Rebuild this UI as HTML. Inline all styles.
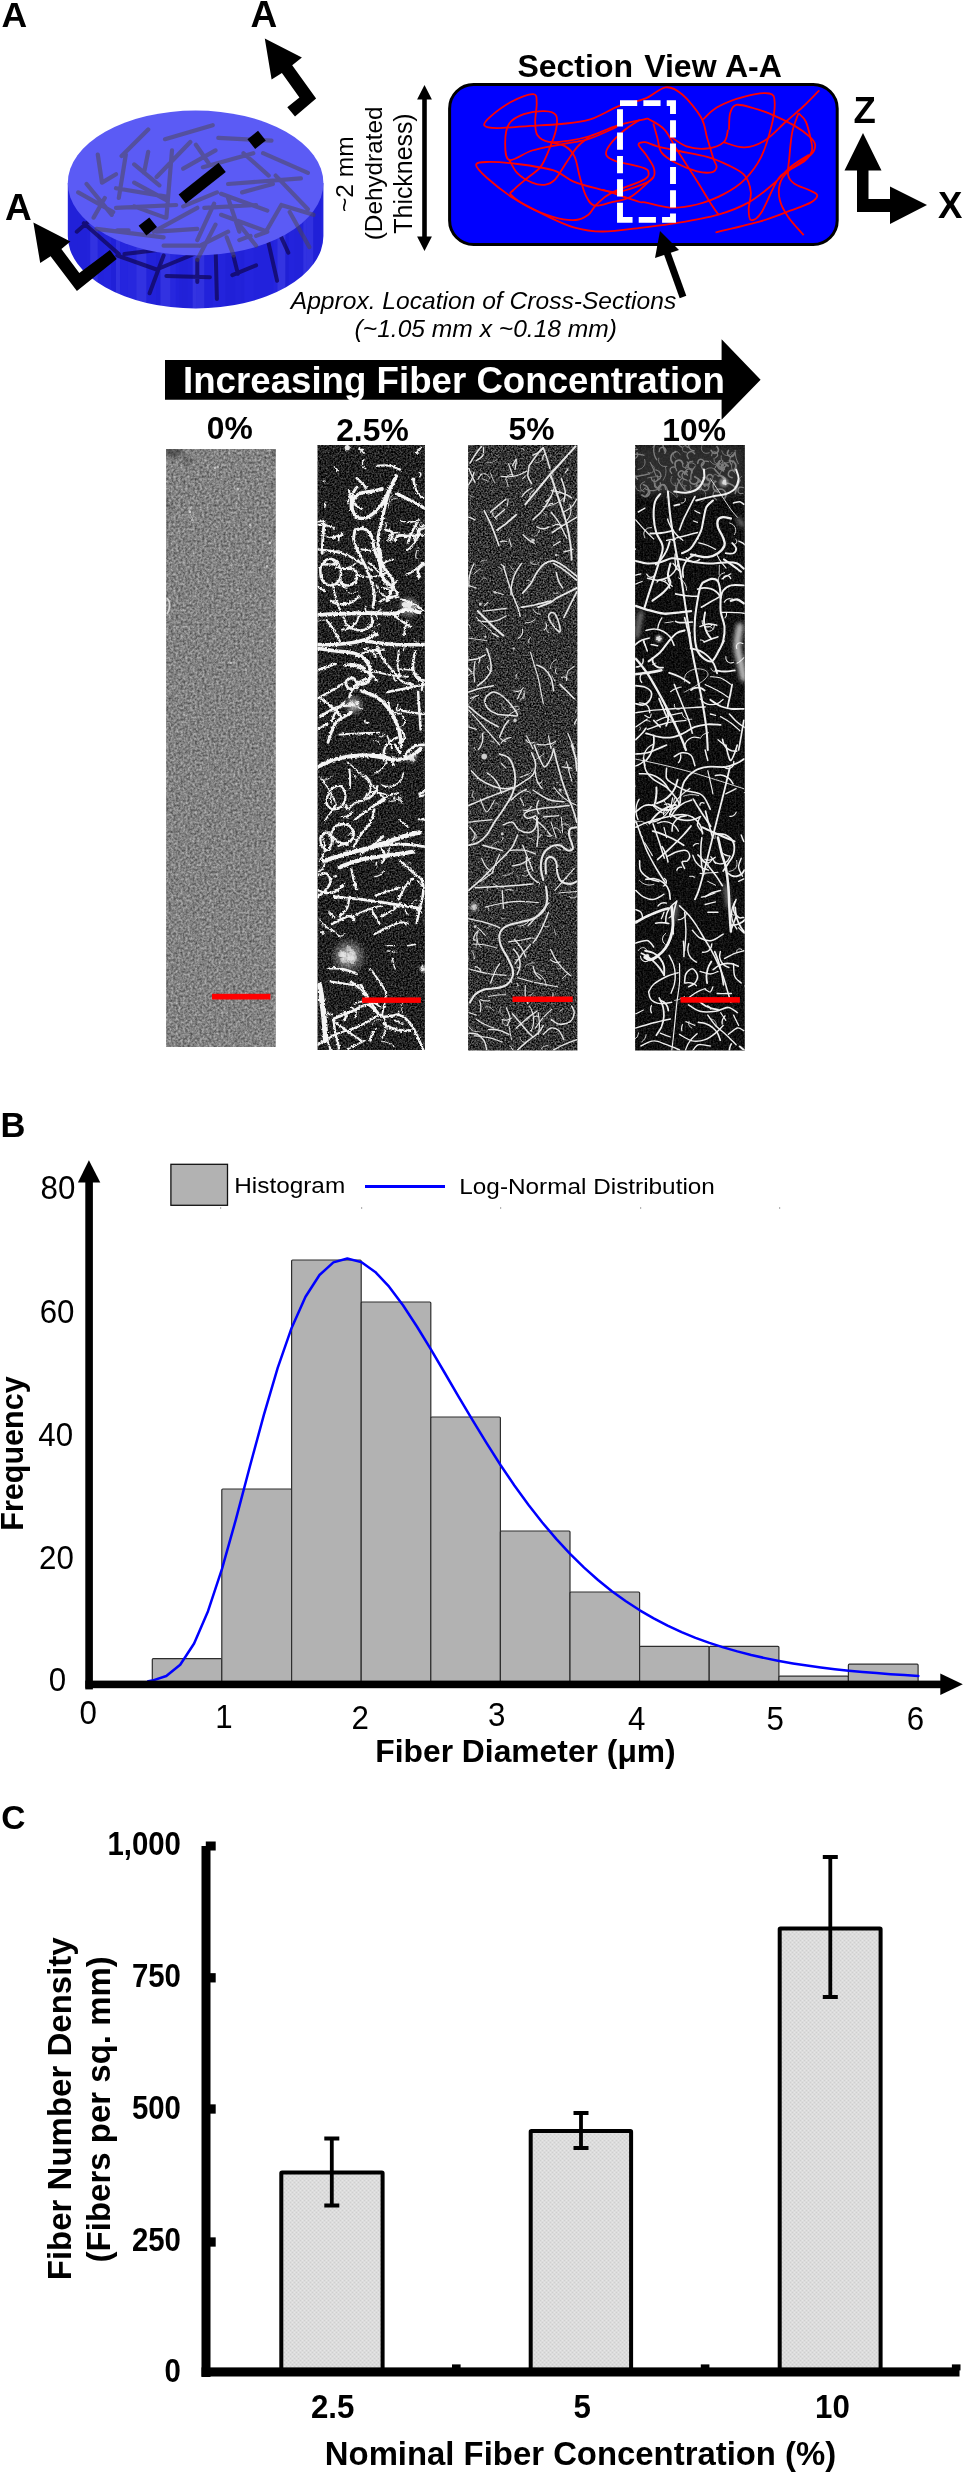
<!DOCTYPE html>
<html><head><meta charset="utf-8"><title>Figure</title>
<style>
html,body{margin:0;padding:0;background:#fff;}
body{width:964px;height:2473px;overflow:hidden;font-family:"Liberation Sans",sans-serif;}
svg{display:block;will-change:transform;}
text{font-family:"Liberation Sans",sans-serif;fill:#000;}
.b{font-weight:bold;}
.i{font-style:italic;}
</style></head><body>
<svg width="964" height="2473" viewBox="0 0 964 2473">
<defs>
<filter id="nz0" x="0" y="0" width="100%" height="100%" color-interpolation-filters="sRGB">
 <feTurbulence type="fractalNoise" baseFrequency="0.75" numOctaves="2" seed="3" result="t"/>
 <feColorMatrix in="t" type="matrix" values="0.9 0.9 0.9 0 -0.82  0.9 0.9 0.9 0 -0.82  0.9 0.9 0.9 0 -0.82  0 0 0 0 1"/>
</filter>
<filter id="nzd" x="0" y="0" width="100%" height="100%" color-interpolation-filters="sRGB">
 <feTurbulence type="fractalNoise" baseFrequency="0.8" numOctaves="2" seed="7" result="t"/>
 <feColorMatrix in="t" type="matrix" values="0.8 0.8 0.8 0 -1.05  0.8 0.8 0.8 0 -1.05  0.8 0.8 0.8 0 -1.05  0 0 0 0 1"/>
</filter>
<filter id="rough" x="-5%" y="-5%" width="110%" height="110%">
 <feTurbulence type="fractalNoise" baseFrequency="0.5" numOctaves="2" seed="11" result="t"/>
 <feDisplacementMap in="SourceGraphic" in2="t" scale="2.2" xChannelSelector="R" yChannelSelector="G"/>
</filter>
</defs>
<text x="1.5" y="26.8" class="b" font-size="35.5">A</text>
<g id="disc">
<path d="M67.8,183 L67.8,236 A127.8,72.5 0 0 0 323.4,236 L323.4,183 Z" fill="#2424de"/>
<clipPath id="sideclip"><path d="M67.8,183 L67.8,236 A127.8,72.5 0 0 0 323.4,236 L323.4,183 Z"/></clipPath>
<g clip-path="url(#sideclip)"><rect x="70.0" y="180" width="7.4" height="135" fill="rgba(0,0,150,0.07)"/><rect x="77.4" y="180" width="9.6" height="135" fill="rgba(0,0,150,0.07)"/><rect x="87.0" y="180" width="3.2" height="135" fill="rgba(0,0,150,0.05)"/><rect x="90.2" y="180" width="7.5" height="135" fill="rgba(200,200,255,0.09)"/><rect x="97.7" y="180" width="6.3" height="135" fill="rgba(0,0,150,0.02)"/><rect x="104.0" y="180" width="7.0" height="135" fill="rgba(200,200,255,0.00)"/><rect x="111.0" y="180" width="5.0" height="135" fill="rgba(0,0,150,0.09)"/><rect x="116.0" y="180" width="4.1" height="135" fill="rgba(200,200,255,0.08)"/><rect x="120.1" y="180" width="7.3" height="135" fill="rgba(200,200,255,0.01)"/><rect x="127.4" y="180" width="9.1" height="135" fill="rgba(200,200,255,0.02)"/><rect x="136.5" y="180" width="9.9" height="135" fill="rgba(200,200,255,0.09)"/><rect x="146.4" y="180" width="9.7" height="135" fill="rgba(0,0,150,0.05)"/><rect x="156.1" y="180" width="4.4" height="135" fill="rgba(0,0,150,0.09)"/><rect x="160.5" y="180" width="9.8" height="135" fill="rgba(200,200,255,0.09)"/><rect x="170.3" y="180" width="5.5" height="135" fill="rgba(200,200,255,0.02)"/><rect x="175.8" y="180" width="3.5" height="135" fill="rgba(0,0,150,0.03)"/><rect x="179.3" y="180" width="3.0" height="135" fill="rgba(0,0,150,0.07)"/><rect x="182.3" y="180" width="5.2" height="135" fill="rgba(0,0,150,0.08)"/><rect x="187.5" y="180" width="5.2" height="135" fill="rgba(0,0,150,0.05)"/><rect x="192.7" y="180" width="3.4" height="135" fill="rgba(200,200,255,0.10)"/><rect x="196.1" y="180" width="8.2" height="135" fill="rgba(200,200,255,0.08)"/><rect x="204.3" y="180" width="8.5" height="135" fill="rgba(0,0,150,0.04)"/><rect x="212.9" y="180" width="3.1" height="135" fill="rgba(200,200,255,0.00)"/><rect x="215.9" y="180" width="9.7" height="135" fill="rgba(0,0,150,0.02)"/><rect x="225.6" y="180" width="9.5" height="135" fill="rgba(0,0,150,0.09)"/><rect x="235.1" y="180" width="5.5" height="135" fill="rgba(0,0,150,0.05)"/><rect x="240.6" y="180" width="3.8" height="135" fill="rgba(0,0,150,0.07)"/><rect x="244.4" y="180" width="9.0" height="135" fill="rgba(0,0,150,0.00)"/><rect x="253.4" y="180" width="3.6" height="135" fill="rgba(0,0,150,0.03)"/><rect x="257.0" y="180" width="9.4" height="135" fill="rgba(0,0,150,0.03)"/><rect x="266.4" y="180" width="6.8" height="135" fill="rgba(0,0,150,0.03)"/><rect x="273.3" y="180" width="4.2" height="135" fill="rgba(200,200,255,0.01)"/><rect x="277.5" y="180" width="7.8" height="135" fill="rgba(200,200,255,0.10)"/><rect x="285.3" y="180" width="3.3" height="135" fill="rgba(0,0,150,0.10)"/><rect x="288.7" y="180" width="5.8" height="135" fill="rgba(0,0,150,0.02)"/><rect x="294.5" y="180" width="8.8" height="135" fill="rgba(0,0,150,0.05)"/><rect x="303.3" y="180" width="3.4" height="135" fill="rgba(200,200,255,0.09)"/><rect x="306.7" y="180" width="6.5" height="135" fill="rgba(200,200,255,0.08)"/><rect x="313.1" y="180" width="8.1" height="135" fill="rgba(0,0,150,0.09)"/><rect x="321.3" y="180" width="8.5" height="135" fill="rgba(0,0,150,0.01)"/></g>
<path d="M83.8,223.2 L118.8,254.1 M124.4,254.1 L169.2,248.5 M117.4,255.5 L156.6,269.5 M163.6,255.5 L149.6,293.3 M156.6,269.5 L197.3,252.7 M166.4,275.9 L209.9,277.3 M197.3,259.7 L197.3,282.1 M215.5,244.3 L216.9,298.9 M233.7,256.9 L237.9,273.7 M232.3,275.1 L256.1,265.3 M265.9,231.7 L277.1,280.7 M281.3,237.3 L288.3,252.7 M76.8,231.7 L99.2,212.0 " stroke="rgba(15,5,85,0.72)" stroke-width="4" stroke-linecap="round" fill="none"/>
<ellipse cx="195.6" cy="183" rx="127.8" ry="72.5" fill="#5b5bf5"/>
<path d="M165.0,139.2 L212.7,125.2 M121.6,156.0 L148.2,129.4 M97.8,154.6 L102.0,182.6 M86.6,184.0 L111.8,214.8 M102.0,182.6 L116.0,174.2 M125.8,154.6 L118.8,198.0 M148.2,151.8 L144.0,172.8 M134.2,164.4 L159.4,185.4 M156.6,177.0 L190.3,142.0 M172.0,150.4 L166.4,217.6 M183.2,168.6 L215.5,150.4 M195.9,144.8 L208.5,163.0 M218.3,137.8 L271.5,140.6 M202.9,167.2 L253.3,153.2 M243.5,153.2 L268.7,175.6 M263.1,153.2 L307.9,172.8 M275.7,175.6 L307.9,209.2 M228.1,184.0 L300.9,178.4 M221.1,193.8 L267.3,210.6 M204.3,207.8 L256.1,205.0 M228.1,198.0 L239.3,231.7 M214.1,203.6 L197.3,240.1 M215.5,224.6 L197.3,259.7 M221.1,214.8 L267.3,231.7 M281.3,205.0 L313.5,214.8 M281.3,205.0 L265.9,231.7 M289.7,212.0 L309.3,247.1 M116.0,188.2 L166.4,196.6 M134.2,182.6 L167.8,200.8 M116.0,207.8 L176.2,205.0 M134.2,206.4 L165.0,217.6 M78.2,192.4 L113.2,212.0 M96.4,228.9 L163.6,237.3 M117.4,230.3 L128.6,230.3 M153.8,231.7 L197.3,207.8 M156.6,231.7 L197.3,228.9 M163.6,245.7 L198.7,245.7 M226.7,237.3 L233.7,255.5 M239.3,240.1 L250.5,235.9 M267.3,231.7 L256.1,235.9 M104.8,198.0 L93.6,217.6 M183.2,206.4 L216.9,192.4 M242.1,192.4 L272.9,184.0 M233.7,217.6 L256.1,245.7 M200.1,245.7 L228.1,231.7 " stroke="rgba(78,70,72,0.5)" stroke-width="4.2" stroke-linecap="round" fill="none"/>
</g>
<g transform="translate(202.6,182.9) rotate(-38.5)" fill="#000"><rect x="-26" y="-5.8" width="51" height="11.6"/><rect x="62.2" y="-6.2" width="13.6" height="12.4"/><rect x="-76.8" y="-6.2" width="13.6" height="12.4"/></g>
<path d="M264.8,38.6 L301.9,57.6 L292.2,65.3 L316.1,98.4 L295,116.6 L287.3,107.3 L299.4,97.6 L281.9,73 L271.6,79.6 Z" fill="#000"/>
<path d="M33.4,222.5 L70.4,241.4 L61.4,249 L79.3,273.1 L109.9,250.1 L116.7,258.9 L76.9,290.9 L50.6,256.2 L40.2,262.9 Z" fill="#000"/>
<text x="250.6" y="27.3" class="b" font-size="37">A</text>
<text x="4.9" y="219.8" class="b" font-size="37">A</text>
<text y="76.6" class="b" font-size="32"><tspan x="517.4">Section</tspan><tspan x="644.2">View</tspan><tspan x="724.9">A-A</tspan></text>
<rect x="449.6" y="84.5" width="387.6" height="160" rx="24" ry="24" fill="#0000ff" stroke="#000" stroke-width="3"/>
<g fill="none" stroke="#ff0000" stroke-width="1.8"><path d="M653.3,123.6 C654.0,126.0 656.1,133.3 657.4,138.1 C658.8,142.9 658.5,148.5 661.6,152.6 C664.7,156.8 670.2,159.9 676.1,163.0 C682.0,166.1 691.0,169.7 696.9,171.3 C702.7,172.8 708.1,173.0 711.4,172.3 C714.7,171.6 716.2,169.4 716.6,167.1 C716.9,164.9 715.0,163.7 713.5,158.8 C711.9,154.0 709.3,145.0 707.2,138.1 C705.2,131.2 705.2,124.6 701.0,117.3 C696.9,110.1 688.2,99.5 682.3,94.5 C676.5,89.5 672.0,86.6 665.7,87.3 C659.5,88.0 652.7,95.6 645.0,98.7 C637.3,101.8 628.4,102.5 619.3,105.9 C610.1,109.4 599.9,116.4 590.2,119.4 C580.5,122.4 571.6,122.9 561.2,124.0 C550.8,125.1 538.7,125.4 528.0,126.1 C517.3,126.7 504.1,128.2 496.9,128.1 C489.6,128.1 485.6,127.4 484.4,125.6 C483.2,123.8 485.1,121.3 489.6,117.3 C494.1,113.4 504.1,105.7 511.4,101.8 C518.7,97.9 529.0,93.9 533.2,94.1 C537.4,94.3 536.4,98.3 536.7,102.8 C537.0,107.4 535.1,116.1 535.2,121.5 C535.4,126.9 535.1,131.6 537.3,135.0 C539.6,138.4 543.4,140.9 548.7,141.8 C554.1,142.8 562.6,141.5 569.5,140.6 C576.4,139.6 582.3,138.5 590.2,136.0 C598.2,133.5 608.2,128.4 617.2,125.6 C626.2,122.9 638.7,120.4 644.2,119.4 C649.6,118.4 646.4,118.1 649.8,119.8 C653.2,121.5 660.3,125.0 664.7,129.8 C669.1,134.6 671.1,140.5 676.1,148.5 C681.1,156.4 688.9,168.2 694.8,177.5 C700.7,186.8 707.4,198.3 711.4,204.5 C715.4,210.7 717.4,213.1 718.7,214.9"/><path d="M617.2,126.7 C612.4,128.8 597.5,136.2 588.2,139.1 C578.8,142.1 570.5,142.4 561.2,144.3 C551.8,146.2 540.8,147.9 532.1,150.5 C523.5,153.1 513.8,161.3 509.3,159.9 C504.8,158.5 505.2,148.3 505.2,142.2 C505.2,136.2 506.2,128.2 509.3,123.6 C512.4,118.9 518.0,116.3 523.8,114.2 C529.7,112.2 539.2,110.9 544.6,111.1 C549.9,111.3 554.1,112.2 556.0,115.3 C557.9,118.4 557.2,123.9 556.0,129.8 C554.8,135.7 551.3,144.3 548.7,150.5 C546.1,156.8 543.9,162.6 540.4,167.1 C537.0,171.6 532.5,173.7 528.0,177.5 C523.5,181.3 516.2,187.0 513.5,190.0 C510.7,192.9 509.0,192.4 511.4,195.1 C513.8,197.9 521.1,202.9 528.0,206.6 C534.9,210.2 544.9,214.7 552.9,216.9 C560.8,219.2 569.8,220.4 575.7,220.0 C581.6,219.7 584.7,217.4 588.2,214.9 C591.6,212.3 592.6,208.1 596.5,204.5 C600.3,200.9 603.0,197.2 611.0,193.1 C618.9,188.9 637.9,183.1 644.2,179.6 C650.4,176.1 648.4,174.0 648.5,172.1 C648.6,170.2 647.7,169.6 644.8,168.4 C641.9,167.2 636.1,165.9 631.1,164.7 C626.1,163.4 619.0,162.6 614.9,160.9 C610.8,159.2 607.0,157.4 606.2,154.7 C605.4,152.0 606.8,148.8 609.9,144.7 C613.0,140.5 619.9,134.0 624.9,129.8 C629.9,125.7 637.3,121.5 639.8,119.8"/><path d="M729.0,129.8 C729.2,127.0 728.9,117.3 730.1,113.2 C731.3,109.0 732.5,105.8 736.3,104.9 C740.1,104.0 746.7,106.3 752.9,108.0 C759.1,109.7 766.7,112.3 773.6,115.3 C780.5,118.2 788.5,122.2 794.4,125.6 C800.3,129.1 805.4,132.9 808.9,136.0 C812.4,139.1 814.8,141.2 815.1,144.3 C815.5,147.4 815.1,150.5 811.0,154.7 C806.8,158.8 795.8,165.1 790.2,169.2 C784.7,173.4 782.6,172.3 777.8,179.6 C772.9,186.8 765.7,206.0 761.2,212.8 C756.7,219.5 752.9,220.7 750.8,220.0 C748.7,219.3 748.7,213.3 748.7,208.6 C748.7,204.0 751.5,197.6 750.8,192.0 C750.1,186.5 748.4,179.9 744.6,175.4 C740.8,170.9 734.2,168.2 728.0,165.1 C721.8,162.0 715.9,159.2 707.2,156.8 C698.6,154.3 684.4,152.3 676.1,150.5 C667.8,148.8 662.6,147.8 657.4,146.4 C652.3,145.0 648.2,142.5 645.0,142.2 C641.8,142.0 638.3,142.6 638.5,144.7 C638.7,146.8 643.5,151.0 646.0,154.7 C648.5,158.4 652.2,163.4 653.5,167.1 C654.8,170.8 655.1,174.3 653.5,177.1 C651.9,179.9 650.2,181.2 644.2,183.7 C638.1,186.2 625.5,191.3 617.2,192.0 C608.9,192.7 601.6,189.6 594.4,187.9 C587.1,186.2 580.5,184.6 573.6,181.7 C566.7,178.7 562.2,173.2 552.9,170.2 C543.5,167.3 528.7,165.4 517.6,164.0 C506.5,162.6 493.4,161.8 486.5,162.0 C479.6,162.1 476.1,162.5 476.1,165.1 C476.1,167.7 480.3,172.0 486.5,177.5 C492.7,183.0 503.8,192.0 513.5,198.3 C523.1,204.5 534.6,210.0 544.6,214.9 C554.6,219.7 563.9,224.5 573.6,227.3 C583.3,230.1 590.9,231.5 602.7,231.5 C614.4,231.5 631.9,228.7 644.2,227.3 C656.4,225.9 663.9,225.2 676.1,223.2 C688.4,221.1 705.5,218.3 717.6,214.9 C729.7,211.4 739.4,207.6 748.7,202.4 C758.1,197.2 766.7,189.6 773.6,183.7 C780.5,177.9 784.3,172.0 790.2,167.1 C796.1,162.3 805.8,156.8 808.9,154.7"/><path d="M549.8,142.2 C552.4,142.9 561.2,144.0 565.3,146.4 C569.5,148.8 572.2,151.6 574.7,156.8 C577.1,162.0 578.0,170.9 579.9,177.5 C581.8,184.1 583.7,191.5 586.1,196.2 C588.5,200.9 590.2,204.5 594.4,205.5 C598.5,206.6 604.8,204.0 611.0,202.4 C617.2,200.9 624.6,200.4 631.7,196.2 C638.8,192.0 649.9,180.3 653.5,177.1"/><path d="M509.3,159.9 C510.7,162.1 513.8,169.6 517.6,173.4 C521.4,177.2 527.6,180.8 532.1,182.7 C536.6,184.6 540.8,185.3 544.6,184.8 C548.4,184.3 551.2,183.6 555.0,179.6 C558.8,175.6 563.6,166.4 567.4,160.9 C571.2,155.4 574.0,150.5 577.8,146.4 C581.6,142.2 588.2,137.7 590.2,136.0"/><path d="M703.1,119.4 C705.5,117.3 710.7,110.8 717.6,107.0 C724.5,103.2 735.9,98.8 744.6,96.6 C753.2,94.3 764.5,92.4 769.5,93.5 C774.5,94.5 774.3,97.5 774.7,102.8 C775.0,108.2 773.8,116.7 771.6,125.6 C769.3,134.6 765.7,147.8 761.2,156.8 C756.7,165.8 750.8,173.4 744.6,179.6 C738.4,185.8 731.8,190.0 723.8,194.1 C715.9,198.3 705.9,202.2 696.9,204.5 C687.9,206.7 678.5,207.9 669.9,207.6 C661.3,207.2 650.0,203.3 645.0,202.4 C640.0,201.5 643.8,203.1 639.8,202.0 C635.8,200.9 627.3,197.9 621.1,195.8 C614.9,193.7 605.5,190.6 602.4,189.5"/><path d="M669.9,136.0 C672.7,137.7 680.3,144.3 686.5,146.4 C692.7,148.5 701.0,149.2 707.2,148.5 C713.5,147.8 720.4,145.4 723.8,142.2 C727.3,139.1 727.3,131.9 728.0,129.8"/><path d="M723.8,142.2 C727.3,143.1 737.7,147.8 744.6,147.4 C751.5,147.1 758.4,144.5 765.3,140.2 C772.2,135.8 779.9,127.0 786.1,121.5 C792.3,116.0 797.1,112.2 802.7,107.0 C808.2,101.8 816.5,93.1 819.3,90.4"/><path d="M798.5,113.2 C797.5,116.3 793.9,124.3 792.3,131.9 C790.7,139.5 789.9,151.6 789.2,158.8 C788.5,166.1 787.3,171.3 788.2,175.4 C789.0,179.6 790.9,181.3 794.4,183.7 C797.8,186.2 805.1,188.1 808.9,190.0 C812.7,191.9 816.9,193.1 817.2,195.1 C817.5,197.2 815.5,199.8 811.0,202.4 C806.5,205.0 798.5,207.6 790.2,210.7 C781.9,213.8 773.6,217.4 761.2,221.1 C748.7,224.7 723.1,230.6 715.5,232.5"/><path d="M798.5,113.2 C799.7,114.6 803.7,117.0 805.8,121.5 C807.9,126.0 809.9,135.3 811.0,140.2 C812.0,145.0 813.0,147.1 812.0,150.5 C811.0,154.0 808.7,157.5 804.8,160.9 C800.8,164.4 792.3,167.5 788.2,171.3 C784.0,175.1 781.2,178.9 779.9,183.7 C778.5,188.6 778.5,194.8 779.9,200.3 C781.2,205.9 784.2,211.1 788.2,216.9 C792.1,222.7 801.1,232.1 803.7,235.2"/></g>
<path d="M620,219.9 L620,103.1 L673,103.1 L673,219.9 Z" fill="none" stroke="#fff" stroke-width="5.9" stroke-dasharray="17.2 6.16"/>
<path d="M424.5,97 L424.5,239" stroke="#000" stroke-width="4.6" fill="none"/>
<path d="M424.5,85 L417.1,99.5 L431.9,99.5 Z M424.5,251.1 L417.1,236.6 L431.9,236.6 Z" fill="#000"/>
<text transform="translate(352.8,174.2) rotate(-90)" text-anchor="middle" font-size="24.5">~2 mm</text>
<text transform="translate(381.6,173.4) rotate(-90)" text-anchor="middle" font-size="24.3">(Dehydrated</text>
<text transform="translate(412,173.5) rotate(-90)" text-anchor="middle" font-size="24.9">Thickness)</text>
<text x="853.6" y="123.3" class="b" font-size="36.5">Z</text>
<text x="938" y="217.8" class="b" font-size="36.5">X</text>
<path d="M863,133 L881.5,170.5 L868.5,170.5 L868.5,199 L890,199 L890,186.5 L927,205 L890,224 L890,212 L857,212 L857,170.5 L844.5,170.5 Z" fill="#000"/>
<text x="483.5" y="308.5" class="i" text-anchor="middle" font-size="24.6">Approx. Location of Cross-Sections</text>
<text x="485.8" y="336.6" class="i" text-anchor="middle" font-size="24.6">(~1.05 mm x ~0.18 mm)</text>
<path d="M683,297 L665,247" stroke="#000" stroke-width="7" fill="none"/>
<path d="M660,231 L679,250 L655,258 Z" fill="#000"/>
<path d="M165,360 L721.6,360 L721.6,339.3 L760.6,379.8 L721.6,419.8 L721.6,399.8 L165,399.8 Z" fill="#000"/>
<text transform="translate(183,393.2) scale(0.978,1)" class="b" font-size="37.5" style="fill:#fff">Increasing Fiber Concentration</text>
<text x="206.8" y="438.9" class="b" font-size="31.8">0%</text>
<text x="336.2" y="441" class="b" font-size="31.8">2.5%</text>
<text x="508.5" y="439.5" class="b" font-size="31.8">5%</text>
<text x="662.3" y="440.5" class="b" font-size="31.8">10%</text>
<defs><filter id="n0" x="0" y="0" width="100%" height="100%" color-interpolation-filters="sRGB"><feTurbulence type="fractalNoise" baseFrequency="0.42" numOctaves="2" seed="4"/><feColorMatrix type="matrix" values="0.6 0 0 0 0.21  0.6 0 0 0 0.21  0.6 0 0 0 0.21  0 0 0 0 1"/></filter><filter id="n25" x="0" y="0" width="100%" height="100%" color-interpolation-filters="sRGB"><feTurbulence type="fractalNoise" baseFrequency="0.6" numOctaves="2" seed="9"/><feColorMatrix type="matrix" values="0.7 0 0 0 -0.22  0.7 0 0 0 -0.22  0.7 0 0 0 -0.22  0 0 0 0 1"/></filter><filter id="n5" x="0" y="0" width="100%" height="100%" color-interpolation-filters="sRGB"><feTurbulence type="fractalNoise" baseFrequency="0.6" numOctaves="2" seed="21"/><feColorMatrix type="matrix" values="0.95 0 0 0 -0.275  0.95 0 0 0 -0.275  0.95 0 0 0 -0.275  0 0 0 0 1"/></filter><filter id="n10" x="0" y="0" width="100%" height="100%" color-interpolation-filters="sRGB"><feTurbulence type="fractalNoise" baseFrequency="0.6" numOctaves="2" seed="33"/><feColorMatrix type="matrix" values="0.35 0 0 0 -0.115  0.35 0 0 0 -0.115  0.35 0 0 0 -0.115  0 0 0 0 1"/></filter><filter id="rough25" x="-5%" y="-2%" width="110%" height="104%"><feTurbulence type="fractalNoise" baseFrequency="0.45" numOctaves="2" seed="5"/><feDisplacementMap in="SourceGraphic" scale="3.2" xChannelSelector="R" yChannelSelector="G"/></filter><filter id="rough5" x="-5%" y="-2%" width="110%" height="104%"><feTurbulence type="fractalNoise" baseFrequency="0.6" numOctaves="2" seed="8"/><feDisplacementMap in="SourceGraphic" scale="1.6" xChannelSelector="R" yChannelSelector="G"/></filter><filter id="blur2" filterUnits="userSpaceOnUse" x="150" y="430" width="620" height="640"><feGaussianBlur stdDeviation="2.2"/></filter><radialGradient id="halo"><stop offset="0" stop-color="#fff" stop-opacity="0.75"/><stop offset="0.5" stop-color="#fff" stop-opacity="0.35"/><stop offset="1" stop-color="#fff" stop-opacity="0"/></radialGradient><filter id="blur4" filterUnits="userSpaceOnUse" x="600" y="430" width="180" height="100"><feGaussianBlur stdDeviation="4"/></filter></defs>
<clipPath id="cp0"><rect x="166.1" y="449" width="109.7" height="598"/></clipPath>
<g clip-path="url(#cp0)">
<rect x="166.1" y="449" width="109.7" height="598" filter="url(#n0)"/>
<g filter="url(#blur2)"><ellipse cx="172" cy="452" rx="12" ry="5" fill="#222" opacity="0.5"/><ellipse cx="188" cy="461" rx="4" ry="3" fill="#222" opacity="0.45"/><ellipse cx="276.5" cy="453" rx="3" ry="5" fill="#222" opacity="0.35"/><ellipse cx="168.5" cy="506" rx="3" ry="2.5" fill="#222" opacity="0.35"/><ellipse cx="276" cy="530" rx="4" ry="2" fill="#222" opacity="0.4"/><ellipse cx="275" cy="488" rx="2" ry="5" fill="#222" opacity="0.25"/></g>
<circle cx="238" cy="489" r="1.2" fill="#ddd" opacity="0.8"/>
<circle cx="250" cy="525" r="1.1" fill="#ddd" opacity="0.8"/>
<circle cx="190" cy="512" r="1.3" fill="#ddd" opacity="0.8"/>
<circle cx="192" cy="520" r="1" fill="#ddd" opacity="0.8"/>
<circle cx="270" cy="543" r="1.2" fill="#ddd" opacity="0.8"/>
<circle cx="267" cy="566" r="1" fill="#ddd" opacity="0.8"/>
<circle cx="238" cy="590" r="1" fill="#ddd" opacity="0.8"/>
<circle cx="231" cy="663" r="1" fill="#ddd" opacity="0.8"/>
<circle cx="215" cy="468" r="1" fill="#ddd" opacity="0.8"/>
<circle cx="218" cy="467" r="1" fill="#ddd" opacity="0.8"/>
<path d="M166.5,598 C170,600 171,608 167,614" stroke="#ddd" stroke-width="1.6" fill="none" opacity="0.85"/>
<path d="M189,511 L192,506 M190,514 L194,521" stroke="#ccc" stroke-width="1" fill="none" opacity="0.7"/>
</g>
<clipPath id="cp1"><rect x="317.5" y="445.1" width="107.4" height="604.8"/></clipPath>
<g clip-path="url(#cp1)">
<rect x="317.5" y="445.1" width="107.4" height="604.8" filter="url(#n25)"/>
<g fill="none" stroke="#f4f4f4" stroke-linecap="round" stroke-linejoin="round" filter="url(#rough25)"><path d="M396.2,476.0 C395.1,478.2 392.1,484.2 389.8,488.9 C387.4,493.6 385.0,500.0 382.0,504.3 C379.0,508.6 375.2,512.2 371.7,514.6 C368.3,517.0 364.5,518.7 361.5,518.5 C358.5,518.3 355.2,516.1 353.7,513.3 C352.2,510.5 351.6,505.0 352.4,501.7 C353.3,498.5 355.9,495.7 358.9,494.0 C361.9,492.3 366.6,492.3 370.5,491.5 C374.3,490.6 380.1,489.3 382.0,488.9" stroke-width="3.54"/><path d="M394.9,478.6 C393.6,481.8 389.3,491.0 387.2,497.9 C385.0,504.7 383.5,513.1 382.0,519.8 C380.5,526.4 378.6,531.8 378.2,537.8 C377.7,543.8 378.4,550.6 379.5,555.8 C380.5,560.9 382.5,564.8 384.6,568.6 C386.8,572.5 391.0,575.7 392.3,578.9 C393.6,582.1 393.2,584.3 392.3,587.9 C391.5,591.6 388.0,598.6 387.2,600.8" stroke-width="3.22"/><path d="M355.0,530.0 C356.5,529.8 361.2,527.7 364.0,528.8 C366.8,529.8 370.0,533.0 371.7,536.5 C373.5,539.9 373.0,545.1 374.3,549.3 C375.6,553.6 378.2,557.9 379.5,562.2 C380.7,566.5 380.7,571.4 382.0,575.1 C383.3,578.7 386.3,582.6 387.2,584.1" stroke-width="3.22"/><path d="M355.0,530.0 C354.8,531.8 353.1,536.5 353.7,540.3 C354.4,544.2 357.0,548.9 358.9,553.2 C360.8,557.5 363.4,561.8 365.3,566.1 C367.2,570.3 369.0,574.2 370.5,578.9 C372.0,583.6 373.9,589.6 374.3,594.4 C374.7,599.1 373.2,605.1 373.0,607.2" stroke-width="2.89"/><path d="M317.7,614.9 C321.8,614.7 333.8,614.0 342.2,613.7 C350.5,613.3 359.3,613.0 367.9,613.0 C376.5,613.0 387.2,614.2 393.6,613.7 C400.0,613.1 402.2,610.0 406.5,609.8 C410.8,609.6 417.2,611.9 419.3,612.4" stroke-width="3.86"/><path d="M317.7,644.5 C320.7,644.5 328.4,645.2 335.7,644.5 C343.0,643.9 354.6,642.4 361.5,640.7 C368.3,639.0 374.3,635.3 376.9,634.2" stroke-width="3.54"/><path d="M361.5,640.7 C366.8,641.3 383.1,643.9 393.6,644.5 C404.1,645.2 419.3,644.5 424.5,644.5" stroke-width="3.54"/><path d="M317.7,648.4 C320.7,648.8 329.5,650.1 335.7,651.0 C341.9,651.8 349.9,651.8 355.0,653.5 C360.2,655.2 364.0,658.2 366.6,661.3 C369.2,664.3 370.2,668.1 370.5,671.5 C370.7,675.0 369.8,679.7 367.9,681.8 C366.0,684.0 360.4,684.0 358.9,684.4" stroke-width="3.54"/><path d="M358.9,684.4 C357.8,683.3 354.6,678.4 352.4,678.0 C350.3,677.5 346.7,680.1 346.0,681.8 C345.4,683.5 346.9,687.2 348.6,688.3 C350.3,689.3 354.6,688.9 356.3,688.3 C358.0,687.6 358.5,685.0 358.9,684.4" stroke-width="2.89"/><path d="M317.7,670.3 C320.7,669.2 332.7,664.9 335.7,663.8" stroke-width="2.57"/><path d="M317.7,698.6 C321.8,696.2 338.1,686.8 342.2,684.4" stroke-width="2.57"/><path d="M320.3,568.6 C321.4,567.1 324.1,560.9 326.7,559.6 C329.3,558.3 333.4,559.0 335.7,560.9 C338.1,562.8 340.4,567.8 340.9,571.2 C341.3,574.6 340.2,579.1 338.3,581.5 C336.4,583.9 332.1,585.8 329.3,585.4 C326.5,584.9 323.1,581.7 321.6,578.9 C320.1,576.1 320.5,570.3 320.3,568.6" stroke-width="2.57"/><path d="M342.2,568.6 C344.3,568.8 352.7,568.0 355.0,569.9 C357.4,571.8 357.4,577.6 356.3,580.2 C355.2,582.8 350.9,584.7 348.6,585.4 C346.2,586.0 343.2,584.3 342.2,584.1" stroke-width="2.57"/><path d="M324.1,522.3 C323.9,524.9 323.2,532.6 322.9,537.8 C322.5,542.9 322.3,550.6 322.2,553.2" stroke-width="2.89"/><path d="M331.9,537.8 C333.6,537.3 340.4,535.6 342.2,535.2" stroke-width="2.57"/><path d="M361.5,690.8 C364.0,691.9 372.2,694.1 376.9,697.3 C381.6,700.5 386.1,704.8 389.8,710.1 C393.4,715.5 396.8,723.4 398.8,729.4 C400.7,735.4 400.9,743.4 401.3,746.1" stroke-width="3.54"/><path d="M387.2,692.1 C390.4,691.5 400.3,689.5 406.5,688.3 C412.7,687.0 421.5,685.0 424.5,684.4" stroke-width="2.57"/><path d="M418.1,692.1 C418.3,695.1 418.9,703.9 419.3,710.1 C419.8,716.3 420.4,726.2 420.6,729.4" stroke-width="2.57"/><path d="M400.0,710.1 C402.2,710.6 408.8,712.1 412.9,712.7 C417.0,713.3 422.6,713.8 424.5,714.0" stroke-width="2.57"/><path d="M320.3,716.6 C322.9,715.1 330.4,709.5 335.7,707.6 C341.1,705.6 349.7,705.4 352.4,705.0" stroke-width="2.57"/><path d="M328.0,742.3 C329.3,739.1 331.9,727.9 335.7,723.0 C339.6,718.1 348.6,714.4 351.2,712.7" stroke-width="2.89"/><path d="M339.6,734.6 C343.2,734.4 354.8,733.6 361.5,733.3 C368.1,733.0 376.5,732.7 379.5,732.6" stroke-width="1.93"/><path d="M415.5,651.0 C415.1,653.3 412.7,660.6 412.9,665.1 C413.1,669.6 414.8,675.4 416.8,678.0 C418.7,680.5 423.2,680.1 424.5,680.5" stroke-width="2.57"/><path d="M424.5,563.5 C423.4,564.6 418.9,567.6 418.1,569.9 C417.2,572.3 419.1,576.4 419.3,577.6" stroke-width="2.89"/><path d="M376.9,648.4 C378.2,650.5 381.8,657.4 384.6,661.3 C387.4,665.1 390.6,668.1 393.6,671.5 C396.6,675.0 399.4,679.7 402.6,681.8 C405.8,684.0 411.2,684.0 412.9,684.4" stroke-width="2.25"/><path d="M398.8,651.0 C398.5,653.3 397.3,661.0 397.5,665.1 C397.7,669.2 399.6,673.7 400.0,675.4" stroke-width="1.93"/><path d="M397.5,494.0 C400.0,495.3 408.4,499.4 412.9,501.7 C417.4,504.1 422.6,507.1 424.5,508.2" stroke-width="3.22"/><path d="M412.9,478.6 C413.6,480.7 415.1,488.2 416.8,491.5 C418.5,494.7 422.1,496.8 423.2,497.9" stroke-width="2.25"/><path d="M416.8,452.9 C417.4,452.0 420.0,448.6 420.6,447.7" stroke-width="2.25"/><path d="M376.9,465.7 C379.0,465.7 385.9,465.1 389.8,465.7 C393.6,466.4 398.3,468.9 400.0,469.6" stroke-width="2.25"/><path d="M407.8,542.9 C408.6,540.8 411.4,533.3 412.9,530.0 C414.4,526.8 416.1,524.7 416.8,523.6" stroke-width="2.25"/><path d="M397.5,535.2 C400.0,535.3 408.4,535.8 412.9,535.8 C417.4,535.8 422.6,535.3 424.5,535.2" stroke-width="2.25"/><path d="M385.9,530.0 C387.0,530.5 391.5,530.9 392.3,532.6 C393.2,534.3 391.3,539.0 391.0,540.3" stroke-width="2.57"/><path d="M326.7,620.1 C327.8,621.6 331.0,625.7 333.2,629.1 C335.3,632.5 338.5,638.7 339.6,640.7" stroke-width="2.25"/><path d="M343.4,617.5 C344.3,619.0 345.6,624.4 348.6,626.5 C351.6,628.7 357.6,630.6 361.5,630.4 C365.3,630.2 370.0,627.4 371.7,625.2 C373.5,623.1 371.7,618.8 371.7,617.5" stroke-width="2.25"/><path d="M317.7,549.3 C320.7,549.8 330.6,550.8 335.7,551.9 C340.9,553.0 344.3,553.8 348.6,555.8 C352.9,557.7 359.3,562.2 361.5,563.5" stroke-width="2.25"/><path d="M387.2,581.5 C388.9,583.6 397.7,591.6 397.5,594.4 C397.3,597.1 388.9,596.9 385.9,598.2 C382.9,599.5 380.5,601.4 379.5,602.1" stroke-width="2.25"/><path d="M333.2,586.6 C333.6,588.6 334.7,594.4 335.7,598.2 C336.8,602.1 338.9,607.9 339.6,609.8" stroke-width="1.93"/><path d="M325.4,591.8 C324.1,590.9 319.0,587.5 317.7,586.6" stroke-width="1.93"/><path d="M400.0,669.0 C402.2,669.2 410.8,670.0 412.9,670.3" stroke-width="1.61"/><path d="M374.3,671.5 C377.3,672.2 386.8,674.5 392.3,675.4 C397.9,676.3 405.2,676.5 407.8,676.7" stroke-width="1.93"/><path d="M317.7,729.4 C319.4,728.4 326.3,724.1 328.0,723.0" stroke-width="1.93"/><path d="M358.9,447.7 C359.7,448.6 363.2,452.0 364.0,452.9" stroke-width="1.93"/><path d="M361.5,549.3 C363.0,549.6 369.0,550.4 370.5,550.6" stroke-width="1.93"/><path d="M387.2,735.9 C388.0,738.0 391.5,746.6 392.3,748.7" stroke-width="1.61"/><path d="M317.7,766.9 C320.7,765.6 328.4,761.1 335.7,759.1 C343.0,757.2 353.7,755.6 361.5,755.3 C369.2,755.0 376.0,756.5 382.0,757.2 C388.0,758.0 392.8,759.9 397.5,759.8 C402.2,759.7 406.5,758.4 410.3,756.6 C414.2,754.8 418.9,750.1 420.6,748.9" stroke-width="4.02"/><path d="M347.3,761.7 C349.7,763.9 357.0,770.3 361.5,774.6 C366.0,778.9 370.5,783.4 374.3,787.4 C378.2,791.5 382.9,797.1 384.6,799.0" stroke-width="1.45"/><path d="M320.3,777.2 C321.8,779.3 326.7,785.7 329.3,790.0 C331.9,794.3 334.7,800.7 335.7,802.9" stroke-width="1.45"/><path d="M326.7,799.0 C327.6,797.3 329.5,790.9 331.9,788.7 C334.2,786.6 338.6,785.1 340.9,786.2 C343.1,787.2 345.2,792.0 345.4,795.2 C345.6,798.4 344.2,803.1 342.2,805.5 C340.1,807.8 335.7,809.5 333.2,809.3 C330.6,809.1 327.8,805.9 326.7,804.2 C325.7,802.5 326.7,799.9 326.7,799.0" stroke-width="2.25"/><path d="M348.6,809.3 C349.7,808.2 352.4,804.4 355.0,802.9 C357.6,801.4 362.1,801.8 364.0,800.3 C366.0,798.8 366.2,795.0 366.6,793.9" stroke-width="1.93"/><path d="M355.0,819.6 C356.7,818.3 362.1,814.2 365.3,811.9 C368.5,809.5 371.1,807.4 374.3,805.5 C377.5,803.5 382.9,801.2 384.6,800.3" stroke-width="2.25"/><path d="M330.6,835.0 C331.4,833.5 332.9,827.8 335.7,826.0 C338.5,824.3 344.3,823.7 347.3,824.8 C350.3,825.8 353.3,829.7 353.7,832.5 C354.2,835.3 352.2,839.8 349.9,841.5 C347.5,843.2 342.8,843.8 339.6,842.8 C336.4,841.7 332.1,836.3 330.6,835.0" stroke-width="2.57"/><path d="M320.3,837.6 C321.4,836.8 324.8,832.0 326.7,832.5 C328.7,832.9 331.7,837.2 331.9,840.2 C332.1,843.2 329.7,849.6 328.0,850.5 C326.3,851.3 322.9,847.5 321.6,845.3 C320.3,843.2 320.5,838.9 320.3,837.6" stroke-width="2.25"/><path d="M353.7,846.6 C355.0,844.5 358.7,837.8 361.5,833.8 C364.2,829.7 368.3,826.3 370.5,822.2 C372.6,818.1 373.7,811.5 374.3,809.3" stroke-width="2.25"/><path d="M324.1,860.8 C328.2,859.5 340.2,855.4 348.6,853.1 C357.0,850.7 365.7,849.2 374.3,846.6 C382.9,844.0 392.5,840.0 400.0,837.6 C407.5,835.3 416.1,833.3 419.3,832.5" stroke-width="4.50"/><path d="M339.6,867.2 C343.2,865.9 353.5,861.4 361.5,859.5 C369.4,857.6 378.6,856.9 387.2,855.6 C395.8,854.3 408.6,852.4 412.9,851.8" stroke-width="4.18"/><path d="M374.3,846.6 C378.6,846.2 391.7,844.0 400.0,844.0 C408.4,844.0 420.4,846.2 424.5,846.6" stroke-width="2.89"/><path d="M400.0,860.8 C402.2,862.7 409.3,869.1 412.9,872.3 C416.6,875.6 420.2,876.6 421.9,880.1 C423.6,883.5 423.6,887.8 423.2,892.9 C422.8,898.1 420.4,906.0 419.3,910.9 C418.3,915.9 417.2,920.6 416.8,922.5" stroke-width="2.57"/><path d="M351.2,868.5 C351.6,870.4 352.9,876.6 353.7,880.1 C354.6,883.5 355.9,887.6 356.3,889.1" stroke-width="2.25"/><path d="M317.7,896.8 C319.0,895.7 323.3,892.9 325.4,890.4 C327.6,887.8 330.4,884.1 330.6,881.4 C330.8,878.6 328.7,874.7 326.7,873.6 C324.8,872.6 320.3,874.7 319.0,874.9" stroke-width="2.57"/><path d="M334.4,896.8 C338.9,897.2 352.7,898.3 361.5,899.4 C370.2,900.4 377.3,901.7 387.2,903.2 C397.0,904.7 415.1,907.5 420.6,908.4" stroke-width="2.89"/><path d="M375.6,895.5 C377.5,894.9 383.3,892.9 387.2,891.6 C391.0,890.4 396.8,888.4 398.8,887.8" stroke-width="2.25"/><path d="M398.8,899.4 C399.8,897.2 402.8,889.9 405.2,886.5 C407.5,883.1 411.6,880.1 412.9,878.8" stroke-width="2.25"/><path d="M382.0,916.1 C384.0,915.0 390.6,911.8 393.6,909.7 C396.6,907.5 399.0,904.3 400.0,903.2" stroke-width="2.25"/><path d="M331.9,923.8 C333.6,922.9 339.2,919.9 342.2,918.7 C345.2,917.4 347.7,915.9 349.9,916.1 C352.0,916.3 354.2,919.3 355.0,919.9" stroke-width="2.57"/><path d="M374.3,934.1 C376.5,933.0 382.9,929.6 387.2,927.7 C391.5,925.7 396.6,923.2 400.0,922.5 C403.5,921.9 406.5,923.6 407.8,923.8" stroke-width="2.25"/><path d="M330.6,981.7 C333.6,982.1 343.4,983.6 348.6,984.3 C353.7,984.9 359.3,985.3 361.5,985.5" stroke-width="2.25"/><path d="M319.6,985.5 C320.1,988.3 321.4,996.3 322.2,1002.3 C323.0,1008.3 323.8,1015.1 324.4,1021.6 C325.0,1028.0 325.5,1037.6 325.7,1040.9" stroke-width="5.47"/><path d="M361.5,985.5 C362.5,987.5 365.3,992.8 367.9,997.1 C370.5,1001.4 374.5,1008.1 376.9,1011.3 C379.2,1014.5 381.2,1015.6 382.0,1016.4" stroke-width="2.25"/><path d="M370.5,968.8 C372.0,971.0 376.9,977.6 379.5,981.7 C382.0,985.8 385.3,988.8 385.9,993.3 C386.5,997.8 384.0,1004.8 383.3,1008.7 C382.7,1012.6 382.2,1015.1 382.0,1016.4" stroke-width="1.93"/><path d="M333.2,1019.0 C336.4,1017.7 346.7,1013.6 352.4,1011.3 C358.2,1008.9 363.0,1004.0 367.9,1004.8 C372.8,1005.7 376.7,1014.7 382.0,1016.4 C387.4,1018.1 395.1,1013.6 400.0,1015.1 C405.0,1016.6 408.4,1021.1 411.6,1025.4 C414.8,1029.7 417.4,1036.8 419.3,1040.9 C421.3,1044.9 422.6,1048.4 423.2,1049.9" stroke-width="2.57"/><path d="M333.2,1019.0 C333.6,1021.6 334.7,1029.3 335.7,1034.4 C336.8,1039.6 338.9,1047.3 339.6,1049.9" stroke-width="2.25"/><path d="M335.7,1022.8 C337.9,1024.3 344.3,1028.9 348.6,1031.9 C352.9,1034.9 359.3,1039.4 361.5,1040.9" stroke-width="1.93"/><path d="M317.7,1044.7 C320.7,1043.0 329.5,1037.2 335.7,1034.4 C341.9,1031.6 349.7,1030.1 355.0,1028.0 C360.4,1025.9 364.0,1023.7 367.9,1021.6 C371.7,1019.4 376.5,1016.2 378.2,1015.1" stroke-width="2.25"/><path d="M384.6,1019.0 C384.8,1020.5 386.3,1024.8 385.9,1028.0 C385.5,1031.2 382.7,1036.6 382.0,1038.3" stroke-width="1.61"/><path d="M348.6,1048.6 C351.2,1047.3 361.5,1042.1 364.0,1040.9" stroke-width="1.93"/><path d="M394.9,1020.3 C396.2,1020.9 401.3,1023.5 402.6,1024.1" stroke-width="1.93"/><path d="M407.8,945.7 C409.0,945.5 414.2,944.6 415.5,944.4" stroke-width="1.61"/><path d="M387.2,945.7 C388.5,945.7 393.6,945.7 394.9,945.7" stroke-width="1.29"/><path d="M387.2,950.8 C388.5,951.0 393.6,951.9 394.9,952.1" stroke-width="1.29"/><path d="M371.7,910.9 C372.6,912.2 375.6,916.5 376.9,918.7 C378.2,920.8 379.0,922.9 379.5,923.8" stroke-width="2.25"/><path d="M329.3,912.2 C330.2,913.1 333.6,916.5 334.4,917.4" stroke-width="1.93"/><path d="M392.3,958.5 C392.8,960.2 394.5,967.1 394.9,968.8" stroke-width="1.29"/><path d="M405.2,910.9 C405.6,911.6 407.3,914.2 407.8,914.8" stroke-width="1.61"/><path d="M394.9,745.0 C395.8,746.3 399.2,751.4 400.0,752.7" stroke-width="2.89"/><path d="M419.3,796.5 C420.2,796.2 423.6,795.4 424.5,795.2" stroke-width="1.93"/><path d="M400.0,819.6 C401.3,820.9 406.5,826.0 407.8,827.3" stroke-width="1.61"/><path d="M325.4,1034.4 C326.3,1037.0 329.7,1047.3 330.6,1049.9" stroke-width="1.93"/><path d="M380.2,563.6 C380.7,563.5 382.3,563.1 383.4,562.8 C384.4,562.5 385.5,562.2 386.5,561.8 C387.6,561.5 388.6,561.1 389.7,560.7 C390.7,560.3 392.2,559.7 392.8,559.5" stroke-width="1.33"/><path d="M341.0,579.9 C341.0,580.4 341.0,581.8 341.2,582.6 C341.5,583.5 341.9,584.4 342.4,585.1 C342.9,585.8 343.6,586.5 344.4,587.0 C345.1,587.5 346.4,588.0 346.8,588.1" stroke-width="1.58"/><path d="M325.5,562.7 C326.0,562.9 327.3,563.6 328.2,563.9 C329.1,564.2 330.1,564.4 331.1,564.6 C332.0,564.7 333.0,564.8 334.0,564.8 C335.0,564.8 336.4,564.6 336.9,564.6" stroke-width="1.18"/><path d="M352.9,831.0 C352.7,831.2 352.1,831.6 351.7,832.0 C351.3,832.3 351.0,832.7 350.6,833.0 C350.3,833.4 349.9,833.8 349.6,834.2 C349.3,834.6 348.9,835.2 348.7,835.4" stroke-width="1.04"/><path d="M358.6,701.5 C358.4,701.9 357.7,703.1 357.6,704.0 C357.5,704.8 357.7,705.8 358.2,706.6 C358.6,707.3 359.3,708.0 360.1,708.4 C360.8,708.8 362.3,708.8 362.7,708.9" stroke-width="1.17"/><path d="M375.3,654.7 C375.7,654.5 377.1,654.1 377.7,653.5 C378.4,652.9 378.9,652.0 379.1,651.1 C379.3,650.2 379.3,649.2 379.0,648.3 C378.7,647.5 377.6,646.5 377.3,646.1" stroke-width="1.25"/><path d="M334.4,466.9 C334.6,467.0 335.2,467.4 335.5,467.7 C335.9,468.0 336.2,468.4 336.4,468.7 C336.7,469.1 336.9,469.5 337.1,470.0 C337.2,470.4 337.4,471.1 337.4,471.3" stroke-width="1.38"/><path d="M356.8,840.0 C356.5,839.9 355.3,839.8 354.7,839.4 C354.0,839.0 353.4,838.5 353.0,837.9 C352.6,837.3 352.3,836.5 352.2,835.8 C352.1,835.1 352.3,833.9 352.4,833.5" stroke-width="1.05"/><path d="M411.1,863.4 C411.0,863.3 410.6,862.9 410.3,862.8 C410.0,862.7 409.6,862.6 409.3,862.6 C409.0,862.7 408.6,862.8 408.3,863.0 C408.1,863.2 407.8,863.6 407.7,863.7" stroke-width="0.83"/><path d="M355.0,1017.4 C355.2,1017.0 355.9,1015.5 356.0,1014.5 C356.1,1013.5 356.0,1012.4 355.6,1011.4 C355.3,1010.5 354.6,1009.6 353.9,1008.9 C353.2,1008.2 351.7,1007.6 351.2,1007.3" stroke-width="1.36"/><path d="M333.0,554.0 C333.3,553.7 334.2,552.4 334.9,551.9 C335.7,551.4 336.7,551.0 337.6,550.9 C338.5,550.8 339.6,550.9 340.4,551.2 C341.3,551.5 342.4,552.5 342.8,552.8" stroke-width="1.16"/><path d="M413.2,530.2 C413.7,530.0 415.2,529.3 416.1,528.8 C417.0,528.2 417.8,527.5 418.6,526.8 C419.4,526.1 420.1,525.2 420.7,524.4 C421.3,523.5 422.0,522.1 422.3,521.6" stroke-width="0.85"/><path d="M376.7,862.3 C376.6,862.5 376.4,863.0 376.3,863.3 C376.2,863.7 376.2,864.1 376.2,864.5 C376.2,864.9 376.2,865.3 376.4,865.6 C376.5,866.0 376.8,866.5 376.8,866.7" stroke-width="1.46"/><path d="M327.7,1012.1 C327.8,1012.3 328.1,1013.1 328.4,1013.5 C328.7,1013.8 329.1,1014.2 329.6,1014.4 C330.0,1014.6 330.6,1014.6 331.1,1014.6 C331.6,1014.6 332.3,1014.3 332.5,1014.2" stroke-width="1.58"/><path d="M414.4,638.8 C414.6,639.2 415.5,640.3 415.7,641.1 C415.9,641.9 416.0,642.9 415.8,643.7 C415.6,644.5 415.2,645.4 414.7,646.1 C414.2,646.8 413.0,647.5 412.7,647.8" stroke-width="0.81"/><path d="M347.2,844.9 C346.9,844.8 345.7,844.6 344.9,844.6 C344.1,844.6 343.4,844.6 342.6,844.7 C341.8,844.9 341.1,845.1 340.3,845.4 C339.6,845.6 338.6,846.2 338.2,846.4" stroke-width="1.55"/><path d="M348.8,856.0 C349.0,855.7 349.5,854.8 349.6,854.2 C349.6,853.5 349.5,852.8 349.2,852.2 C349.0,851.6 348.5,851.0 347.9,850.7 C347.4,850.3 346.4,850.1 346.1,850.0" stroke-width="0.98"/><path d="M325.1,535.5 C325.3,535.6 326.1,536.2 326.6,536.5 C327.2,536.8 327.7,537.1 328.3,537.3 C328.9,537.5 329.5,537.7 330.1,537.8 C330.7,538.0 331.6,538.0 331.9,538.1" stroke-width="1.16"/><path d="M389.2,854.7 C389.1,854.4 388.9,853.5 388.8,852.9 C388.7,852.2 388.7,851.6 388.8,850.9 C388.8,850.3 389.0,849.7 389.1,849.1 C389.3,848.5 389.7,847.6 389.9,847.3" stroke-width="1.24"/><path d="M331.6,775.7 C331.4,776.0 330.6,777.1 329.9,777.7 C329.2,778.3 328.4,778.8 327.6,779.2 C326.8,779.6 325.9,779.8 325.1,780.0 C324.2,780.1 322.8,780.0 322.4,780.0" stroke-width="0.99"/><path d="M364.6,720.8 C364.6,720.9 364.7,721.5 364.8,721.8 C365.0,722.1 365.3,722.4 365.6,722.6 C365.9,722.8 366.3,722.9 366.7,722.9 C367.0,722.9 367.6,722.6 367.7,722.6" stroke-width="1.59"/><path d="M397.2,711.0 C397.1,710.7 396.8,709.9 396.7,709.4 C396.6,708.9 396.6,708.3 396.7,707.7 C396.8,707.2 396.9,706.6 397.1,706.1 C397.3,705.6 397.7,704.9 397.9,704.6" stroke-width="1.56"/><path d="M400.7,727.0 C401.2,726.6 402.7,725.8 403.4,725.0 C404.1,724.2 404.6,723.0 404.7,722.0 C404.9,720.9 404.7,719.7 404.3,718.7 C403.9,717.7 402.6,716.5 402.3,716.1" stroke-width="1.13"/><path d="M366.4,611.6 C366.3,611.4 365.8,610.8 365.7,610.4 C365.5,610.0 365.4,609.5 365.3,609.1 C365.3,608.6 365.3,608.2 365.4,607.7 C365.5,607.3 365.8,606.7 365.9,606.5" stroke-width="1.49"/><path d="M324.6,864.0 C324.4,864.4 324.1,865.7 323.7,866.5 C323.4,867.3 322.9,868.0 322.4,868.7 C321.8,869.4 321.2,870.0 320.5,870.5 C319.9,871.1 318.7,871.7 318.3,871.9" stroke-width="1.58"/><path d="M403.4,650.7 C403.4,650.5 403.5,649.8 403.6,649.4 C403.7,648.9 403.9,648.5 404.1,648.1 C404.3,647.7 404.6,647.3 404.9,647.0 C405.2,646.7 405.8,646.3 406.0,646.2" stroke-width="1.13"/><path d="M346.4,590.1 C346.7,590.4 347.5,591.8 348.3,592.4 C349.1,592.9 350.1,593.4 351.0,593.5 C352.0,593.6 353.1,593.5 354.0,593.2 C354.9,592.9 356.1,591.9 356.5,591.6" stroke-width="0.99"/><path d="M338.6,541.5 C338.6,541.1 338.6,539.8 338.8,539.0 C338.9,538.2 339.1,537.4 339.4,536.6 C339.7,535.9 340.1,535.1 340.5,534.4 C341.0,533.7 341.8,532.8 342.0,532.5" stroke-width="1.52"/><path d="M366.0,468.8 C365.6,468.6 364.3,467.9 363.7,467.3 C363.1,466.6 362.7,465.6 362.5,464.8 C362.3,463.9 362.3,462.8 362.6,462.0 C362.8,461.1 363.8,460.0 364.0,459.6" stroke-width="1.21"/><path d="M342.3,804.0 C342.6,804.0 343.5,804.0 344.1,804.2 C344.6,804.4 345.2,804.8 345.6,805.2 C345.9,805.7 346.2,806.3 346.3,806.9 C346.4,807.5 346.2,808.4 346.2,808.7" stroke-width="1.52"/><path d="M379.7,736.5 C379.9,736.6 380.6,736.9 381.0,736.9 C381.4,736.9 381.8,736.7 382.2,736.5 C382.5,736.3 382.9,735.9 383.0,735.5 C383.2,735.2 383.2,734.5 383.3,734.3" stroke-width="1.29"/><path d="M394.3,1046.0 C393.8,1045.7 392.3,1044.8 391.2,1044.2 C390.2,1043.7 389.1,1043.3 388.1,1042.9 C387.0,1042.5 385.8,1042.1 384.7,1041.8 C383.6,1041.6 381.9,1041.3 381.3,1041.2" stroke-width="0.91"/><path d="M324.4,620.1 C323.8,620.1 322.0,620.1 320.9,620.3 C319.8,620.5 318.6,620.8 317.6,621.3 C316.5,621.7 315.5,622.3 314.6,623.0 C313.7,623.7 312.6,625.1 312.2,625.5" stroke-width="0.99"/><path d="M395.4,680.6 C395.2,680.4 394.7,680.0 394.4,679.6 C394.2,679.2 394.0,678.8 393.9,678.3 C393.9,677.9 393.9,677.4 394.0,677.0 C394.2,676.5 394.6,675.9 394.7,675.7" stroke-width="1.54"/><path d="M398.8,1011.2 C398.7,1011.3 398.6,1011.8 398.5,1012.2 C398.4,1012.6 398.4,1012.9 398.4,1013.3 C398.5,1013.6 398.5,1014.0 398.6,1014.3 C398.7,1014.7 399.0,1015.2 399.1,1015.3" stroke-width="1.52"/><path d="M368.2,567.0 C368.4,567.2 368.8,567.8 369.1,568.1 C369.4,568.5 369.8,568.8 370.1,569.1 C370.4,569.5 370.8,569.8 371.2,570.1 C371.5,570.4 372.1,570.8 372.3,570.9" stroke-width="1.54"/><path d="M412.6,903.7 C412.7,903.5 412.9,902.7 413.1,902.3 C413.4,901.9 413.7,901.5 414.1,901.2 C414.4,900.9 414.9,900.6 415.3,900.4 C415.8,900.3 416.5,900.2 416.8,900.1" stroke-width="0.98"/><path d="M331.7,804.0 C331.6,803.6 331.1,802.3 330.9,801.5 C330.7,800.7 330.6,799.8 330.6,798.9 C330.6,798.0 330.7,797.2 330.9,796.3 C331.1,795.5 331.6,794.2 331.7,793.8" stroke-width="1.10"/><path d="M402.8,1012.8 C402.5,1012.3 401.6,1010.8 401.4,1009.7 C401.2,1008.6 401.2,1007.3 401.4,1006.2 C401.6,1005.1 402.1,1004.0 402.8,1003.1 C403.5,1002.2 405.0,1001.2 405.4,1000.8" stroke-width="0.84"/><path d="M389.9,501.3 C389.8,500.9 389.6,500.0 389.6,499.3 C389.7,498.7 389.9,498.0 390.2,497.5 C390.5,496.9 390.9,496.4 391.4,496.0 C391.9,495.7 392.9,495.4 393.2,495.2" stroke-width="0.84"/><path d="M419.3,472.3 C419.5,472.4 420.1,472.7 420.4,473.0 C420.6,473.3 420.8,473.8 420.9,474.2 C420.9,474.6 420.8,475.1 420.6,475.5 C420.4,475.9 419.8,476.3 419.7,476.4" stroke-width="1.47"/><path d="M416.1,558.5 C416.0,558.1 415.7,556.6 415.7,555.6 C415.8,554.6 415.9,553.6 416.2,552.6 C416.5,551.7 416.9,550.7 417.4,549.9 C418.0,549.1 419.0,548.0 419.3,547.6" stroke-width="1.02"/><path d="M421.9,885.9 C421.7,885.7 421.3,884.9 421.0,884.4 C420.7,884.0 420.3,883.5 420.0,883.1 C419.6,882.6 419.2,882.2 418.8,881.9 C418.3,881.5 417.6,881.0 417.4,880.8" stroke-width="1.41"/><path d="M373.2,740.7 C373.6,740.7 374.6,740.5 375.3,740.6 C376.0,740.7 376.7,740.9 377.2,741.3 C377.8,741.6 378.3,742.2 378.7,742.7 C379.0,743.3 379.3,744.3 379.4,744.7" stroke-width="0.84"/><path d="M374.8,876.7 C375.2,876.6 376.6,876.4 377.5,876.1 C378.3,875.9 379.2,875.4 379.9,875.0 C380.7,874.5 381.4,873.9 382.0,873.2 C382.6,872.5 383.3,871.3 383.6,870.9" stroke-width="1.30"/><path d="M384.7,528.4 C384.9,528.2 385.5,527.7 385.8,527.3 C386.1,526.8 386.3,526.3 386.4,525.7 C386.4,525.2 386.4,524.6 386.2,524.2 C386.1,523.7 385.5,523.0 385.4,522.8" stroke-width="1.15"/><path d="M324.8,507.2 C324.9,507.0 324.9,506.3 325.0,505.9 C325.1,505.5 325.1,505.1 325.2,504.7 C325.3,504.3 325.4,503.9 325.5,503.5 C325.6,503.1 325.8,502.5 325.8,502.3" stroke-width="1.51"/><path d="M372.6,1024.6 C372.8,1024.1 373.2,1022.7 373.8,1021.9 C374.4,1021.2 375.2,1020.5 376.1,1020.2 C377.0,1019.8 378.0,1019.6 379.0,1019.7 C379.9,1019.8 381.2,1020.5 381.7,1020.7" stroke-width="0.84"/><path d="M397.3,798.9 C397.6,799.0 398.4,799.2 398.9,799.4 C399.3,799.7 399.8,800.0 400.2,800.4 C400.6,800.7 401.0,801.1 401.3,801.6 C401.6,802.0 401.9,802.8 402.0,803.1" stroke-width="1.22"/><path d="M378.2,619.5 C377.9,619.1 376.7,617.8 376.4,616.8 C376.2,615.9 376.2,614.6 376.4,613.6 C376.7,612.7 377.4,611.6 378.2,611.0 C379.0,610.3 380.6,609.9 381.1,609.7" stroke-width="1.24"/><path d="M396.2,498.7 C395.7,498.8 394.1,498.7 393.2,499.0 C392.2,499.3 391.3,499.9 390.6,500.6 C389.8,501.3 389.2,502.2 388.9,503.1 C388.6,504.1 388.6,505.7 388.5,506.2" stroke-width="0.92"/><path d="M371.5,630.2 C371.6,630.4 372.1,630.9 372.5,631.2 C372.8,631.5 373.2,631.8 373.5,632.1 C373.9,632.4 374.3,632.7 374.7,632.9 C375.1,633.2 375.7,633.5 375.9,633.6" stroke-width="1.43"/><path d="M336.3,932.8 C336.6,933.1 337.2,934.4 337.8,935.0 C338.5,935.5 339.4,935.9 340.3,936.0 C341.1,936.1 342.1,935.9 342.9,935.5 C343.6,935.1 344.5,933.9 344.8,933.6" stroke-width="1.06"/><path d="M334.5,585.1 C334.7,585.0 335.3,584.7 335.8,584.5 C336.2,584.4 336.7,584.3 337.2,584.3 C337.6,584.3 338.1,584.3 338.6,584.4 C339.0,584.5 339.7,584.8 339.9,584.9" stroke-width="1.53"/><path d="M400.7,796.9 C400.3,797.2 399.1,798.4 398.2,798.9 C397.3,799.5 396.4,800.0 395.4,800.4 C394.4,800.8 393.3,801.0 392.2,801.1 C391.2,801.3 389.6,801.1 389.0,801.1" stroke-width="1.06"/><path d="M379.3,623.8 C379.0,624.2 377.9,625.7 377.0,626.2 C376.0,626.7 374.8,626.9 373.7,626.9 C372.6,626.8 371.4,626.3 370.6,625.7 C369.7,625.0 368.9,623.4 368.6,623.0" stroke-width="0.93"/><path d="M406.5,574.5 C407.3,574.1 409.7,573.0 411.2,572.2 C412.7,571.3 414.2,570.4 415.6,569.4 C417.0,568.4 418.4,567.3 419.7,566.1 C421.0,565.0 422.8,563.1 423.4,562.5" stroke-width="2.26"/><path d="M336.2,562.9 C335.6,563.1 333.8,563.8 332.6,564.1 C331.4,564.4 330.1,564.6 328.9,564.7 C327.6,564.8 326.3,564.8 325.1,564.6 C323.9,564.5 322.0,564.0 321.4,563.9" stroke-width="1.98"/><path d="M359.0,613.8 C358.8,614.8 358.5,618.1 357.6,620.0 C356.8,622.0 355.4,623.8 353.9,625.3 C352.3,626.7 350.4,627.9 348.4,628.6 C346.4,629.3 343.1,629.4 342.0,629.6" stroke-width="1.89"/><path d="M404.0,635.1 C404.1,634.5 404.3,632.6 404.5,631.4 C404.8,630.1 405.0,628.9 405.3,627.6 C405.6,626.4 406.0,625.2 406.3,623.9 C406.7,622.7 407.4,621.0 407.6,620.4" stroke-width="1.97"/><path d="M411.2,905.8 C411.6,906.1 412.8,907.0 413.6,907.6 C414.5,908.2 415.3,908.8 416.2,909.3 C417.0,909.9 417.9,910.4 418.7,911.0 C419.6,911.5 420.9,912.2 421.4,912.5" stroke-width="1.70"/><path d="M343.5,1020.5 C343.7,1020.2 344.8,1019.3 345.2,1018.5 C345.6,1017.8 345.8,1016.8 345.8,1016.0 C345.8,1015.2 345.6,1014.2 345.2,1013.5 C344.8,1012.7 343.8,1011.8 343.5,1011.5" stroke-width="2.28"/><path d="M397.1,737.6 C396.0,738.2 392.5,739.4 390.7,740.8 C388.8,742.2 387.1,744.2 385.9,746.2 C384.7,748.3 383.9,750.7 383.6,753.1 C383.2,755.4 383.9,759.1 384.0,760.3" stroke-width="2.36"/><path d="M395.0,540.1 C395.3,539.6 396.1,538.0 396.9,537.2 C397.7,536.5 398.8,535.9 399.9,535.6 C401.0,535.3 402.2,535.2 403.3,535.4 C404.4,535.7 405.9,536.6 406.4,536.9" stroke-width="2.47"/><path d="M366.8,798.7 C367.5,798.4 369.6,797.6 370.8,796.7 C372.1,795.9 373.2,794.8 374.1,793.6 C375.0,792.4 375.8,791.1 376.4,789.7 C376.9,788.3 377.2,786.0 377.4,785.3" stroke-width="2.37"/><path d="M414.6,540.2 C414.8,539.5 415.3,537.2 415.9,535.8 C416.5,534.3 417.2,532.9 418.0,531.6 C418.8,530.3 419.7,529.1 420.8,527.9 C421.8,526.8 423.7,525.3 424.2,524.8" stroke-width="2.07"/><path d="M419.7,793.9 C420.8,793.2 424.4,791.4 426.2,789.7 C428.1,787.9 429.7,785.6 430.7,783.3 C431.8,781.0 432.5,778.3 432.6,775.7 C432.8,773.2 431.8,769.3 431.7,768.0" stroke-width="2.71"/><path d="M399.1,532.7 C398.5,532.7 396.4,532.3 395.2,532.5 C393.9,532.8 392.5,533.4 391.5,534.2 C390.5,534.9 389.5,536.1 388.9,537.2 C388.3,538.4 388.1,540.4 387.9,541.1" stroke-width="1.48"/><path d="M356.8,974.0 C355.7,973.5 352.4,971.9 350.1,971.1 C347.8,970.4 345.5,969.7 343.1,969.2 C340.7,968.8 338.3,968.5 335.8,968.3 C333.4,968.2 329.7,968.4 328.5,968.4" stroke-width="2.41"/><path d="M381.5,905.9 C380.2,906.2 376.3,906.9 373.8,907.6 C371.3,908.3 368.7,909.1 366.3,910.1 C363.8,911.0 361.4,912.1 359.1,913.3 C356.7,914.5 353.4,916.5 352.2,917.2" stroke-width="1.70"/><path d="M331.0,601.2 C332.2,601.7 335.7,603.6 338.1,604.0 C340.6,604.5 343.3,604.5 345.8,604.1 C348.3,603.7 350.8,602.7 353.0,601.4 C355.2,600.1 357.8,597.2 358.7,596.3" stroke-width="2.58"/><path d="M400.4,729.6 C400.9,730.0 402.4,731.1 403.0,732.1 C403.7,733.1 404.2,734.3 404.4,735.4 C404.6,736.6 404.5,737.9 404.2,739.1 C403.9,740.2 402.8,741.7 402.5,742.2" stroke-width="1.98"/><path d="M401.6,521.4 C402.3,521.5 404.5,521.9 406.0,522.0 C407.5,522.1 409.0,522.1 410.5,522.0 C412.0,521.9 413.5,521.7 414.9,521.3 C416.4,521.0 418.5,520.2 419.2,520.0" stroke-width="1.69"/><path d="M386.5,794.7 C385.9,794.5 383.8,793.8 382.5,793.5 C381.1,793.1 379.7,792.9 378.3,792.7 C376.9,792.4 375.5,792.3 374.1,792.2 C372.7,792.1 370.6,792.1 369.9,792.1" stroke-width="1.78"/><path d="M377.1,680.7 C376.2,679.7 373.5,676.9 371.5,675.2 C369.5,673.6 367.3,672.1 365.1,670.9 C362.8,669.6 360.4,668.6 357.9,667.7 C355.5,666.9 351.6,666.2 350.4,665.9" stroke-width="2.23"/><path d="M381.5,785.0 C382.7,785.3 386.2,786.8 388.6,786.7 C391.0,786.7 393.6,786.0 395.7,784.9 C397.8,783.8 399.8,781.9 401.1,779.9 C402.4,778.0 403.1,774.2 403.5,773.0" stroke-width="1.67"/><path d="M369.8,1003.6 C369.2,1002.5 367.7,999.1 366.4,997.0 C365.0,994.9 363.5,992.9 361.9,991.0 C360.3,989.1 358.5,987.4 356.6,985.8 C354.7,984.2 351.5,982.2 350.5,981.5" stroke-width="2.17"/><path d="M382.2,587.5 C382.9,587.6 385.1,588.3 386.5,588.3 C387.9,588.2 389.5,587.8 390.8,587.2 C392.0,586.6 393.3,585.7 394.2,584.6 C395.2,583.5 396.0,581.4 396.4,580.8" stroke-width="1.41"/><path d="M398.2,793.0 C397.1,793.3 393.4,794.1 391.1,794.9 C388.8,795.8 386.5,796.8 384.4,798.0 C382.2,799.2 380.2,800.5 378.2,802.0 C376.3,803.5 373.6,806.2 372.7,807.0" stroke-width="1.77"/><path d="M349.0,490.7 C349.1,491.7 349.4,494.8 350.0,496.6 C350.6,498.5 351.5,500.4 352.7,502.0 C353.8,503.6 355.3,505.1 356.9,506.3 C358.5,507.4 361.3,508.6 362.2,509.1" stroke-width="2.07"/><path d="M348.9,900.1 C348.8,900.9 348.6,903.5 348.1,905.0 C347.6,906.6 346.9,908.2 346.0,909.6 C345.1,911.0 344.1,912.3 342.9,913.5 C341.7,914.6 339.6,916.0 338.9,916.5" stroke-width="2.41"/><path d="M404.1,758.3 C404.6,757.2 405.9,753.9 407.2,752.1 C408.6,750.3 410.4,748.7 412.4,747.5 C414.3,746.3 416.5,745.5 418.8,745.0 C421.0,744.6 424.5,745.0 425.6,745.0" stroke-width="2.64"/><path d="M361.3,853.2 C362.2,852.6 365.1,850.8 367.0,849.5 C368.9,848.2 370.8,846.8 372.6,845.4 C374.4,844.0 376.2,842.5 377.9,841.0 C379.6,839.5 382.1,837.1 383.0,836.4" stroke-width="2.56"/><path d="M401.7,713.6 C400.8,713.6 398.3,713.7 396.8,713.3 C395.2,712.8 393.7,711.9 392.5,710.9 C391.3,709.8 390.3,708.3 389.6,706.9 C389.0,705.4 388.9,702.9 388.7,702.0" stroke-width="1.72"/><path d="M420.2,528.5 C420.0,529.6 419.4,532.8 418.7,534.9 C417.9,536.9 417.0,539.0 415.8,540.8 C414.7,542.7 413.3,544.4 411.9,546.0 C410.4,547.6 407.7,549.6 406.9,550.3" stroke-width="1.83"/><path d="M350.0,787.9 C350.0,787.1 350.1,784.8 350.1,783.3 C350.1,781.7 350.1,780.2 350.1,778.7 C350.0,777.1 350.0,775.6 349.9,774.1 C349.8,772.5 349.6,770.2 349.6,769.5" stroke-width="2.00"/><path d="M345.0,701.8 C344.3,702.5 341.9,704.3 340.5,705.7 C339.1,707.1 337.9,708.6 336.8,710.3 C335.7,711.9 334.7,713.7 333.9,715.5 C333.2,717.3 332.4,720.2 332.1,721.2" stroke-width="2.25"/><path d="M374.1,773.7 C374.8,773.3 377.1,772.4 378.4,771.6 C379.7,770.7 381.0,769.7 382.1,768.5 C383.1,767.3 384.1,766.0 384.9,764.6 C385.6,763.2 386.3,760.9 386.6,760.2" stroke-width="1.41"/><path d="M319.0,861.5 C319.6,860.6 321.6,858.2 322.5,856.4 C323.4,854.6 324.1,852.6 324.4,850.6 C324.7,848.6 324.8,846.4 324.5,844.4 C324.3,842.4 323.2,839.5 322.9,838.5" stroke-width="1.44"/><path d="M366.1,487.6 C365.7,487.2 364.6,486.0 363.8,485.2 C363.0,484.4 362.3,483.6 361.5,482.8 C360.7,482.0 359.9,481.2 359.1,480.4 C358.3,479.6 357.1,478.5 356.7,478.1" stroke-width="2.58"/><path d="M370.2,678.1 C368.9,678.4 365.1,679.0 362.9,680.0 C360.6,681.0 358.4,682.5 356.6,684.2 C354.7,685.8 353.1,687.9 351.9,690.1 C350.7,692.3 349.7,696.0 349.3,697.2" stroke-width="2.40"/><path d="M343.1,817.0 C343.6,817.0 345.0,817.0 345.9,816.8 C346.8,816.6 347.7,816.3 348.5,815.8 C349.3,815.4 350.0,814.8 350.7,814.2 C351.3,813.5 352.0,812.3 352.3,811.9" stroke-width="2.40"/><path d="M343.2,884.5 C342.4,885.4 340.2,888.4 338.3,889.7 C336.4,891.1 334.0,892.1 331.7,892.6 C329.4,893.1 326.8,893.2 324.5,892.7 C322.2,892.3 319.0,890.5 317.9,890.1" stroke-width="2.45"/><path d="M379.5,754.7 C380.3,754.9 382.6,755.2 384.0,755.7 C385.5,756.2 386.9,756.9 388.1,757.8 C389.4,758.7 390.5,759.7 391.5,760.9 C392.5,762.1 393.6,764.1 394.0,764.8" stroke-width="1.80"/><path d="M418.7,819.2 C419.8,819.3 423.4,819.6 425.8,819.9 C428.2,820.3 430.5,820.8 432.8,821.5 C435.1,822.2 437.4,823.0 439.6,823.9 C441.8,824.8 445.0,826.5 446.0,827.0" stroke-width="2.11"/><path d="M335.6,567.1 C336.6,567.3 339.5,568.1 341.4,568.2 C343.3,568.3 345.3,568.1 347.2,567.7 C349.1,567.2 351.0,566.4 352.6,565.5 C354.3,564.5 356.5,562.4 357.2,561.8" stroke-width="1.42"/><path d="M381.4,848.5 C381.8,849.0 383.1,850.4 383.7,851.6 C384.2,852.7 384.6,854.0 384.7,855.3 C384.8,856.5 384.6,857.9 384.2,859.1 C383.8,860.3 382.6,861.9 382.3,862.4" stroke-width="2.37"/><path d="M402.2,599.4 C403.1,599.8 406.0,600.8 407.9,601.6 C409.8,602.4 411.6,603.3 413.4,604.3 C415.2,605.2 417.0,606.2 418.7,607.3 C420.5,608.4 423.0,610.2 423.8,610.7" stroke-width="2.22"/><path d="M324.4,821.6 C324.9,820.9 326.3,818.7 327.2,817.3 C328.2,815.8 329.2,814.4 330.2,813.0 C331.2,811.6 332.2,810.2 333.2,808.8 C334.2,807.4 335.7,805.3 336.2,804.6" stroke-width="1.63"/><path d="M358.5,575.1 C359.8,575.4 363.5,576.5 366.1,576.8 C368.7,577.1 371.4,577.1 373.9,576.8 C376.5,576.5 379.1,576.0 381.6,575.1 C384.0,574.3 387.4,572.3 388.6,571.8" stroke-width="1.57"/><path d="M380.2,563.4 C380.4,562.8 380.9,561.0 381.1,559.8 C381.3,558.6 381.4,557.4 381.4,556.2 C381.4,555.0 381.3,553.8 381.2,552.6 C381.0,551.4 380.4,549.6 380.3,549.0" stroke-width="1.81"/><path d="M383.8,1023.6 C384.8,1024.2 387.6,1026.2 389.7,1027.2 C391.8,1028.2 394.0,1029.0 396.2,1029.6 C398.4,1030.2 400.7,1030.5 403.0,1030.7 C405.3,1030.8 408.7,1030.4 409.9,1030.4" stroke-width="2.64"/><path d="M421.6,690.0 C421.7,689.2 422.5,686.9 422.4,685.4 C422.4,683.9 422.1,682.2 421.5,680.8 C420.8,679.4 419.9,678.0 418.8,677.0 C417.7,675.9 415.5,674.9 414.8,674.5" stroke-width="1.99"/><path d="M385.0,755.6 C384.4,755.7 382.9,755.8 381.9,755.8 C380.8,755.8 379.8,755.7 378.8,755.5 C377.8,755.4 376.8,755.2 375.8,754.9 C374.8,754.7 373.3,754.1 372.8,753.9" stroke-width="2.40"/><path d="M384.4,583.4 C383.9,582.4 382.8,579.1 381.7,577.1 C380.6,575.1 379.4,573.2 378.0,571.4 C376.6,569.6 375.0,567.9 373.3,566.4 C371.7,564.9 368.8,563.0 367.9,562.3" stroke-width="1.83"/><path d="M364.0,798.6 C364.8,797.8 367.7,795.7 368.8,793.9 C370.0,792.0 370.7,789.6 370.8,787.4 C371.0,785.3 370.5,782.8 369.6,780.8 C368.7,778.9 366.1,776.5 365.4,775.6" stroke-width="1.79"/><path d="M380.9,1007.6 C380.0,1006.9 377.2,1004.5 375.1,1003.5 C373.0,1002.5 370.6,1001.7 368.3,1001.4 C366.0,1001.1 363.5,1001.2 361.2,1001.6 C358.9,1002.0 355.6,1003.6 354.5,1004.0" stroke-width="1.76"/><path d="M350.9,509.0 C350.9,508.0 350.6,505.0 350.8,503.1 C351.0,501.1 351.4,499.1 351.9,497.2 C352.5,495.3 353.2,493.4 354.1,491.7 C355.0,489.9 356.8,487.5 357.3,486.6" stroke-width="2.38"/><path d="M376.2,585.1 C376.8,586.2 378.0,589.7 379.4,591.5 C380.9,593.4 382.9,595.0 384.9,596.1 C387.0,597.2 389.5,597.9 391.8,598.0 C394.2,598.2 397.7,597.1 398.9,597.0" stroke-width="1.43"/><path d="M364.5,668.4 C363.8,668.0 361.7,666.6 360.2,666.0 C358.6,665.3 357.0,664.9 355.3,664.6 C353.7,664.4 352.0,664.3 350.3,664.4 C348.7,664.6 346.2,665.3 345.4,665.5" stroke-width="2.80"/><path d="M375.7,656.9 C375.4,656.4 374.6,654.8 373.9,653.9 C373.1,652.9 372.2,652.1 371.3,651.4 C370.3,650.7 369.2,650.1 368.1,649.7 C367.0,649.3 365.2,649.1 364.6,649.0" stroke-width="2.07"/><path d="M321.5,699.5 C322.5,700.1 325.2,701.9 327.0,703.2 C328.7,704.5 330.4,705.9 332.1,707.4 C333.7,708.9 335.3,710.4 336.8,712.0 C338.3,713.6 340.4,716.2 341.1,717.0" stroke-width="2.58"/><path d="M334.1,528.2 C333.3,527.8 330.6,526.6 328.8,526.0 C326.9,525.4 325.0,525.0 323.1,524.8 C321.2,524.6 319.2,524.5 317.2,524.7 C315.3,524.8 312.5,525.5 311.5,525.6" stroke-width="1.48"/><path d="M370.4,1040.4 C370.5,1039.9 370.7,1038.3 371.0,1037.4 C371.3,1036.4 371.7,1035.4 372.1,1034.5 C372.6,1033.6 373.1,1032.7 373.7,1031.9 C374.3,1031.0 375.3,1029.9 375.7,1029.5" stroke-width="2.47"/><path d="M348.0,503.7 C348.1,503.2 348.2,501.9 348.4,501.0 C348.5,500.2 348.7,499.3 348.9,498.5 C349.1,497.6 349.4,496.8 349.6,495.9 C349.9,495.1 350.3,493.8 350.5,493.4" stroke-width="1.45"/><path d="M411.1,626.8 C410.2,626.3 407.5,624.9 405.7,623.8 C404.0,622.7 402.3,621.6 400.7,620.4 C399.0,619.1 397.4,617.8 395.9,616.5 C394.4,615.1 392.3,612.9 391.6,612.2" stroke-width="2.36"/><path d="M322.4,521.1 C321.3,521.4 317.8,521.6 315.8,522.4 C313.8,523.3 311.8,524.6 310.2,526.2 C308.7,527.7 307.4,529.8 306.5,531.8 C305.7,533.8 305.5,537.3 305.3,538.4" stroke-width="1.83"/><path d="M319.8,920.1 C320.4,920.8 321.8,922.8 323.0,924.0 C324.1,925.1 325.4,926.2 326.7,927.2 C328.0,928.2 329.4,929.0 330.9,929.8 C332.4,930.5 334.7,931.3 335.5,931.6" stroke-width="1.49"/><path d="M417.9,530.4 C418.9,530.1 422.0,529.6 423.6,528.6 C425.3,527.6 426.9,526.0 427.9,524.4 C429.0,522.8 429.8,520.7 430.0,518.7 C430.2,516.8 429.5,513.8 429.4,512.8" stroke-width="1.82"/><path d="M356.0,656.4 C357.1,655.9 360.4,654.2 362.7,653.3 C365.0,652.5 367.4,651.7 369.8,651.2 C372.2,650.6 374.6,650.2 377.1,649.9 C379.5,649.7 383.2,649.7 384.5,649.7" stroke-width="2.18"/><circle cx="409.0" cy="607.2" r="12.0" fill="url(#halo)" stroke="none"/><circle cx="410.1" cy="605.5" r="2.2" fill="#e8e8e8" stroke="none"/><circle cx="408.6" cy="607.5" r="1.9" fill="#e8e8e8" stroke="none"/><circle cx="409.9" cy="607.5" r="1.1" fill="#e8e8e8" stroke="none"/><circle cx="412.3" cy="609.5" r="1.1" fill="#e8e8e8" stroke="none"/><circle cx="409.2" cy="608.0" r="2.7" fill="#e8e8e8" stroke="none"/><circle cx="408.0" cy="604.8" r="2.5" fill="#e8e8e8" stroke="none"/><circle cx="404.5" cy="604.8" r="2.8" fill="#e8e8e8" stroke="none"/><circle cx="409.7" cy="607.4" r="1.4" fill="#e8e8e8" stroke="none"/><circle cx="408.2" cy="607.7" r="0.9" fill="#e8e8e8" stroke="none"/><circle cx="353.7" cy="705.0" r="10.9" fill="url(#halo)" stroke="none"/><circle cx="349.6" cy="703.2" r="1.0" fill="#e8e8e8" stroke="none"/><circle cx="351.6" cy="702.7" r="1.5" fill="#e8e8e8" stroke="none"/><circle cx="349.8" cy="705.1" r="1.6" fill="#e8e8e8" stroke="none"/><circle cx="350.2" cy="705.0" r="2.2" fill="#e8e8e8" stroke="none"/><circle cx="354.2" cy="705.3" r="1.0" fill="#e8e8e8" stroke="none"/><circle cx="354.2" cy="705.3" r="1.1" fill="#e8e8e8" stroke="none"/><circle cx="350.4" cy="705.7" r="1.4" fill="#e8e8e8" stroke="none"/><circle cx="356.8" cy="702.4" r="1.6" fill="#e8e8e8" stroke="none"/><circle cx="350.3" cy="703.0" r="1.0" fill="#e8e8e8" stroke="none"/><circle cx="347.3" cy="447.7" r="2.6" fill="#e8e8e8" stroke="none"/><circle cx="324.1" cy="481.8" r="1.5" fill="#e8e8e8" stroke="none"/><circle cx="348.6" cy="956.0" r="18.6" fill="url(#halo)" stroke="none"/><circle cx="350.1" cy="953.1" r="1.0" fill="#e8e8e8" stroke="none" opacity="0.55"/><circle cx="342.1" cy="959.3" r="1.7" fill="#e8e8e8" stroke="none" opacity="0.55"/><circle cx="341.9" cy="954.0" r="2.4" fill="#e8e8e8" stroke="none" opacity="0.55"/><circle cx="343.4" cy="954.5" r="2.9" fill="#e8e8e8" stroke="none" opacity="0.55"/><circle cx="347.8" cy="953.9" r="1.5" fill="#e8e8e8" stroke="none" opacity="0.55"/><circle cx="354.0" cy="957.2" r="3.0" fill="#e8e8e8" stroke="none" opacity="0.55"/><circle cx="344.2" cy="955.8" r="2.1" fill="#e8e8e8" stroke="none" opacity="0.55"/><circle cx="345.0" cy="958.1" r="2.4" fill="#e8e8e8" stroke="none" opacity="0.55"/><circle cx="353.0" cy="961.1" r="2.3" fill="#e8e8e8" stroke="none" opacity="0.55"/><circle cx="352.1" cy="951.7" r="2.7" fill="#e8e8e8" stroke="none" opacity="0.55"/><circle cx="353.3" cy="957.8" r="1.4" fill="#e8e8e8" stroke="none" opacity="0.55"/><circle cx="349.0" cy="960.5" r="2.0" fill="#e8e8e8" stroke="none" opacity="0.55"/><circle cx="350.4" cy="957.3" r="3.3" fill="#e8e8e8" stroke="none" opacity="0.55"/><circle cx="349.3" cy="957.5" r="0.9" fill="#e8e8e8" stroke="none" opacity="0.55"/><circle cx="349.6" cy="959.2" r="2.6" fill="#e8e8e8" stroke="none" opacity="0.55"/><circle cx="343.6" cy="955.4" r="1.6" fill="#e8e8e8" stroke="none" opacity="0.55"/><circle cx="353.7" cy="953.2" r="1.9" fill="#e8e8e8" stroke="none" opacity="0.55"/><circle cx="348.6" cy="955.7" r="0.9" fill="#e8e8e8" stroke="none" opacity="0.55"/><circle cx="341.0" cy="953.9" r="3.2" fill="#e8e8e8" stroke="none" opacity="0.55"/><circle cx="343.0" cy="961.3" r="2.3" fill="#e8e8e8" stroke="none" opacity="0.55"/><circle cx="345.9" cy="961.7" r="1.3" fill="#e8e8e8" stroke="none" opacity="0.55"/><circle cx="348.8" cy="948.7" r="2.6" fill="#e8e8e8" stroke="none" opacity="0.55"/><circle cx="322.9" cy="932.8" r="2.1" fill="#e8e8e8" stroke="none"/><circle cx="355.0" cy="776.5" r="1.3" fill="#e8e8e8" stroke="none"/><circle cx="394.3" cy="798.4" r="1.3" fill="#e8e8e8" stroke="none"/><circle cx="423.2" cy="968.8" r="5.5" fill="url(#halo)" stroke="none"/><circle cx="422.6" cy="968.5" r="1.3" fill="#e8e8e8" stroke="none"/><circle cx="422.1" cy="968.1" r="1.2" fill="#e8e8e8" stroke="none"/><circle cx="421.8" cy="969.9" r="1.2" fill="#e8e8e8" stroke="none"/><circle cx="424.9" cy="969.3" r="1.3" fill="#e8e8e8" stroke="none"/><circle cx="423.5" cy="969.4" r="1.1" fill="#e8e8e8" stroke="none"/><circle cx="422.3" cy="969.6" r="0.8" fill="#e8e8e8" stroke="none"/><circle cx="422.7" cy="969.2" r="1.3" fill="#e8e8e8" stroke="none"/><circle cx="422.4" cy="967.2" r="1.2" fill="#e8e8e8" stroke="none"/><circle cx="424.8" cy="969.7" r="0.9" fill="#e8e8e8" stroke="none"/><circle cx="335.7" cy="876.2" r="1.5" fill="#e8e8e8" stroke="none"/><circle cx="411.6" cy="757.9" r="6.6" fill="url(#halo)" stroke="none"/><circle cx="410.0" cy="757.0" r="1.3" fill="#e8e8e8" stroke="none"/><circle cx="410.6" cy="759.5" r="1.5" fill="#e8e8e8" stroke="none"/><circle cx="410.3" cy="756.0" r="1.1" fill="#e8e8e8" stroke="none"/><circle cx="409.3" cy="757.1" r="1.5" fill="#e8e8e8" stroke="none"/><circle cx="411.8" cy="758.1" r="0.9" fill="#e8e8e8" stroke="none"/><circle cx="413.5" cy="758.7" r="1.2" fill="#e8e8e8" stroke="none"/><circle cx="412.9" cy="756.9" r="1.0" fill="#e8e8e8" stroke="none"/><circle cx="409.7" cy="759.3" r="1.2" fill="#e8e8e8" stroke="none"/><circle cx="413.6" cy="759.5" r="1.3" fill="#e8e8e8" stroke="none"/></g>
</g>
<clipPath id="cp2"><rect x="468.1" y="445.1" width="109.3" height="605.4"/></clipPath>
<g clip-path="url(#cp2)">
<rect x="468.1" y="445.1" width="109.3" height="605.4" filter="url(#n5)"/>
<g fill="none" stroke="#e6e6e6" stroke-linecap="round" stroke-linejoin="round" filter="url(#rough5)"><path d="M575.5,446.4 C573.6,448.6 568.0,454.8 563.9,459.3 C559.8,463.8 555.3,468.5 551.0,473.4 C546.8,478.4 542.5,483.7 538.2,488.9 C533.9,494.0 527.5,501.7 525.3,504.3" stroke-width="2.06"/><path d="M529.2,465.7 C530.7,463.6 535.8,455.9 538.2,452.9 C540.5,449.9 542.5,448.6 543.3,447.7" stroke-width="1.54"/><path d="M529.2,465.7 C529.0,467.4 527.5,473.0 527.9,476.0 C528.3,479.0 531.1,482.4 531.7,483.7" stroke-width="1.54"/><path d="M543.3,447.7 C544.0,449.6 546.1,455.9 547.2,459.3 C548.3,462.7 549.3,466.8 549.8,468.3" stroke-width="1.54"/><path d="M551.0,476.0 C551.9,478.6 554.5,486.3 556.2,491.5 C557.9,496.6 559.6,501.5 561.3,506.9 C563.0,512.2 565.0,517.6 566.5,523.6 C568.0,529.6 569.5,536.9 570.3,542.9 C571.2,548.9 571.4,556.8 571.6,559.6" stroke-width="1.93"/><path d="M561.3,478.6 C562.0,480.7 564.8,487.6 565.2,491.5 C565.6,495.3 564.1,500.0 563.9,501.7" stroke-width="1.54"/><path d="M484.2,510.7 C485.2,512.9 488.7,519.3 490.6,523.6 C492.5,527.9 494.3,532.8 495.7,536.5 C497.1,540.1 498.4,544.0 498.9,545.5" stroke-width="1.67"/><path d="M497.0,530.0 C498.5,529.0 502.8,526.2 506.0,523.6 C509.2,521.0 514.6,516.1 516.3,514.6" stroke-width="1.80"/><path d="M490.6,512.0 C492.1,510.7 497.0,506.5 499.6,504.3 C502.2,502.2 504.9,500.0 506.0,499.2" stroke-width="1.54"/><path d="M495.7,517.2 C497.2,515.9 503.2,510.7 504.7,509.5" stroke-width="1.54"/><path d="M552.3,532.6 C554.3,531.3 559.8,527.5 563.9,524.9 C568.0,522.3 574.6,518.5 576.8,517.2" stroke-width="1.54"/><path d="M533.0,519.8 C534.8,518.0 540.3,513.3 543.3,509.5 C546.3,505.6 549.8,498.7 551.0,496.6" stroke-width="1.54"/><path d="M522.7,593.1 C524.0,591.6 528.1,587.5 530.5,584.1 C532.8,580.6 534.5,575.9 536.9,572.5 C539.3,569.1 541.8,565.4 544.6,563.5 C547.4,561.6 550.4,560.5 553.6,560.9 C556.8,561.3 560.0,563.5 563.9,566.1 C567.8,568.6 574.6,574.6 576.8,576.4" stroke-width="1.67"/><path d="M553.6,563.5 C555.3,564.6 560.0,567.1 563.9,569.9 C567.8,572.7 574.6,578.5 576.8,580.2" stroke-width="1.54"/><path d="M556.2,572.5 C556.6,574.0 557.7,578.9 558.8,581.5 C559.8,584.1 562.0,586.9 562.6,587.9" stroke-width="1.54"/><path d="M576.8,587.9 C574.6,589.0 567.3,592.6 563.9,594.4 C560.5,596.1 558.3,596.9 556.2,598.2 C554.0,599.5 554.0,600.6 551.0,602.1 C548.0,603.6 540.3,606.4 538.2,607.2" stroke-width="1.93"/><path d="M521.5,607.2 C523.8,606.8 530.7,605.7 535.6,604.7 C540.5,603.6 548.5,601.4 551.0,600.8" stroke-width="1.67"/><path d="M576.8,591.8 C575.7,593.9 572.5,600.4 570.3,604.7 C568.2,608.9 565.0,615.4 563.9,617.5" stroke-width="1.67"/><path d="M551.0,612.4 C550.6,613.0 548.5,614.5 548.5,616.2 C548.5,617.9 549.8,620.5 551.0,622.7 C552.3,624.8 554.7,627.6 556.2,629.1 C557.7,630.6 559.6,632.7 560.0,631.7 C560.5,630.6 559.6,625.7 558.8,622.7 C557.9,619.7 556.2,615.4 554.9,613.7 C553.6,611.9 551.7,612.6 551.0,612.4" stroke-width="1.54"/><path d="M503.4,566.1 C504.1,568.2 505.8,574.2 507.3,578.9 C508.8,583.6 510.7,589.6 512.5,594.4 C514.2,599.1 516.3,603.6 517.6,607.2 C518.9,610.9 519.7,614.7 520.2,616.2" stroke-width="1.41"/><path d="M477.7,611.1 C479.2,612.6 483.7,617.1 486.7,620.1 C489.7,623.1 492.9,626.5 495.7,629.1 C498.5,631.7 502.2,634.5 503.4,635.5" stroke-width="2.06"/><path d="M482.9,611.1 C484.8,610.9 490.6,610.2 494.4,609.8 C498.3,609.4 504.1,608.7 506.0,608.5" stroke-width="1.29"/><path d="M468.7,660.0 C470.2,659.7 474.9,659.5 477.7,658.7 C480.5,657.8 484.2,655.5 485.4,654.8" stroke-width="1.54"/><path d="M486.7,648.4 C487.4,650.5 489.9,657.4 490.6,661.3 C491.2,665.1 491.7,668.3 490.6,671.5 C489.5,674.8 486.3,678.2 484.2,680.5 C482.0,682.9 478.8,684.8 477.7,685.7" stroke-width="1.54"/><path d="M475.1,661.3 C474.9,663.0 474.0,668.1 473.9,671.5 C473.8,675.0 474.4,680.1 474.5,681.8" stroke-width="1.29"/><path d="M468.7,692.1 C470.6,691.5 476.2,689.3 480.3,688.3 C484.4,687.2 491.0,686.1 493.2,685.7" stroke-width="1.54"/><path d="M486.7,696.0 C487.8,695.3 490.6,692.1 493.2,692.1 C495.7,692.1 499.2,693.8 502.2,696.0 C505.2,698.1 508.6,701.8 511.2,705.0 C513.7,708.2 517.8,713.6 517.6,715.3 C517.4,717.0 513.3,715.5 509.9,715.3 C506.5,715.1 500.7,715.1 497.0,714.0 C493.4,712.9 490.0,711.0 488.0,708.8 C486.0,706.7 485.0,703.3 484.8,701.1 C484.6,699.0 486.4,696.8 486.7,696.0" stroke-width="1.54"/><path d="M468.7,706.3 C470.2,707.6 474.7,711.6 477.7,714.0 C480.7,716.3 483.3,718.3 486.7,720.4 C490.2,722.6 496.4,725.8 498.3,726.9" stroke-width="1.54"/><path d="M468.7,710.1 C470.6,712.3 476.7,718.9 480.3,723.0 C483.9,727.1 487.4,730.9 490.6,734.6 C493.8,738.2 498.1,743.1 499.6,744.9" stroke-width="1.29"/><path d="M530.5,652.2 C531.1,654.4 533.0,660.8 534.3,665.1 C535.6,669.4 537.1,673.7 538.2,678.0 C539.3,682.3 539.9,686.5 540.8,690.8 C541.6,695.1 542.9,701.6 543.3,703.7" stroke-width="1.16"/><path d="M536.9,665.1 C538.2,665.8 542.3,666.8 544.6,669.0 C547.0,671.1 549.5,674.3 551.0,678.0 C552.5,681.6 553.2,688.7 553.6,690.8" stroke-width="1.54"/><path d="M560.0,684.4 C561.3,685.7 565.4,689.8 567.8,692.1 C570.1,694.5 573.1,697.5 574.2,698.6" stroke-width="1.54"/><path d="M499.6,737.1 C500.4,735.2 503.2,728.4 504.7,725.6 C506.2,722.8 508.0,721.3 508.6,720.4" stroke-width="1.54"/><path d="M517.6,698.6 C518.2,697.3 520.8,692.1 521.5,690.8" stroke-width="1.29"/><path d="M566.5,680.5 C566.7,679.0 566.5,673.9 567.8,671.5 C569.1,669.2 573.1,667.3 574.2,666.4" stroke-width="1.03"/><path d="M512.5,465.7 C513.1,464.7 515.9,458.7 516.3,459.3 C516.7,459.9 515.2,467.9 515.0,469.6" stroke-width="1.29"/><path d="M470.0,463.2 C471.1,461.4 474.5,455.7 476.4,452.9 C478.4,450.1 480.7,447.5 481.6,446.4" stroke-width="1.54"/><path d="M476.4,460.6 C477.5,459.7 481.7,457.6 482.9,455.4 C484.0,453.3 483.4,449.0 483.5,447.7" stroke-width="1.29"/><path d="M468.7,468.3 C469.4,469.8 471.5,474.9 472.6,477.3 C473.6,479.7 474.7,481.6 475.1,482.4" stroke-width="1.29"/><path d="M468.7,517.2 C469.8,517.6 474.1,519.3 475.1,519.8" stroke-width="1.29"/><path d="M551.0,512.0 C552.3,513.8 556.2,518.0 558.8,522.3 C561.3,526.6 565.2,535.2 566.5,537.8" stroke-width="1.29"/><path d="M545.9,501.7 C546.8,500.9 549.8,498.7 551.0,496.6 C552.3,494.5 553.2,490.2 553.6,488.9" stroke-width="1.29"/><path d="M563.9,512.0 C565.2,511.2 569.5,509.0 571.6,506.9 C573.8,504.7 575.9,500.5 576.8,499.2" stroke-width="1.16"/><path d="M553.6,545.5 C554.7,544.8 559.0,542.3 560.0,541.6" stroke-width="1.29"/><path d="M563.9,551.9 C565.4,551.5 571.4,549.8 572.9,549.3" stroke-width="1.29"/><path d="M468.7,585.4 C470.0,585.8 475.1,587.5 476.4,587.9" stroke-width="1.03"/><path d="M484.2,605.9 C484.8,605.3 487.4,602.7 488.0,602.1" stroke-width="1.03"/><path d="M493.2,591.8 C494.9,592.2 501.7,593.9 503.4,594.4" stroke-width="1.03"/><path d="M468.7,638.1 C471.7,638.5 483.7,640.2 486.7,640.7" stroke-width="0.90"/><path d="M491.9,633.0 C492.9,633.6 497.2,636.2 498.3,636.8" stroke-width="1.29"/><path d="M526.6,735.9 C527.7,738.0 532.0,746.6 533.0,748.7" stroke-width="1.16"/><path d="M548.5,735.9 C548.9,738.0 550.6,746.6 551.0,748.7" stroke-width="1.16"/><path d="M567.8,733.3 C568.8,735.9 573.1,746.1 574.2,748.7" stroke-width="1.16"/><path d="M574.2,724.3 C574.6,723.4 576.3,720.0 576.8,719.1" stroke-width="1.16"/><path d="M468.7,726.9 C470.0,727.3 475.1,729.0 476.4,729.4" stroke-width="1.16"/><path d="M490.6,473.4 C491.2,474.9 493.8,480.9 494.4,482.4" stroke-width="0.90"/><path d="M522.7,478.6 C523.2,478.2 524.9,476.4 525.3,476.0" stroke-width="1.03"/><path d="M480.3,568.6 C479.2,569.5 474.9,572.9 473.9,573.8" stroke-width="0.90"/><path d="M499.6,754.0 C501.1,754.6 506.2,755.5 508.6,757.9 C511.0,760.2 512.7,763.9 513.7,768.2 C514.8,772.4 515.5,778.9 515.0,783.6 C514.6,788.3 513.1,792.2 511.2,796.5 C509.2,800.7 506.2,805.0 503.4,809.3 C500.7,813.6 497.2,817.9 494.4,822.2 C491.7,826.5 489.5,831.6 486.7,835.0 C483.9,838.5 480.7,841.0 477.7,842.8 C474.7,844.5 470.2,844.9 468.7,845.3" stroke-width="1.80"/><path d="M471.3,770.7 C472.8,772.2 476.7,777.2 480.3,779.7 C483.9,782.3 489.1,784.7 493.2,786.2 C497.2,787.7 501.5,788.5 504.7,788.7 C508.0,788.9 511.2,787.7 512.5,787.4" stroke-width="1.54"/><path d="M468.7,805.5 C471.3,804.4 479.4,801.0 484.2,799.0 C488.9,797.1 492.5,795.6 497.0,793.9 C501.5,792.2 508.8,789.6 511.2,788.7" stroke-width="1.54"/><path d="M512.5,788.7 C514.2,787.7 519.3,784.7 522.7,782.3 C526.2,779.9 530.9,777.6 533.0,774.6 C535.2,771.6 535.8,767.9 535.6,764.3 C535.4,760.7 532.4,754.6 531.7,752.7" stroke-width="1.54"/><path d="M534.3,745.0 C535.0,746.7 536.5,751.6 538.2,755.3 C539.9,758.9 542.5,766.4 544.6,766.9 C546.8,767.3 549.5,760.9 551.0,757.9 C552.5,754.9 553.2,750.4 553.6,748.9" stroke-width="1.54"/><path d="M553.6,748.9 C554.3,751.4 556.0,758.7 557.5,764.3 C559.0,769.9 560.9,776.9 562.6,782.3 C564.3,787.7 566.1,792.0 567.8,796.5 C569.5,801.0 571.4,805.0 572.9,809.3 C574.4,813.6 576.1,820.0 576.8,822.2" stroke-width="1.67"/><path d="M533.0,790.0 C534.3,790.9 537.8,793.5 540.8,795.2 C543.8,796.9 547.2,799.2 551.0,800.3 C554.9,801.4 561.8,801.4 563.9,801.6" stroke-width="1.41"/><path d="M535.6,815.7 C534.3,816.2 529.8,818.5 527.9,818.3 C526.0,818.1 523.6,815.7 524.0,814.5 C524.5,813.2 527.0,811.7 530.5,810.6 C533.9,809.5 539.9,808.7 544.6,808.0 C549.3,807.4 554.7,807.2 558.8,806.7 C562.8,806.3 567.3,805.7 569.1,805.5" stroke-width="1.54"/><path d="M503.4,824.8 C504.9,824.3 509.9,821.3 512.5,822.2 C515.0,823.0 516.1,828.2 518.9,829.9 C521.7,831.6 526.4,832.9 529.2,832.5 C532.0,832.0 534.3,829.9 535.6,827.3 C536.9,824.8 536.7,818.8 536.9,817.0" stroke-width="1.54"/><path d="M536.9,817.0 C537.1,819.6 538.2,827.5 538.2,832.5 C538.2,837.4 537.1,844.3 536.9,846.6" stroke-width="1.41"/><path d="M543.3,817.0 C545.9,816.8 556.2,816.0 558.8,815.7" stroke-width="1.29"/><path d="M468.7,822.2 C470.6,822.0 476.4,821.3 480.3,820.9 C484.2,820.5 489.9,819.8 491.9,819.6" stroke-width="1.29"/><path d="M470.0,827.3 C470.9,828.6 474.7,832.9 475.1,835.0 C475.6,837.2 473.0,839.3 472.6,840.2" stroke-width="1.29"/><path d="M482.9,845.3 C484.6,845.8 489.9,847.0 493.2,847.9 C496.4,848.8 500.7,850.1 502.2,850.5" stroke-width="1.54"/><path d="M543.3,880.1 C542.9,877.9 540.8,871.5 540.8,867.2 C540.8,862.9 541.6,857.8 543.3,854.3 C545.0,850.9 548.3,848.1 551.0,846.6 C553.8,845.1 557.3,844.7 560.0,845.3 C562.8,846.0 565.6,850.1 567.8,850.5 C569.9,850.9 572.7,850.5 572.9,847.9 C573.1,845.3 569.5,838.3 569.1,835.0 C568.6,831.8 569.1,829.9 570.3,828.6 C571.6,827.3 575.7,827.5 576.8,827.3" stroke-width="2.06"/><path d="M545.9,873.6 C545.9,871.5 545.0,863.6 545.9,860.8 C546.8,858.0 549.3,856.7 551.0,856.9 C552.8,857.1 555.1,859.3 556.2,862.1 C557.3,864.8 556.6,870.4 557.5,873.6 C558.3,876.8 559.2,879.6 561.3,881.4 C563.5,883.1 567.8,883.9 570.3,883.9 C572.9,883.9 575.7,881.8 576.8,881.4" stroke-width="2.06"/><path d="M468.7,890.4 C470.6,888.6 476.2,883.9 480.3,880.1 C484.4,876.2 489.1,871.3 493.2,867.2 C497.2,863.1 501.5,859.1 504.7,855.6 C508.0,852.2 510.3,850.1 512.5,846.6 C514.6,843.2 516.7,837.0 517.6,835.0" stroke-width="1.54"/><path d="M475.1,887.8 C479.2,887.6 492.3,886.9 499.6,886.5 C506.9,886.1 513.3,885.6 518.9,885.2 C524.5,884.8 530.7,884.1 533.0,883.9" stroke-width="1.41"/><path d="M512.5,865.9 C514.2,865.5 519.7,864.6 522.7,863.3 C525.7,862.1 529.2,859.1 530.5,858.2" stroke-width="1.29"/><path d="M522.7,845.3 C523.6,847.5 526.2,853.9 527.9,858.2 C529.6,862.5 532.2,868.9 533.0,871.1" stroke-width="1.29"/><path d="M485.4,907.1 C488.2,906.4 496.6,904.2 502.2,903.2 C507.7,902.3 512.9,901.4 518.9,901.3 C524.9,901.2 535.0,902.4 538.2,902.6" stroke-width="1.16"/><path d="M502.2,890.4 C502.3,891.9 502.6,896.4 502.8,899.4 C503.0,902.4 503.3,906.9 503.4,908.4" stroke-width="1.29"/><path d="M545.9,886.5 C546.1,888.6 547.6,895.3 547.2,899.4 C546.8,903.4 545.7,907.7 543.3,910.9 C541.0,914.2 537.1,916.7 533.0,918.7 C529.0,920.6 523.4,921.2 518.9,922.5 C514.4,923.8 509.2,924.4 506.0,926.4 C502.8,928.3 500.4,930.9 499.6,934.1 C498.7,937.3 499.6,941.8 500.9,945.7 C502.2,949.5 505.4,953.4 507.3,957.2 C509.2,961.1 511.6,965.6 512.5,968.8 C513.3,972.0 513.3,974.0 512.5,976.5 C511.6,979.1 509.9,982.3 507.3,984.3 C504.7,986.2 500.9,987.3 497.0,988.1 C493.2,989.0 487.8,988.3 484.2,989.4 C480.5,990.5 477.5,992.4 475.1,994.5 C472.8,996.7 470.9,1001.0 470.0,1002.3" stroke-width="2.06"/><path d="M468.7,918.7 C470.6,919.1 476.2,920.2 480.3,921.2 C484.4,922.3 489.9,924.0 493.2,925.1 C496.4,926.2 498.5,927.2 499.6,927.7" stroke-width="1.29"/><path d="M548.5,912.2 C547.6,914.4 545.0,921.2 543.3,925.1 C541.6,928.9 539.9,932.4 538.2,935.4 C536.5,938.4 533.9,941.8 533.0,943.1" stroke-width="1.41"/><path d="M508.6,941.8 C510.3,941.6 515.2,941.2 518.9,940.5 C522.5,939.9 528.5,938.4 530.5,938.0" stroke-width="1.16"/><path d="M515.0,963.7 C516.3,962.0 520.2,956.6 522.7,953.4 C525.3,950.2 529.2,945.9 530.5,944.4" stroke-width="1.29"/><path d="M468.7,968.8 C470.2,969.3 474.1,970.5 477.7,971.4 C481.4,972.3 485.9,973.3 490.6,974.0 C495.3,974.6 503.4,975.0 506.0,975.3" stroke-width="1.16"/><path d="M490.6,983.0 C491.4,980.8 494.2,973.3 495.7,970.1 C497.2,966.9 498.9,964.7 499.6,963.7" stroke-width="1.29"/><path d="M517.6,977.8 C520.0,978.5 527.2,980.6 531.7,981.7 C536.3,982.8 540.3,983.4 544.6,984.3 C548.9,985.1 555.3,986.4 557.5,986.8" stroke-width="1.16"/><path d="M533.0,966.3 C533.5,967.5 534.3,971.8 535.6,974.0 C536.9,976.1 539.9,978.3 540.8,979.1" stroke-width="1.29"/><path d="M525.3,985.5 C525.3,987.3 524.9,992.8 525.3,995.8 C525.7,998.8 527.5,1002.3 527.9,1003.6" stroke-width="1.16"/><path d="M551.0,1019.0 C552.3,1019.8 555.5,1023.7 558.8,1024.1 C562.0,1024.6 567.8,1023.5 570.3,1021.6 C572.9,1019.6 574.0,1015.1 574.2,1012.6 C574.4,1010.0 572.1,1007.2 571.6,1006.1" stroke-width="1.41"/><path d="M512.5,1013.8 C513.7,1015.3 517.6,1019.8 520.2,1022.8 C522.7,1025.9 525.7,1029.5 527.9,1031.9 C530.0,1034.2 532.2,1036.1 533.0,1037.0" stroke-width="1.41"/><path d="M516.3,1028.0 C518.2,1026.3 524.5,1020.5 527.9,1017.7 C531.3,1014.9 535.4,1012.3 536.9,1011.3" stroke-width="1.29"/><path d="M506.0,1007.4 C506.7,1009.1 509.7,1014.7 509.9,1017.7 C510.1,1020.7 507.7,1024.1 507.3,1025.4" stroke-width="1.16"/><path d="M543.3,1034.4 C544.6,1033.4 548.5,1028.6 551.0,1028.0 C553.6,1027.4 556.6,1028.6 558.8,1030.6 C560.9,1032.5 563.0,1038.1 563.9,1039.6" stroke-width="1.29"/><path d="M468.7,1033.1 C470.2,1033.4 475.1,1033.1 477.7,1034.4 C480.3,1035.7 482.7,1038.3 484.2,1040.9 C485.7,1043.4 486.3,1048.4 486.7,1049.9" stroke-width="1.41"/><path d="M517.6,1049.9 C519.3,1048.4 524.5,1043.6 527.9,1040.9 C531.3,1038.1 535.6,1035.7 538.2,1033.1 C540.8,1030.6 542.5,1026.7 543.3,1025.4" stroke-width="1.41"/><path d="M553.6,1049.9 C555.3,1049.0 560.0,1046.4 563.9,1044.7 C567.8,1043.0 574.6,1040.4 576.8,1039.6" stroke-width="1.29"/><path d="M538.2,1012.6 C538.4,1014.7 539.5,1021.8 539.5,1025.4 C539.5,1029.1 538.4,1032.9 538.2,1034.4" stroke-width="1.16"/><path d="M571.6,745.0 C572.3,747.1 574.6,753.6 575.5,757.9 C576.3,762.2 576.6,768.6 576.8,770.7" stroke-width="1.80"/><path d="M562.6,766.9 C564.1,767.1 570.1,767.9 571.6,768.2" stroke-width="1.16"/><path d="M566.5,761.7 C567.3,764.9 570.8,777.8 571.6,781.0" stroke-width="1.16"/><path d="M491.9,873.6 C492.5,871.9 494.4,866.6 495.7,863.3 C497.0,860.1 498.9,855.8 499.6,854.3" stroke-width="1.16"/><path d="M481.6,858.2 C482.2,859.5 483.9,863.8 485.4,865.9 C486.9,868.1 489.7,870.2 490.6,871.1" stroke-width="1.16"/><path d="M551.0,822.2 C551.9,824.8 555.3,835.0 556.2,837.6" stroke-width="1.03"/><path d="M561.3,817.0 C561.5,819.6 562.4,829.9 562.6,832.5" stroke-width="1.03"/><path d="M480.3,799.0 C481.4,801.2 484.4,811.7 486.7,811.9 C489.1,812.1 493.2,802.2 494.4,800.3" stroke-width="1.03"/><path d="M558.8,892.9 C561.8,892.7 573.8,891.9 576.8,891.6" stroke-width="1.03"/><path d="M554.9,890.4 C556.4,888.6 560.7,883.7 563.9,880.1 C567.1,876.4 572.5,870.4 574.2,868.5" stroke-width="1.16"/><path d="M468.7,1012.6 C470.0,1013.0 475.1,1014.7 476.4,1015.1" stroke-width="1.03"/><path d="M477.7,927.7 C479.0,928.9 484.2,934.1 485.4,935.4" stroke-width="1.03"/><path d="M509.9,1046.0 C510.7,1047.1 514.2,1051.4 515.0,1052.4" stroke-width="1.03"/><path d="M500.9,763.0 C501.7,763.9 505.2,767.3 506.0,768.2" stroke-width="1.03"/><path d="M520.2,777.2 C521.5,776.7 526.6,775.0 527.9,774.6" stroke-width="1.03"/><path d="M552.0,835.4 C551.8,835.5 551.3,835.8 550.9,835.9 C550.5,836.0 550.1,836.1 549.8,836.2 C549.4,836.2 549.0,836.2 548.6,836.2 C548.2,836.2 547.6,836.1 547.4,836.0" stroke-width="1.18"/><path d="M515.1,959.9 C515.4,959.9 516.4,959.9 517.0,959.8 C517.6,959.6 518.2,959.4 518.8,959.1 C519.3,958.8 519.9,958.4 520.3,957.9 C520.7,957.4 521.2,956.6 521.4,956.3" stroke-width="0.90"/><path d="M535.2,963.0 C534.8,963.0 533.4,962.9 532.5,963.0 C531.6,963.2 530.7,963.3 529.9,963.6 C529.0,963.8 528.2,964.2 527.4,964.6 C526.6,965.0 525.4,965.8 525.1,966.0" stroke-width="0.68"/><path d="M519.1,878.0 C519.1,877.9 518.9,877.5 518.7,877.3 C518.6,877.1 518.4,876.9 518.2,876.7 C517.9,876.5 517.7,876.4 517.4,876.2 C517.2,876.1 516.8,876.0 516.7,876.0" stroke-width="0.75"/><path d="M519.9,966.5 C519.8,966.6 519.6,967.0 519.4,967.2 C519.3,967.4 519.0,967.6 518.8,967.7 C518.5,967.8 518.2,967.9 517.9,967.9 C517.7,967.9 517.2,967.8 517.1,967.8" stroke-width="1.12"/><path d="M552.8,469.4 C552.7,469.5 552.5,470.1 552.2,470.4 C552.0,470.7 551.7,470.9 551.3,471.1 C551.0,471.3 550.6,471.4 550.2,471.4 C549.9,471.4 549.3,471.2 549.1,471.2" stroke-width="0.67"/><path d="M482.0,579.3 C482.2,579.1 482.5,578.6 482.8,578.4 C483.2,578.2 483.6,578.0 484.0,578.0 C484.3,577.9 484.8,578.0 485.1,578.1 C485.5,578.3 486.0,578.7 486.1,578.8" stroke-width="0.78"/><path d="M539.5,561.9 C539.2,562.2 538.4,563.4 537.6,563.8 C536.9,564.3 535.9,564.6 535.1,564.7 C534.2,564.7 533.2,564.5 532.4,564.2 C531.6,563.8 530.7,562.8 530.3,562.5" stroke-width="0.75"/><path d="M506.4,480.7 C506.5,480.9 506.8,481.7 507.0,482.2 C507.1,482.7 507.3,483.2 507.4,483.7 C507.6,484.2 507.8,484.8 507.9,485.3 C508.0,485.8 508.3,486.6 508.3,486.8" stroke-width="0.94"/><path d="M506.4,541.5 C506.2,541.4 505.4,541.2 504.9,541.2 C504.4,541.1 503.9,541.1 503.4,541.1 C502.9,541.1 502.4,541.2 501.9,541.3 C501.4,541.4 500.6,541.6 500.4,541.7" stroke-width="1.18"/><path d="M532.6,455.1 C533.1,455.0 534.4,454.5 535.3,454.1 C536.2,453.6 537.1,453.2 537.9,452.7 C538.7,452.2 539.6,451.6 540.3,451.0 C541.1,450.4 542.2,449.4 542.6,449.1" stroke-width="1.19"/><path d="M479.6,1000.9 C479.7,1001.3 480.2,1002.6 480.4,1003.4 C480.6,1004.3 480.8,1005.2 480.8,1006.1 C480.9,1007.0 480.9,1007.9 480.8,1008.8 C480.7,1009.7 480.3,1011.0 480.3,1011.4" stroke-width="1.18"/><path d="M501.3,841.0 C501.4,840.9 501.8,840.6 502.1,840.3 C502.3,840.1 502.5,839.7 502.6,839.4 C502.7,839.1 502.8,838.8 502.9,838.4 C502.9,838.1 502.8,837.6 502.8,837.4" stroke-width="0.93"/><path d="M482.7,478.9 C483.0,479.0 483.7,479.2 484.2,479.3 C484.7,479.5 485.1,479.7 485.6,479.9 C486.1,480.1 486.5,480.4 486.9,480.7 C487.3,481.0 487.9,481.5 488.1,481.7" stroke-width="0.88"/><path d="M534.5,461.9 C534.8,462.0 535.7,462.4 536.4,462.5 C537.0,462.6 537.8,462.6 538.4,462.4 C539.1,462.3 539.7,462.0 540.3,461.6 C540.8,461.3 541.5,460.5 541.8,460.3" stroke-width="0.61"/><path d="M474.8,839.7 C475.0,839.5 475.8,839.0 476.1,838.5 C476.5,838.0 476.7,837.3 476.8,836.7 C476.8,836.1 476.7,835.4 476.5,834.9 C476.2,834.3 475.5,833.6 475.3,833.4" stroke-width="0.72"/><path d="M542.9,924.8 C543.1,925.0 543.7,925.8 544.2,926.1 C544.6,926.4 545.3,926.7 545.8,926.7 C546.4,926.8 547.1,926.8 547.6,926.6 C548.2,926.4 548.9,925.8 549.2,925.6" stroke-width="0.92"/><path d="M551.2,747.8 C551.2,747.6 551.5,747.0 551.7,746.6 C551.8,746.2 552.1,745.8 552.3,745.5 C552.6,745.1 552.9,744.8 553.2,744.5 C553.5,744.2 554.0,743.9 554.2,743.7" stroke-width="0.88"/><path d="M534.4,490.0 C534.1,490.2 533.1,490.7 532.6,491.1 C532.0,491.6 531.5,492.1 531.1,492.7 C530.7,493.3 530.4,493.9 530.1,494.6 C529.9,495.2 529.7,496.3 529.7,496.7" stroke-width="0.93"/><path d="M470.2,698.4 C470.5,698.3 471.5,697.9 472.2,697.7 C472.9,697.4 473.6,697.1 474.3,696.9 C475.0,696.6 475.7,696.4 476.4,696.1 C477.1,695.9 478.1,695.5 478.4,695.4" stroke-width="1.12"/><path d="M544.3,753.4 C544.0,753.7 543.0,754.6 542.3,755.2 C541.6,755.7 540.8,756.3 540.1,756.8 C539.4,757.4 538.6,757.9 537.8,758.3 C537.1,758.8 535.9,759.5 535.5,759.7" stroke-width="0.89"/><path d="M508.9,538.3 C509.0,538.6 509.3,539.6 509.6,540.3 C509.8,540.9 510.0,541.6 510.2,542.3 C510.4,542.9 510.5,543.6 510.7,544.3 C510.9,545.0 511.1,546.0 511.2,546.4" stroke-width="1.06"/><path d="M517.4,678.2 C517.3,678.1 516.7,677.7 516.5,677.3 C516.3,676.9 516.1,676.5 516.1,676.0 C516.1,675.6 516.2,675.1 516.3,674.7 C516.5,674.3 517.0,673.8 517.1,673.7" stroke-width="0.98"/><path d="M501.1,743.0 C501.4,742.6 502.4,741.5 503.1,740.9 C503.8,740.3 504.6,739.7 505.5,739.2 C506.3,738.8 507.2,738.4 508.1,738.1 C509.1,737.8 510.5,737.6 511.0,737.5" stroke-width="1.13"/><path d="M556.7,667.9 C556.6,668.1 555.9,668.8 555.7,669.3 C555.5,669.9 555.4,670.5 555.4,671.1 C555.5,671.7 555.6,672.3 555.9,672.8 C556.2,673.4 556.9,674.0 557.1,674.2" stroke-width="0.95"/><path d="M528.8,921.4 C528.4,921.7 527.4,922.9 526.6,923.4 C525.8,924.0 525.0,924.5 524.1,924.9 C523.2,925.3 522.2,925.6 521.3,925.8 C520.3,925.9 518.8,925.9 518.3,925.9" stroke-width="0.95"/><path d="M493.0,1010.1 C492.8,1009.8 492.1,1008.9 491.6,1008.5 C491.0,1008.0 490.4,1007.6 489.7,1007.4 C489.1,1007.1 488.3,1006.9 487.6,1006.9 C486.9,1006.8 485.8,1007.0 485.4,1007.0" stroke-width="0.72"/><path d="M489.6,1000.6 C489.2,1000.7 488.1,1000.9 487.3,1001.0 C486.5,1001.0 485.7,1001.0 485.0,1000.9 C484.2,1000.8 483.4,1000.7 482.7,1000.4 C482.0,1000.2 480.9,999.7 480.6,999.5" stroke-width="1.09"/><path d="M499.8,567.9 C499.9,568.0 500.5,568.0 500.8,568.2 C501.1,568.4 501.4,568.7 501.6,569.0 C501.8,569.2 501.9,569.6 501.9,570.0 C501.9,570.3 501.7,570.8 501.7,571.0" stroke-width="0.84"/><path d="M470.4,627.8 C470.3,627.5 470.2,626.7 469.9,626.2 C469.7,625.7 469.4,625.2 469.0,624.8 C468.6,624.4 468.1,624.1 467.6,623.9 C467.1,623.7 466.2,623.6 466.0,623.5" stroke-width="0.65"/><path d="M473.4,791.4 C473.3,791.8 472.8,792.8 472.6,793.5 C472.5,794.3 472.5,795.1 472.7,795.8 C472.8,796.5 473.1,797.3 473.5,797.9 C473.9,798.5 474.8,799.3 475.1,799.6" stroke-width="0.77"/><path d="M528.9,642.6 C528.9,642.4 528.7,641.7 528.7,641.3 C528.8,640.9 528.8,640.4 528.9,640.0 C529.1,639.5 529.2,639.1 529.5,638.7 C529.7,638.4 530.1,637.9 530.3,637.7" stroke-width="1.00"/><path d="M513.4,871.4 C513.0,871.7 512.0,872.8 511.3,873.3 C510.5,873.8 509.6,874.3 508.8,874.6 C507.9,874.9 506.9,875.2 506.0,875.3 C505.1,875.4 503.7,875.3 503.2,875.3" stroke-width="0.77"/><path d="M561.5,825.0 C561.9,824.9 562.9,824.2 563.7,824.0 C564.4,823.8 565.3,823.8 566.0,824.0 C566.8,824.1 567.6,824.4 568.2,824.9 C568.8,825.3 569.5,826.3 569.8,826.5" stroke-width="0.93"/><path d="M505.9,890.1 C506.2,890.0 507.1,889.7 507.8,889.6 C508.4,889.5 509.1,889.5 509.7,889.6 C510.3,889.6 511.0,889.7 511.6,889.9 C512.2,890.1 513.1,890.5 513.4,890.7" stroke-width="0.96"/><path d="M504.6,567.1 C504.4,566.9 504.0,566.6 503.7,566.3 C503.4,566.1 503.1,565.8 502.8,565.6 C502.5,565.4 502.2,565.2 501.9,565.0 C501.6,564.8 501.1,564.5 501.0,564.4" stroke-width="1.07"/><path d="M509.9,707.5 C510.2,707.4 511.3,707.2 511.9,707.1 C512.6,707.0 513.3,706.9 514.0,706.8 C514.7,706.8 515.4,706.7 516.1,706.6 C516.8,706.6 517.8,706.6 518.2,706.5" stroke-width="0.72"/><path d="M550.4,668.5 C550.4,668.0 550.4,666.5 550.7,665.6 C551.0,664.7 551.4,663.8 552.0,663.0 C552.5,662.2 553.2,661.5 554.0,661.0 C554.8,660.4 556.2,659.9 556.6,659.7" stroke-width="0.73"/><path d="M570.1,847.9 C570.2,848.1 570.5,848.4 570.7,848.6 C570.9,848.8 571.2,848.9 571.4,849.1 C571.7,849.2 571.9,849.3 572.2,849.3 C572.5,849.4 572.9,849.4 573.0,849.4" stroke-width="0.95"/><path d="M521.3,448.7 C521.5,448.7 522.0,448.7 522.2,448.7 C522.5,448.8 522.8,448.9 523.1,449.0 C523.3,449.2 523.6,449.4 523.8,449.6 C524.0,449.8 524.2,450.3 524.2,450.4" stroke-width="0.90"/><path d="M555.9,935.1 C555.8,934.9 555.6,934.1 555.4,933.6 C555.2,933.1 555.1,932.6 554.9,932.1 C554.8,931.6 554.6,931.1 554.5,930.6 C554.3,930.1 554.1,929.3 554.1,929.0" stroke-width="0.72"/><path d="M496.9,459.5 C496.5,459.8 495.4,460.7 494.6,461.2 C493.8,461.6 493.0,462.0 492.1,462.3 C491.2,462.5 490.3,462.7 489.4,462.8 C488.4,462.9 487.1,462.7 486.6,462.7" stroke-width="0.64"/><path d="M505.7,709.7 C505.4,709.6 504.5,709.2 504.0,708.9 C503.5,708.5 503.0,708.0 502.7,707.5 C502.3,706.9 502.1,706.3 501.9,705.7 C501.8,705.1 501.8,704.2 501.8,703.8" stroke-width="0.72"/><path d="M538.5,837.2 C538.6,837.2 539.2,837.1 539.5,836.9 C539.8,836.8 540.1,836.5 540.4,836.3 C540.6,836.0 540.8,835.7 540.9,835.3 C541.0,835.0 541.0,834.4 541.1,834.2" stroke-width="0.97"/><path d="M562.4,978.6 C562.6,978.4 563.2,977.6 563.7,977.1 C564.1,976.6 564.6,976.1 565.1,975.7 C565.6,975.2 566.1,974.8 566.7,974.5 C567.2,974.1 568.1,973.6 568.4,973.4" stroke-width="1.00"/><path d="M500.8,738.6 C501.0,738.8 501.6,739.3 502.0,739.6 C502.4,739.9 502.8,740.2 503.2,740.4 C503.7,740.7 504.1,740.9 504.6,741.1 C505.0,741.3 505.8,741.5 506.0,741.5" stroke-width="1.17"/><path d="M491.0,741.1 C491.2,741.1 491.6,741.3 491.9,741.4 C492.1,741.5 492.4,741.6 492.7,741.7 C492.9,741.9 493.2,742.0 493.5,742.1 C493.8,742.2 494.2,742.4 494.3,742.5" stroke-width="0.95"/><path d="M525.7,1042.9 C525.3,1042.8 524.2,1042.7 523.6,1042.4 C522.9,1042.1 522.3,1041.7 521.8,1041.2 C521.3,1040.7 520.9,1040.1 520.6,1039.4 C520.3,1038.8 520.2,1037.7 520.1,1037.3" stroke-width="0.68"/><path d="M552.7,526.0 C553.0,525.8 554.1,525.2 554.9,524.9 C555.6,524.6 556.5,524.5 557.3,524.4 C558.1,524.4 558.9,524.5 559.7,524.7 C560.5,524.9 561.6,525.4 562.0,525.6" stroke-width="1.12"/><path d="M472.9,496.7 C472.7,496.8 472.3,496.9 472.0,496.8 C471.7,496.8 471.4,496.7 471.1,496.6 C470.9,496.4 470.6,496.2 470.5,496.0 C470.3,495.7 470.1,495.3 470.1,495.2" stroke-width="0.71"/><path d="M493.5,884.0 C493.9,884.2 495.1,885.0 495.9,885.4 C496.7,885.7 497.5,886.1 498.3,886.4 C499.2,886.6 500.1,886.8 501.0,887.0 C501.8,887.1 503.2,887.2 503.6,887.2" stroke-width="0.92"/><path d="M560.0,489.9 C560.0,490.2 559.8,491.0 559.6,491.5 C559.5,492.0 559.2,492.5 558.9,492.9 C558.7,493.4 558.3,493.8 558.0,494.2 C557.6,494.6 557.0,495.1 556.8,495.3" stroke-width="0.78"/><path d="M514.4,571.4 C514.2,571.2 513.5,570.6 513.1,570.3 C512.7,569.9 512.3,569.4 512.0,569.0 C511.6,568.5 511.3,568.0 511.1,567.5 C510.8,567.1 510.5,566.3 510.4,566.0" stroke-width="0.60"/><path d="M529.4,1016.3 C529.4,1016.5 529.3,1017.2 529.1,1017.6 C529.0,1018.0 528.8,1018.4 528.6,1018.7 C528.3,1019.0 528.0,1019.4 527.7,1019.6 C527.3,1019.9 526.8,1020.2 526.6,1020.3" stroke-width="0.69"/><path d="M524.1,693.5 C524.2,693.8 524.4,694.5 524.4,695.0 C524.5,695.5 524.4,696.0 524.3,696.5 C524.2,697.0 524.0,697.4 523.7,697.9 C523.5,698.3 523.0,698.8 522.8,699.0" stroke-width="0.98"/><path d="M495.4,803.0 C495.6,803.0 496.2,803.1 496.5,803.2 C496.9,803.3 497.2,803.4 497.5,803.6 C497.8,803.8 498.1,804.1 498.4,804.3 C498.7,804.6 499.0,805.0 499.1,805.2" stroke-width="0.68"/><path d="M496.5,519.3 C496.2,519.1 495.3,518.4 494.8,517.9 C494.3,517.3 493.8,516.7 493.5,516.1 C493.1,515.4 492.8,514.8 492.5,514.1 C492.3,513.4 492.1,512.2 492.0,511.9" stroke-width="0.96"/><path d="M534.1,560.8 C534.0,561.0 533.8,561.5 533.6,561.7 C533.3,562.0 533.0,562.1 532.7,562.2 C532.3,562.3 531.9,562.3 531.6,562.3 C531.3,562.2 530.8,561.9 530.7,561.8" stroke-width="0.66"/><path d="M561.4,677.8 C561.6,677.7 562.4,677.1 562.9,677.0 C563.5,676.9 564.1,676.9 564.6,677.0 C565.2,677.1 565.8,677.4 566.2,677.7 C566.7,678.1 567.2,678.8 567.3,679.0" stroke-width="1.04"/><path d="M553.2,475.6 C553.2,475.5 553.0,475.1 552.9,474.9 C552.8,474.6 552.8,474.4 552.7,474.1 C552.7,473.8 552.6,473.5 552.6,473.3 C552.6,473.0 552.6,472.6 552.6,472.5" stroke-width="0.83"/><path d="M484.1,732.2 C484.0,732.5 483.6,733.3 483.3,733.8 C483.0,734.3 482.6,734.8 482.2,735.3 C481.9,735.7 481.4,736.2 481.0,736.6 C480.6,737.1 479.9,737.6 479.7,737.8" stroke-width="0.67"/><path d="M519.6,700.9 C519.9,700.6 521.0,699.6 521.6,698.9 C522.2,698.1 522.7,697.3 523.1,696.5 C523.5,695.6 523.8,694.7 524.0,693.7 C524.2,692.8 524.3,691.4 524.3,690.9" stroke-width="0.82"/><path d="M518.3,638.3 C518.7,638.0 519.9,637.3 520.5,636.6 C521.1,636.0 521.6,635.2 521.9,634.4 C522.3,633.6 522.6,632.7 522.7,631.8 C522.7,630.9 522.5,629.6 522.5,629.1" stroke-width="1.10"/><path d="M560.3,968.5 C560.2,968.5 559.8,968.7 559.6,968.7 C559.3,968.8 559.1,968.8 558.8,968.8 C558.5,968.9 558.3,968.8 558.0,968.8 C557.8,968.8 557.4,968.6 557.3,968.6" stroke-width="0.71"/><path d="M547.1,515.4 C547.0,515.3 546.5,515.1 546.3,514.9 C546.0,514.7 545.7,514.5 545.5,514.4 C545.2,514.2 545.0,514.0 544.7,513.7 C544.5,513.5 544.2,513.2 544.1,513.1" stroke-width="0.74"/><path d="M474.5,958.7 C474.4,958.4 474.3,957.2 474.2,956.5 C474.0,955.8 473.8,955.1 473.5,954.4 C473.3,953.7 473.0,953.1 472.6,952.4 C472.2,951.8 471.6,950.9 471.4,950.6" stroke-width="0.84"/><path d="M530.4,581.6 C530.2,581.5 529.9,581.1 529.7,580.9 C529.4,580.7 529.1,580.6 528.8,580.5 C528.5,580.4 528.1,580.3 527.8,580.3 C527.5,580.3 527.0,580.5 526.8,580.5" stroke-width="0.78"/><path d="M523.7,805.7 C523.6,805.4 523.3,804.4 523.1,803.8 C522.8,803.2 522.6,802.5 522.3,801.9 C522.0,801.3 521.7,800.7 521.4,800.1 C521.1,799.5 520.5,798.6 520.4,798.3" stroke-width="1.12"/><path d="M526.1,739.9 C526.4,740.2 527.0,741.3 527.6,741.8 C528.2,742.3 529.0,742.7 529.7,742.9 C530.5,743.1 531.4,743.1 532.2,743.0 C532.9,742.8 534.0,742.1 534.4,742.0" stroke-width="1.08"/><path d="M541.3,1048.8 C541.5,1048.5 542.1,1047.8 542.6,1047.4 C543.1,1047.1 543.7,1046.7 544.2,1046.4 C544.8,1046.1 545.4,1045.9 546.0,1045.7 C546.6,1045.5 547.6,1045.4 547.9,1045.3" stroke-width="0.83"/><path d="M500.9,1007.3 C500.7,1007.7 500.0,1008.7 499.9,1009.5 C499.8,1010.2 499.8,1011.1 500.0,1011.8 C500.3,1012.6 500.7,1013.3 501.3,1013.9 C501.8,1014.4 503.0,1014.9 503.3,1015.1" stroke-width="0.66"/><path d="M560.5,832.6 C560.3,832.3 560.1,831.2 559.7,830.6 C559.3,830.0 558.8,829.5 558.3,829.0 C557.8,828.6 557.1,828.2 556.5,828.0 C555.8,827.7 554.7,827.7 554.4,827.6" stroke-width="0.89"/><path d="M524.7,790.8 C525.0,790.8 525.9,790.9 526.5,791.0 C527.0,791.1 527.6,791.3 528.1,791.5 C528.7,791.7 529.2,792.0 529.7,792.3 C530.2,792.7 530.8,793.3 531.0,793.5" stroke-width="0.99"/><path d="M479.2,1031.1 C478.7,1031.1 477.2,1031.5 476.3,1031.5 C475.3,1031.5 474.3,1031.3 473.4,1030.9 C472.6,1030.5 471.7,1030.0 471.0,1029.3 C470.3,1028.6 469.6,1027.3 469.3,1026.9" stroke-width="0.78"/><path d="M533.9,841.0 C533.7,840.8 533.4,840.2 533.1,839.9 C532.9,839.5 532.5,839.2 532.1,839.0 C531.7,838.8 531.3,838.6 530.9,838.5 C530.4,838.4 529.7,838.4 529.5,838.3" stroke-width="0.72"/><path d="M508.1,1025.6 C507.7,1025.6 506.6,1025.8 505.9,1025.6 C505.2,1025.4 504.5,1025.1 503.9,1024.6 C503.4,1024.1 502.9,1023.4 502.7,1022.7 C502.4,1022.1 502.5,1020.9 502.5,1020.5" stroke-width="0.70"/><path d="M511.4,1018.0 C511.0,1018.2 510.0,1019.0 509.3,1019.3 C508.6,1019.7 507.7,1019.9 506.9,1020.1 C506.1,1020.2 505.3,1020.2 504.4,1020.1 C503.6,1020.0 502.4,1019.6 502.0,1019.5" stroke-width="1.19"/><path d="M478.7,662.7 C478.8,662.5 479.2,661.8 479.4,661.4 C479.5,660.9 479.6,660.4 479.6,659.9 C479.6,659.4 479.6,658.9 479.4,658.4 C479.3,657.9 478.9,657.3 478.8,657.1" stroke-width="1.06"/><path d="M490.7,847.6 C490.9,847.2 491.5,846.1 492.0,845.5 C492.5,844.8 493.1,844.2 493.8,843.7 C494.4,843.2 495.1,842.7 495.9,842.4 C496.6,842.0 497.8,841.6 498.2,841.5" stroke-width="0.77"/><path d="M531.4,806.3 C531.1,806.6 530.6,807.8 530.1,808.4 C529.5,809.0 528.8,809.5 528.1,809.9 C527.3,810.2 526.5,810.4 525.6,810.5 C524.8,810.5 523.6,810.1 523.2,810.1" stroke-width="1.16"/><path d="M524.5,871.3 C524.8,871.2 525.8,871.0 526.4,870.7 C527.1,870.5 527.7,870.2 528.3,870.0 C528.9,869.7 529.5,869.4 530.1,869.1 C530.6,868.7 531.5,868.2 531.8,868.0" stroke-width="0.79"/><path d="M475.1,966.5 C475.5,966.6 476.5,966.8 477.0,967.0 C477.6,967.3 478.2,967.7 478.7,968.1 C479.2,968.5 479.6,969.1 480.0,969.6 C480.3,970.2 480.6,971.2 480.7,971.5" stroke-width="1.14"/><path d="M473.3,673.6 C473.0,673.6 471.9,673.6 471.2,673.8 C470.5,673.9 469.9,674.3 469.3,674.7 C468.7,675.1 468.2,675.6 467.8,676.2 C467.4,676.7 467.0,677.8 466.8,678.1" stroke-width="0.87"/><path d="M505.7,479.6 C505.8,479.2 506.0,477.9 506.4,477.2 C506.9,476.5 507.5,475.9 508.2,475.5 C508.8,475.0 509.7,474.7 510.5,474.6 C511.3,474.5 512.6,474.8 513.0,474.9" stroke-width="1.00"/><path d="M555.9,846.3 C556.0,846.5 556.3,847.2 556.6,847.5 C556.9,847.9 557.3,848.3 557.7,848.5 C558.1,848.8 558.6,849.0 559.1,849.2 C559.5,849.3 560.3,849.3 560.5,849.4" stroke-width="0.91"/><path d="M556.4,782.2 C556.5,782.2 557.0,782.4 557.2,782.5 C557.5,782.6 557.8,782.8 558.0,783.0 C558.3,783.1 558.5,783.3 558.7,783.6 C559.0,783.8 559.2,784.2 559.3,784.3" stroke-width="0.97"/><path d="M533.0,609.1 C533.2,609.4 533.7,610.5 534.2,611.1 C534.7,611.7 535.3,612.2 535.9,612.7 C536.5,613.1 537.2,613.5 538.0,613.8 C538.7,614.1 539.8,614.3 540.2,614.4" stroke-width="0.86"/><path d="M548.7,505.8 C548.8,505.6 549.0,505.0 549.3,504.7 C549.6,504.3 549.9,504.0 550.3,503.8 C550.6,503.6 551.0,503.5 551.4,503.4 C551.8,503.3 552.5,503.4 552.7,503.4" stroke-width="1.07"/><path d="M548.5,1001.4 C548.9,1001.1 550.0,1000.5 550.6,999.9 C551.2,999.3 551.8,998.6 552.1,997.8 C552.5,997.0 552.8,996.2 553.0,995.4 C553.1,994.5 553.0,993.2 553.0,992.8" stroke-width="1.09"/><path d="M480.4,562.0 C480.6,561.9 481.2,561.3 481.7,561.0 C482.1,560.7 482.6,560.5 483.1,560.4 C483.6,560.2 484.2,560.1 484.7,560.2 C485.2,560.2 486.0,560.3 486.3,560.4" stroke-width="0.74"/><path d="M481.0,474.4 C481.4,474.3 482.7,473.8 483.6,473.7 C484.5,473.7 485.4,473.9 486.2,474.2 C487.0,474.6 487.8,475.2 488.4,475.9 C489.0,476.5 489.4,477.9 489.6,478.3" stroke-width="0.90"/><path d="M552.4,676.6 C552.5,676.8 552.9,677.3 553.1,677.7 C553.4,678.1 553.6,678.4 553.8,678.8 C554.0,679.2 554.2,679.6 554.4,680.0 C554.6,680.4 554.8,681.0 554.9,681.2" stroke-width="0.91"/><path d="M474.6,747.1 C474.6,747.2 474.4,747.6 474.4,747.9 C474.4,748.1 474.5,748.4 474.6,748.6 C474.7,748.9 474.9,749.1 475.1,749.3 C475.3,749.5 475.7,749.6 475.8,749.7" stroke-width="0.82"/><path d="M576.7,896.0 C576.5,896.3 575.8,897.1 575.2,897.5 C574.6,897.8 573.8,898.0 573.1,898.0 C572.4,898.1 571.7,897.9 571.0,897.7 C570.4,897.4 569.6,896.6 569.4,896.4" stroke-width="0.89"/><path d="M474.1,940.7 C474.0,940.3 473.8,939.0 473.8,938.1 C473.9,937.2 474.1,936.4 474.4,935.6 C474.7,934.8 475.2,934.0 475.8,933.3 C476.3,932.7 477.5,931.9 477.8,931.6" stroke-width="1.18"/><path d="M553.1,593.1 C553.3,593.2 553.9,593.2 554.3,593.3 C554.7,593.3 555.2,593.3 555.6,593.3 C556.0,593.3 556.4,593.3 556.9,593.3 C557.3,593.3 557.9,593.2 558.1,593.2" stroke-width="0.77"/><path d="M520.0,609.0 C519.9,608.8 519.5,608.3 519.3,607.9 C519.0,607.6 518.7,607.2 518.5,606.9 C518.2,606.5 517.9,606.2 517.6,605.9 C517.3,605.5 516.9,605.0 516.8,604.9" stroke-width="0.66"/><path d="M533.1,1018.1 C533.3,1017.9 533.7,1017.3 534.1,1017.0 C534.5,1016.7 535.0,1016.4 535.5,1016.3 C536.0,1016.1 536.5,1016.0 537.0,1016.1 C537.5,1016.1 538.2,1016.3 538.5,1016.4" stroke-width="1.10"/><path d="M517.1,983.1 C517.1,983.3 517.4,983.7 517.5,984.1 C517.6,984.4 517.6,984.8 517.6,985.1 C517.5,985.4 517.4,985.8 517.3,986.1 C517.1,986.4 516.8,986.8 516.7,986.9" stroke-width="0.80"/><path d="M487.7,886.4 C487.6,886.6 487.5,887.1 487.4,887.4 C487.3,887.7 487.3,888.1 487.2,888.4 C487.2,888.7 487.2,889.1 487.2,889.4 C487.3,889.7 487.4,890.2 487.4,890.4" stroke-width="0.80"/><path d="M534.6,536.4 C534.9,536.2 535.8,535.7 536.3,535.3 C536.9,534.9 537.3,534.4 537.8,533.9 C538.2,533.3 538.5,532.7 538.8,532.1 C539.1,531.5 539.4,530.5 539.5,530.2" stroke-width="0.87"/><path d="M568.0,468.4 C567.9,468.6 567.7,469.2 567.5,469.5 C567.3,469.9 567.1,470.3 566.9,470.6 C566.6,470.9 566.4,471.3 566.1,471.6 C565.9,471.9 565.4,472.4 565.3,472.5" stroke-width="1.18"/><path d="M525.7,774.3 C526.1,774.3 527.3,774.3 528.0,774.1 C528.7,773.9 529.4,773.6 530.0,773.1 C530.6,772.7 531.2,772.0 531.6,771.4 C531.9,770.7 532.2,769.6 532.3,769.2" stroke-width="0.72"/><path d="M537.1,782.6 C537.3,782.7 537.8,783.1 538.2,783.2 C538.6,783.3 539.1,783.3 539.5,783.2 C539.9,783.1 540.3,782.9 540.7,782.7 C541.0,782.5 541.4,781.9 541.5,781.8" stroke-width="1.15"/><path d="M575.4,712.7 C575.6,712.3 575.9,710.8 576.4,710.0 C576.8,709.3 577.6,708.5 578.3,708.0 C579.1,707.5 580.1,707.1 581.0,707.0 C581.9,706.9 583.3,707.2 583.8,707.2" stroke-width="0.61"/><path d="M488.4,910.8 C488.5,910.6 488.7,909.8 488.7,909.4 C488.6,908.9 488.5,908.4 488.3,908.0 C488.0,907.6 487.7,907.2 487.3,906.9 C486.9,906.7 486.2,906.5 486.0,906.4" stroke-width="0.80"/><path d="M528.6,995.3 C528.8,995.3 529.6,995.3 530.1,995.2 C530.5,995.1 531.0,994.9 531.4,994.6 C531.9,994.4 532.3,994.1 532.6,993.7 C532.9,993.3 533.2,992.6 533.3,992.4" stroke-width="0.69"/><path d="M504.9,918.0 C504.8,918.1 504.4,918.5 504.1,918.6 C503.8,918.7 503.4,918.8 503.1,918.7 C502.8,918.7 502.4,918.6 502.1,918.4 C501.9,918.3 501.5,917.9 501.4,917.7" stroke-width="0.61"/><path d="M498.7,1028.8 C498.5,1028.9 497.9,1029.1 497.5,1029.1 C497.1,1029.2 496.6,1029.2 496.2,1029.2 C495.8,1029.2 495.4,1029.2 494.9,1029.1 C494.5,1029.0 493.9,1028.8 493.7,1028.7" stroke-width="0.81"/><path d="M534.7,619.7 C534.4,619.9 533.5,620.8 532.8,621.2 C532.1,621.6 531.4,621.9 530.6,622.2 C529.9,622.4 529.0,622.6 528.3,622.7 C527.5,622.7 526.2,622.6 525.8,622.6" stroke-width="0.98"/><path d="M546.6,629.6 C546.7,629.7 546.8,630.2 546.9,630.5 C547.1,630.9 547.2,631.2 547.4,631.4 C547.6,631.7 547.8,632.0 548.1,632.2 C548.3,632.4 548.7,632.7 548.9,632.8" stroke-width="0.94"/><path d="M481.6,474.1 C481.4,474.3 480.8,474.9 480.5,475.3 C480.2,475.7 479.8,476.1 479.5,476.6 C479.2,477.0 478.9,477.5 478.7,477.9 C478.4,478.4 478.1,479.1 478.0,479.4" stroke-width="1.06"/><path d="M489.7,875.3 C489.5,875.2 488.8,875.3 488.4,875.2 C487.9,875.0 487.5,874.8 487.2,874.5 C486.8,874.2 486.6,873.8 486.4,873.3 C486.3,872.9 486.3,872.2 486.3,872.0" stroke-width="0.84"/><path d="M522.4,875.3 C522.8,875.4 523.7,876.0 524.4,876.1 C525.1,876.2 525.9,876.1 526.6,875.9 C527.2,875.6 527.9,875.2 528.4,874.7 C528.9,874.2 529.3,873.1 529.4,872.8" stroke-width="0.80"/><path d="M513.8,691.0 C514.2,691.1 515.6,691.5 516.5,691.5 C517.4,691.5 518.3,691.3 519.2,691.0 C520.1,690.7 520.9,690.3 521.6,689.7 C522.3,689.1 523.2,688.0 523.5,687.7" stroke-width="1.01"/><path d="M477.7,941.9 C477.5,941.8 477.0,941.3 476.7,941.0 C476.3,940.7 475.9,940.5 475.6,940.2 C475.2,940.0 474.8,939.7 474.4,939.5 C474.0,939.3 473.4,939.0 473.2,938.9" stroke-width="0.93"/><path d="M468.7,725.0 C468.7,725.3 468.6,726.1 468.3,726.5 C468.1,727.0 467.7,727.4 467.3,727.7 C466.9,728.0 466.4,728.2 465.9,728.3 C465.4,728.4 464.6,728.3 464.3,728.3" stroke-width="0.63"/><path d="M507.0,506.1 C507.1,505.9 507.4,505.0 507.5,504.4 C507.7,503.8 507.8,503.2 507.9,502.6 C507.9,502.0 508.0,501.4 508.0,500.8 C508.0,500.2 508.0,499.3 508.0,499.0" stroke-width="1.05"/><path d="M559.8,1011.3 C559.9,1011.2 560.3,1010.9 560.6,1010.6 C560.9,1010.4 561.1,1010.2 561.4,1010.0 C561.7,1009.7 561.9,1009.5 562.2,1009.3 C562.4,1009.1 562.8,1008.7 563.0,1008.6" stroke-width="0.92"/><path d="M546.0,623.5 C546.1,623.8 546.5,624.6 546.5,625.2 C546.5,625.9 546.5,626.5 546.3,627.1 C546.1,627.7 545.8,628.2 545.4,628.7 C545.1,629.2 544.3,629.7 544.0,629.9" stroke-width="1.19"/><path d="M542.9,459.9 C542.9,459.6 542.7,458.8 542.7,458.2 C542.7,457.6 542.8,457.0 543.0,456.5 C543.2,456.0 543.5,455.4 543.8,455.0 C544.2,454.5 544.9,454.0 545.1,453.7" stroke-width="1.15"/><path d="M526.5,940.9 C526.9,940.6 527.9,939.4 528.7,938.9 C529.5,938.4 530.6,938.1 531.6,938.1 C532.5,938.0 533.6,938.2 534.5,938.6 C535.4,939.0 536.5,940.1 536.9,940.4" stroke-width="0.82"/><path d="M508.0,978.9 C508.2,978.9 509.0,978.9 509.4,979.0 C509.9,979.2 510.3,979.4 510.7,979.8 C511.0,980.1 511.3,980.6 511.5,981.0 C511.7,981.4 511.7,982.2 511.7,982.5" stroke-width="0.93"/><path d="M475.9,948.0 C476.0,947.6 476.1,946.4 476.2,945.6 C476.4,944.8 476.5,944.0 476.7,943.3 C476.9,942.5 477.1,941.7 477.3,940.9 C477.5,940.1 477.9,939.0 478.0,938.6" stroke-width="0.77"/><path d="M487.5,666.5 C487.6,666.7 487.7,667.6 487.9,668.1 C488.1,668.6 488.4,669.0 488.7,669.5 C489.1,669.9 489.5,670.3 489.9,670.6 C490.4,670.9 491.2,671.1 491.4,671.3" stroke-width="1.02"/><path d="M561.8,789.4 C561.7,789.5 561.3,789.7 561.1,789.9 C560.9,790.1 560.8,790.3 560.7,790.6 C560.6,790.8 560.6,791.1 560.7,791.4 C560.7,791.7 561.0,792.0 561.0,792.1" stroke-width="0.71"/><path d="M560.2,961.9 C559.8,962.0 558.5,962.4 557.7,962.5 C556.8,962.5 555.9,962.5 555.1,962.3 C554.2,962.1 553.4,961.7 552.6,961.3 C551.9,960.9 550.9,959.9 550.6,959.7" stroke-width="1.18"/><path d="M544.5,971.3 C544.4,971.4 543.9,971.6 543.6,971.7 C543.3,971.7 542.9,971.7 542.6,971.6 C542.3,971.5 542.0,971.3 541.8,971.1 C541.6,970.8 541.4,970.4 541.3,970.2" stroke-width="0.66"/><path d="M468.4,704.4 C468.8,704.1 469.8,703.0 470.4,702.3 C471.1,701.6 471.7,700.8 472.3,700.1 C472.9,699.3 473.5,698.6 474.1,697.8 C474.7,697.0 475.6,695.8 475.9,695.5" stroke-width="0.75"/><path d="M491.1,925.7 C490.9,925.8 490.4,926.0 490.0,926.2 C489.7,926.4 489.3,926.6 489.0,926.8 C488.7,927.0 488.3,927.2 488.0,927.4 C487.7,927.6 487.2,927.9 487.0,928.0" stroke-width="0.77"/><path d="M511.6,1039.4 C511.5,1038.8 511.0,1037.2 510.8,1036.1 C510.6,1035.0 510.3,1033.9 510.1,1032.8 C509.9,1031.7 509.8,1030.6 509.6,1029.5 C509.5,1028.4 509.3,1026.8 509.2,1026.2" stroke-width="0.99"/><path d="M473.0,944.2 C474.0,944.2 477.0,944.1 479.0,944.3 C481.0,944.4 483.0,944.6 485.0,944.9 C487.0,945.3 488.9,945.7 490.9,946.2 C492.8,946.7 495.6,947.7 496.6,948.0" stroke-width="0.98"/><path d="M477.9,620.2 C479.1,620.5 482.8,621.5 485.2,621.7 C487.7,621.9 490.2,621.8 492.7,621.4 C495.1,621.1 497.6,620.4 499.9,619.4 C502.1,618.5 505.3,616.4 506.4,615.8" stroke-width="1.18"/><path d="M473.9,563.9 C473.5,564.8 472.1,567.4 471.4,569.3 C470.7,571.1 470.2,573.0 469.8,575.0 C469.3,576.9 469.0,578.9 468.9,580.8 C468.8,582.8 468.9,585.8 468.9,586.8" stroke-width="1.23"/><path d="M534.4,543.2 C533.9,542.9 532.3,542.2 531.2,541.6 C530.2,540.9 529.2,540.3 528.3,539.6 C527.3,538.9 526.4,538.1 525.5,537.3 C524.7,536.5 523.5,535.1 523.1,534.7" stroke-width="1.39"/><path d="M571.0,975.8 C570.0,974.9 566.6,972.4 564.6,970.4 C562.6,968.4 560.7,966.3 559.0,964.1 C557.3,961.9 555.7,959.5 554.3,957.1 C552.9,954.7 551.3,950.8 550.6,949.5" stroke-width="1.30"/><path d="M474.1,472.1 C473.7,473.4 472.7,477.4 471.5,479.8 C470.3,482.2 468.7,484.6 466.9,486.5 C465.1,488.5 462.9,490.3 460.6,491.7 C458.3,493.1 454.4,494.4 453.1,494.9" stroke-width="1.39"/><path d="M521.4,563.6 C520.6,564.8 518.0,568.1 516.7,570.6 C515.3,573.0 514.2,575.6 513.3,578.3 C512.4,580.9 511.8,583.7 511.4,586.5 C511.0,589.2 511.1,593.5 511.0,594.9" stroke-width="1.43"/><path d="M535.3,772.0 C535.4,772.8 535.6,775.0 535.9,776.5 C536.2,778.0 536.7,779.5 537.2,780.9 C537.8,782.3 538.5,783.7 539.3,784.9 C540.1,786.2 541.6,788.0 542.1,788.6" stroke-width="1.39"/><path d="M471.9,672.0 C471.3,671.5 469.7,669.9 468.5,669.0 C467.3,668.1 465.9,667.3 464.5,666.8 C463.1,666.2 461.6,665.7 460.1,665.5 C458.6,665.2 456.3,665.3 455.6,665.2" stroke-width="1.50"/><path d="M501.8,1041.9 C500.7,1041.5 497.4,1040.2 495.1,1039.5 C492.9,1038.8 490.6,1038.2 488.3,1037.7 C485.9,1037.2 483.6,1036.8 481.2,1036.5 C478.9,1036.1 475.3,1035.9 474.2,1035.8" stroke-width="1.23"/><path d="M514.3,939.6 C514.9,940.2 516.8,942.1 517.9,943.4 C519.0,944.8 520.1,946.2 521.1,947.7 C522.0,949.2 522.9,950.7 523.7,952.3 C524.5,953.8 525.5,956.3 525.8,957.1" stroke-width="1.44"/><path d="M476.4,1019.4 C477.0,1019.8 479.0,1021.2 480.4,1022.0 C481.8,1022.8 483.2,1023.6 484.6,1024.3 C486.1,1025.0 487.5,1025.6 489.0,1026.2 C490.5,1026.8 492.8,1027.6 493.6,1027.8" stroke-width="1.02"/><path d="M563.7,498.0 C563.0,498.6 560.8,500.5 559.2,501.5 C557.7,502.6 555.9,503.5 554.2,504.2 C552.4,504.9 550.6,505.4 548.7,505.8 C546.9,506.2 544.0,506.4 543.1,506.5" stroke-width="0.93"/><path d="M532.9,971.8 C533.7,972.1 536.3,972.8 537.9,973.6 C539.4,974.4 540.9,975.6 542.1,976.8 C543.3,978.1 544.3,979.6 545.1,981.2 C545.8,982.8 546.3,985.4 546.6,986.3" stroke-width="0.96"/><path d="M501.1,792.2 C500.8,791.2 500.0,788.2 499.2,786.3 C498.3,784.5 497.3,782.7 496.1,781.0 C494.9,779.4 493.4,777.8 491.9,776.5 C490.4,775.1 487.7,773.5 486.9,772.9" stroke-width="1.40"/><path d="M548.9,526.9 C548.4,527.2 547.0,528.0 546.0,528.3 C545.0,528.6 543.9,528.8 542.8,528.8 C541.7,528.8 540.6,528.6 539.6,528.2 C538.6,527.9 537.2,527.0 536.8,526.7" stroke-width="1.38"/><path d="M536.8,744.2 C537.6,744.4 540.0,744.8 541.6,744.9 C543.2,745.0 544.8,744.9 546.4,744.7 C548.0,744.4 549.5,744.1 551.1,743.6 C552.6,743.1 554.7,742.0 555.5,741.6" stroke-width="1.25"/><path d="M550.1,834.6 C549.4,833.8 547.6,831.4 546.2,829.9 C544.9,828.4 543.5,826.9 542.1,825.5 C540.7,824.1 539.2,822.7 537.7,821.4 C536.2,820.0 533.8,818.2 533.0,817.5" stroke-width="1.26"/><path d="M527.9,925.9 C528.8,925.0 531.5,922.2 533.3,920.2 C535.1,918.3 536.8,916.4 538.6,914.5 C540.4,912.5 542.1,910.6 543.8,908.7 C545.6,906.7 548.2,903.8 549.0,902.8" stroke-width="1.31"/><path d="M526.4,789.4 C525.7,789.7 523.6,790.7 522.2,791.4 C520.9,792.2 519.5,793.0 518.3,793.9 C517.0,794.7 515.8,795.7 514.6,796.7 C513.5,797.8 511.9,799.4 511.3,800.0" stroke-width="1.41"/><path d="M539.6,883.7 C538.6,882.9 535.2,880.9 533.4,879.1 C531.6,877.3 530.0,875.0 528.9,872.8 C527.7,870.5 526.9,867.9 526.5,865.4 C526.1,862.8 526.5,858.9 526.5,857.6" stroke-width="1.47"/><path d="M538.8,800.7 C538.5,801.2 537.6,802.8 537.3,803.9 C537.0,805.0 536.8,806.2 536.8,807.3 C536.8,808.5 537.0,809.7 537.4,810.8 C537.8,811.9 538.7,813.4 539.0,813.9" stroke-width="1.36"/><path d="M569.8,504.1 C570.0,504.8 570.7,506.8 570.9,508.2 C571.0,509.6 571.0,511.0 570.8,512.4 C570.6,513.8 570.1,515.2 569.5,516.5 C568.9,517.7 567.6,519.4 567.2,520.0" stroke-width="1.06"/><path d="M551.1,490.7 C552.0,490.8 554.7,491.0 556.5,491.3 C558.3,491.7 560.1,492.2 561.8,492.8 C563.5,493.4 565.2,494.1 566.9,494.9 C568.5,495.8 570.8,497.3 571.6,497.8" stroke-width="1.33"/><path d="M503.6,720.1 C504.2,719.5 505.8,717.7 507.0,716.6 C508.2,715.5 509.5,714.5 510.9,713.5 C512.2,712.6 513.6,711.7 515.0,710.9 C516.5,710.1 518.7,709.2 519.5,708.8" stroke-width="0.93"/><path d="M478.4,749.5 C478.8,748.9 480.1,747.2 480.8,745.9 C481.4,744.7 481.9,743.3 482.3,742.0 C482.6,740.6 482.8,739.1 482.8,737.7 C482.8,736.3 482.4,734.2 482.3,733.5" stroke-width="1.35"/><path d="M493.4,871.9 C492.9,872.3 491.3,873.5 490.2,874.4 C489.2,875.2 488.1,876.0 487.0,876.8 C485.9,877.6 484.8,878.3 483.7,879.1 C482.6,879.9 480.9,881.0 480.4,881.4" stroke-width="1.09"/><path d="M551.5,1009.4 C550.8,1010.1 548.4,1012.2 547.0,1013.6 C545.5,1015.1 544.1,1016.6 542.8,1018.1 C541.4,1019.7 540.1,1021.3 538.9,1023.0 C537.7,1024.6 536.0,1027.3 535.5,1028.1" stroke-width="1.11"/><path d="M576.0,804.9 C574.9,804.4 571.5,803.0 569.5,801.8 C567.4,800.6 565.4,799.2 563.5,797.7 C561.7,796.2 559.9,794.5 558.3,792.7 C556.7,790.9 554.6,788.0 553.9,787.0" stroke-width="1.06"/><path d="M517.1,974.7 C517.5,973.6 519.2,970.4 519.7,968.2 C520.2,965.9 520.2,963.4 519.9,961.2 C519.6,958.9 518.8,956.5 517.7,954.5 C516.6,952.5 514.1,949.9 513.4,949.0" stroke-width="1.43"/><path d="M529.4,1006.1 C529.9,1007.1 531.6,1010.0 532.3,1012.1 C533.0,1014.1 533.4,1016.4 533.5,1018.6 C533.7,1020.7 533.6,1023.0 533.2,1025.2 C532.8,1027.3 531.5,1030.4 531.1,1031.5" stroke-width="1.04"/><path d="M512.5,475.3 C512.4,474.8 511.9,473.4 511.6,472.4 C511.2,471.4 510.9,470.5 510.6,469.5 C510.2,468.5 509.9,467.6 509.6,466.6 C509.2,465.7 508.7,464.2 508.5,463.7" stroke-width="1.19"/><path d="M488.3,996.7 C489.0,996.6 491.2,996.0 492.6,995.7 C494.1,995.5 495.5,995.2 497.0,995.1 C498.5,994.9 499.9,994.8 501.4,994.8 C502.9,994.7 505.1,994.8 505.9,994.8" stroke-width="0.98"/><path d="M476.4,617.4 C476.9,618.0 478.6,619.9 479.8,621.2 C481.0,622.4 482.3,623.6 483.5,624.7 C484.8,625.9 486.1,627.0 487.4,628.1 C488.8,629.1 490.8,630.6 491.5,631.2" stroke-width="0.95"/><path d="M535.6,854.0 C534.6,853.6 531.5,852.2 529.3,851.6 C527.1,850.9 524.9,850.5 522.7,850.2 C520.5,849.9 518.2,849.8 515.9,849.8 C513.7,849.9 510.3,850.4 509.2,850.5" stroke-width="1.21"/><path d="M508.9,1034.5 C508.1,1034.1 505.9,1032.8 504.2,1032.1 C502.6,1031.4 500.9,1030.8 499.2,1030.4 C497.5,1029.9 495.8,1029.6 494.0,1029.5 C492.3,1029.3 489.6,1029.4 488.7,1029.4" stroke-width="1.44"/><path d="M526.6,471.2 C525.7,471.7 522.7,473.4 520.7,474.2 C518.6,475.0 516.5,475.7 514.3,476.1 C512.1,476.6 509.9,476.8 507.6,476.8 C505.4,476.9 502.1,476.4 501.0,476.3" stroke-width="1.13"/><path d="M531.9,488.0 C531.4,488.2 529.9,489.0 529.0,489.6 C528.1,490.1 527.2,490.8 526.4,491.5 C525.5,492.2 524.8,493.0 524.0,493.8 C523.3,494.6 522.4,496.0 522.0,496.4" stroke-width="1.28"/><path d="M480.7,947.2 C480.3,946.6 478.8,944.9 478.2,943.5 C477.5,942.2 477.1,940.7 476.9,939.3 C476.7,937.8 476.7,936.3 476.9,934.8 C477.2,933.4 478.1,931.3 478.3,930.6" stroke-width="0.96"/><circle cx="480.3" cy="604.0" r="1.5" fill="#ccc" stroke="none"/><circle cx="495.1" cy="592.4" r="1.3" fill="#ccc" stroke="none"/><circle cx="533.0" cy="540.3" r="1.8" fill="#ccc" stroke="none"/><circle cx="515.0" cy="720.4" r="1.8" fill="#ccc" stroke="none"/><circle cx="485.4" cy="636.8" r="1.2" fill="#ccc" stroke="none"/><circle cx="556.2" cy="555.1" r="1.3" fill="#ccc" stroke="none"/><circle cx="513.7" cy="648.4" r="1.2" fill="#ccc" stroke="none"/><circle cx="484.2" cy="756.6" r="2.8" fill="#ccc" stroke="none"/><circle cx="473.9" cy="907.1" r="6.1" fill="url(#halo)" stroke="none"/><circle cx="475.2" cy="905.2" r="1.0" fill="#ccc" stroke="none"/><circle cx="474.8" cy="909.1" r="0.8" fill="#ccc" stroke="none"/><circle cx="473.7" cy="906.9" r="1.1" fill="#ccc" stroke="none"/><circle cx="474.4" cy="906.6" r="1.0" fill="#ccc" stroke="none"/><circle cx="473.6" cy="906.2" r="1.3" fill="#ccc" stroke="none"/><circle cx="473.9" cy="909.1" r="1.0" fill="#ccc" stroke="none"/><circle cx="476.3" cy="907.9" r="0.8" fill="#ccc" stroke="none"/><circle cx="474.2" cy="907.0" r="1.1" fill="#ccc" stroke="none"/><circle cx="474.3" cy="906.8" r="1.1" fill="#ccc" stroke="none"/><circle cx="502.2" cy="833.8" r="1.5" fill="#ccc" stroke="none"/><circle cx="560.0" cy="790.0" r="1.3" fill="#ccc" stroke="none"/><circle cx="475.1" cy="926.4" r="1.5" fill="#ccc" stroke="none"/><circle cx="569.1" cy="768.8" r="1.0" fill="#ccc" stroke="none"/></g>
</g>
<clipPath id="cp3"><rect x="635.1" y="445.1" width="109.7" height="605.4"/></clipPath>
<g clip-path="url(#cp3)">
<rect x="635.1" y="445.1" width="109.7" height="605.4" filter="url(#n10)"/>
<rect x="635" y="445" width="110" height="50" fill="#3a3a3a" opacity="0.7" filter="url(#blur4)"/><g fill="none" stroke="#9a9a9a" stroke-linecap="round" opacity="0.75"><path d="M722.9,461.0 C722.5,461.4 721.6,463.1 720.6,463.6 C719.6,464.1 718.2,464.3 717.1,463.9 C716.1,463.6 714.9,462.6 714.4,461.7 C713.9,460.7 714.1,458.8 714.1,458.2" stroke-width="0.92"/><path d="M687.4,471.7 C686.8,471.8 684.8,471.6 683.9,472.2 C683.0,472.8 682.2,474.1 682.0,475.2 C681.9,476.2 682.3,477.7 683.0,478.5 C683.7,479.3 685.7,479.7 686.2,480.0" stroke-width="1.43"/><path d="M690.1,485.2 C690.2,485.7 691.3,487.5 691.1,488.5 C690.8,489.5 689.5,490.7 688.6,490.9 C687.6,491.2 685.9,490.6 685.3,489.8 C684.6,489.0 684.8,486.9 684.8,486.3" stroke-width="0.97"/><path d="M724.5,469.3 C724.3,468.8 724.3,466.8 723.7,465.9 C723.1,465.0 721.8,464.2 720.8,464.0 C719.7,463.8 718.2,464.0 717.3,464.6 C716.4,465.2 715.6,467.0 715.3,467.4" stroke-width="1.12"/><path d="M644.6,481.8 C644.1,482.1 642.2,482.7 641.5,483.5 C640.8,484.3 640.3,485.7 640.3,486.8 C640.2,487.8 640.7,489.2 641.4,490.1 C642.1,490.9 644.0,491.5 644.5,491.8" stroke-width="0.99"/><path d="M643.9,455.2 C643.3,455.1 641.6,454.6 640.5,454.4 C639.3,454.2 638.2,454.2 637.0,454.2 C635.8,454.2 634.7,454.2 633.5,454.4 C632.4,454.6 630.7,455.1 630.1,455.2" stroke-width="1.50"/><path d="M643.4,484.6 C643.9,484.9 645.7,485.4 646.5,486.2 C647.4,486.9 648.0,488.1 648.3,489.2 C648.6,490.3 648.5,491.6 648.2,492.7 C647.8,493.7 646.5,495.1 646.2,495.5" stroke-width="1.54"/><path d="M728.5,450.4 C728.3,450.9 727.2,452.7 727.4,453.7 C727.6,454.7 728.7,456.0 729.6,456.4 C730.6,456.8 732.3,456.5 733.1,455.9 C733.9,455.3 734.3,453.3 734.5,452.7" stroke-width="1.58"/><path d="M694.2,450.9 C693.6,450.7 691.7,450.5 690.9,449.8 C690.0,449.1 689.2,448.0 688.9,446.9 C688.6,445.8 688.7,444.4 689.2,443.4 C689.6,442.4 691.1,441.3 691.5,440.8" stroke-width="1.35"/><path d="M648.4,489.1 C648.6,489.6 649.7,491.3 649.7,492.3 C649.7,493.4 649.0,494.8 648.2,495.5 C647.4,496.2 646.0,496.7 644.9,496.6 C643.9,496.5 642.4,495.2 641.9,494.9" stroke-width="1.77"/><path d="M717.6,489.5 C717.1,489.8 715.3,490.3 714.5,491.1 C713.8,491.9 713.2,493.2 713.1,494.3 C713.0,495.4 713.4,496.8 714.0,497.7 C714.6,498.6 716.3,499.5 716.8,499.8" stroke-width="1.27"/><path d="M716.2,481.4 C715.6,481.2 713.5,480.9 712.9,480.2 C712.3,479.4 712.0,477.6 712.4,476.7 C712.7,475.8 714.2,474.7 715.2,474.6 C716.2,474.5 717.8,475.8 718.4,476.0" stroke-width="0.84"/><path d="M689.5,447.8 C689.0,447.7 686.8,447.6 686.2,446.8 C685.5,446.1 685.3,444.2 685.8,443.4 C686.2,442.5 687.9,441.6 688.8,441.7 C689.8,441.7 691.1,443.4 691.6,443.8" stroke-width="0.92"/><path d="M743.4,487.6 C742.8,487.6 740.9,486.8 739.9,487.2 C739.0,487.6 738.0,489.1 737.9,490.1 C737.8,491.1 738.6,492.7 739.4,493.2 C740.3,493.8 742.3,493.4 742.9,493.4" stroke-width="1.27"/><path d="M711.1,450.4 C711.5,450.8 712.4,452.7 713.3,453.1 C714.3,453.5 715.9,453.4 716.8,452.8 C717.7,452.2 718.5,450.8 718.5,449.7 C718.5,448.7 717.2,447.1 716.9,446.6" stroke-width="1.64"/><path d="M735.7,488.5 C735.8,487.9 736.0,486.2 736.3,485.0 C736.6,483.9 737.1,482.8 737.6,481.8 C738.1,480.7 738.7,479.7 739.4,478.8 C740.1,477.9 741.3,476.6 741.7,476.2" stroke-width="0.86"/><path d="M688.0,481.0 C687.4,480.7 685.8,479.3 684.8,479.4 C683.9,479.5 682.4,480.6 682.1,481.6 C681.8,482.5 682.2,484.3 682.9,485.0 C683.6,485.7 685.7,485.6 686.3,485.7" stroke-width="0.81"/><path d="M644.7,488.5 C645.2,488.8 646.8,489.7 647.9,490.0 C649.0,490.4 650.1,490.6 651.3,490.7 C652.4,490.7 653.6,490.7 654.8,490.4 C655.9,490.2 657.5,489.4 658.1,489.2" stroke-width="1.28"/><path d="M732.2,452.2 C731.8,452.7 730.9,454.3 729.9,454.9 C728.9,455.4 727.6,455.7 726.5,455.5 C725.4,455.4 724.1,454.8 723.3,454.0 C722.5,453.2 722.0,451.4 721.8,450.8" stroke-width="0.89"/><path d="M653.1,447.2 C653.4,446.7 654.9,445.4 655.2,444.4 C655.6,443.4 655.6,442.0 655.3,440.9 C655.0,439.8 654.2,438.7 653.3,438.0 C652.4,437.4 650.5,437.1 650.0,437.0" stroke-width="1.30"/><path d="M676.7,491.2 C676.7,490.6 676.6,488.8 676.7,487.7 C676.9,486.5 677.1,485.3 677.6,484.3 C678.0,483.2 678.5,482.1 679.2,481.2 C679.9,480.2 681.1,479.0 681.5,478.6" stroke-width="1.29"/><path d="M664.5,484.6 C664.8,485.1 666.0,486.4 666.5,487.4 C667.1,488.5 667.5,489.6 667.7,490.7 C667.9,491.9 668.0,493.1 667.9,494.2 C667.7,495.4 667.1,497.1 667.0,497.6" stroke-width="1.10"/><path d="M665.4,466.9 C665.5,467.4 665.9,469.2 666.0,470.3 C666.0,471.5 665.9,472.7 665.8,473.8 C665.6,475.0 665.2,476.1 664.8,477.2 C664.4,478.3 663.4,479.7 663.1,480.3" stroke-width="0.87"/><path d="M637.1,452.5 C637.1,453.1 637.8,455.0 637.4,456.0 C637.0,457.0 635.9,458.1 634.9,458.4 C633.9,458.7 632.3,458.5 631.4,457.9 C630.6,457.3 630.0,455.4 629.7,454.8" stroke-width="1.31"/><path d="M709.7,481.8 C709.4,482.3 708.7,484.4 707.8,484.8 C706.9,485.3 705.2,485.2 704.3,484.6 C703.5,484.0 702.8,482.4 702.9,481.4 C703.0,480.4 704.7,479.1 705.0,478.6" stroke-width="1.18"/><path d="M685.6,468.5 C685.8,467.9 686.0,466.0 686.7,465.1 C687.3,464.2 688.4,463.4 689.5,463.1 C690.5,462.7 691.9,462.7 693.0,463.1 C694.0,463.5 695.3,464.9 695.8,465.3" stroke-width="0.99"/><path d="M726.1,465.7 C725.7,466.1 724.4,467.7 723.4,467.9 C722.4,468.2 720.8,467.9 720.0,467.3 C719.1,466.7 718.3,465.3 718.3,464.2 C718.2,463.2 719.3,461.5 719.5,461.0" stroke-width="1.67"/><path d="M729.4,460.9 C730.0,460.9 731.9,460.8 732.9,461.3 C733.9,461.8 734.9,462.8 735.3,463.8 C735.8,464.7 736.0,466.1 735.8,467.2 C735.6,468.3 734.3,469.7 734.0,470.2" stroke-width="1.77"/><path d="M718.0,492.0 C717.5,491.7 715.7,491.2 714.9,490.4 C714.1,489.7 713.4,488.5 713.2,487.4 C712.9,486.3 713.1,484.9 713.5,483.9 C713.9,482.9 715.3,481.6 715.7,481.2" stroke-width="1.58"/><path d="M692.7,469.2 C692.1,469.1 690.1,469.0 689.3,468.3 C688.5,467.6 687.8,466.2 687.8,465.1 C687.9,464.1 688.6,462.6 689.4,462.0 C690.2,461.3 692.2,461.3 692.8,461.2" stroke-width="1.18"/><path d="M717.1,471.8 C716.7,471.4 715.7,469.9 714.8,469.2 C713.9,468.6 712.7,468.1 711.5,467.9 C710.4,467.8 709.1,467.9 708.0,468.2 C707.0,468.5 705.5,469.7 705.0,470.0" stroke-width="0.88"/><path d="M709.3,452.7 C708.7,452.8 706.9,453.5 705.8,453.4 C704.7,453.3 703.5,452.6 702.7,451.8 C702.0,451.0 701.4,449.7 701.3,448.6 C701.2,447.5 702.0,445.8 702.1,445.2" stroke-width="0.85"/><path d="M735.2,473.1 C734.8,472.7 733.4,471.5 732.8,470.6 C732.2,469.6 731.8,468.4 731.6,467.3 C731.5,466.1 731.6,464.9 731.9,463.8 C732.3,462.7 733.4,461.2 733.6,460.7" stroke-width="0.86"/><path d="M637.4,479.1 C637.1,478.7 635.8,477.5 635.2,476.5 C634.6,475.5 634.2,474.3 634.0,473.2 C633.7,472.1 633.7,470.8 633.9,469.7 C634.0,468.5 634.8,466.9 634.9,466.3" stroke-width="1.62"/><path d="M664.8,453.4 C665.0,452.8 666.1,451.1 665.9,450.1 C665.7,449.1 664.5,447.8 663.5,447.5 C662.6,447.2 660.9,447.6 660.1,448.3 C659.4,448.9 659.3,451.0 659.1,451.6" stroke-width="1.32"/><path d="M703.6,489.9 C703.9,490.4 705.1,491.9 705.4,492.9 C705.8,494.0 705.8,495.3 705.6,496.4 C705.4,497.5 704.9,498.7 704.2,499.6 C703.5,500.5 701.9,501.4 701.4,501.7" stroke-width="0.88"/><path d="M684.9,474.5 C684.7,474.0 684.2,471.9 683.3,471.4 C682.5,470.9 680.7,470.8 679.8,471.4 C679.0,471.9 678.1,473.4 678.2,474.4 C678.2,475.4 679.8,476.9 680.1,477.3" stroke-width="1.55"/><path d="M651.4,464.6 C651.8,465.0 653.6,466.0 654.0,466.9 C654.4,467.9 654.5,469.4 654.0,470.4 C653.6,471.4 652.5,472.4 651.5,472.8 C650.4,473.1 648.6,472.5 648.0,472.4" stroke-width="0.88"/><path d="M635.5,447.4 C635.0,447.1 633.7,445.4 632.7,445.3 C631.7,445.2 630.1,446.0 629.6,446.9 C629.1,447.7 629.0,449.5 629.5,450.4 C630.1,451.2 632.1,451.7 632.7,451.9" stroke-width="1.58"/><path d="M723.8,483.6 C724.4,483.6 726.2,483.2 727.3,483.3 C728.4,483.4 729.6,483.7 730.7,484.2 C731.8,484.6 732.8,485.2 733.7,486.0 C734.5,486.8 735.5,488.2 735.9,488.7" stroke-width="1.62"/><path d="M694.7,476.7 C695.2,477.1 696.7,477.9 697.7,478.6 C698.6,479.3 699.5,480.0 700.4,480.8 C701.3,481.6 702.1,482.4 702.8,483.3 C703.6,484.2 704.6,485.7 704.9,486.1" stroke-width="1.79"/><path d="M677.7,478.9 C678.0,479.4 678.8,480.9 679.4,482.0 C679.9,483.0 680.5,484.0 681.2,485.0 C681.8,486.0 682.4,486.9 683.1,487.9 C683.7,488.8 684.8,490.2 685.1,490.7" stroke-width="1.34"/><path d="M719.6,460.8 C719.3,461.3 717.9,462.6 717.6,463.7 C717.3,464.7 717.5,466.2 718.0,467.1 C718.5,468.1 719.6,469.1 720.6,469.4 C721.7,469.8 723.6,469.3 724.1,469.3" stroke-width="1.38"/><path d="M738.4,463.8 C738.1,463.3 737.3,461.7 736.9,460.6 C736.5,459.5 736.1,458.4 735.9,457.3 C735.6,456.1 735.4,455.0 735.3,453.8 C735.2,452.7 735.2,450.9 735.2,450.3" stroke-width="1.00"/><path d="M711.6,455.7 C711.8,455.2 712.0,453.0 712.7,452.4 C713.5,451.8 715.4,451.7 716.2,452.2 C717.1,452.7 717.9,454.4 717.7,455.4 C717.6,456.3 715.7,457.5 715.3,458.0" stroke-width="1.11"/><path d="M708.5,461.6 C708.0,461.5 706.2,460.8 705.1,461.1 C704.0,461.3 702.8,462.1 702.2,463.0 C701.5,463.8 701.2,465.3 701.3,466.3 C701.4,467.4 702.7,468.9 702.9,469.4" stroke-width="1.30"/><path d="M721.3,455.8 C721.3,456.4 721.0,458.3 721.3,459.3 C721.7,460.4 722.6,461.5 723.5,462.1 C724.4,462.7 725.8,463.0 726.9,462.9 C728.0,462.9 729.6,461.8 730.1,461.6" stroke-width="0.96"/><path d="M708.7,484.2 C708.1,484.2 706.4,484.1 705.2,484.1 C704.1,484.1 702.9,484.2 701.7,484.4 C700.6,484.6 699.4,484.8 698.3,485.2 C697.2,485.5 695.6,486.1 695.0,486.3" stroke-width="1.10"/><path d="M661.3,489.3 C660.8,489.2 659.0,488.9 658.0,488.3 C657.0,487.7 656.1,486.9 655.4,485.9 C654.8,485.0 654.3,483.8 654.1,482.7 C653.9,481.6 654.2,479.8 654.2,479.2" stroke-width="1.08"/><path d="M654.0,446.4 C654.0,447.0 653.7,448.7 653.7,449.9 C653.7,451.1 653.8,452.3 654.1,453.4 C654.3,454.5 654.6,455.7 655.1,456.7 C655.5,457.8 656.5,459.3 656.7,459.8" stroke-width="1.32"/><path d="M702.8,477.8 C703.4,477.8 705.3,477.3 706.3,477.6 C707.4,477.9 708.5,478.8 709.1,479.8 C709.6,480.7 709.9,482.2 709.7,483.2 C709.5,484.3 708.2,485.7 707.9,486.2" stroke-width="1.49"/><path d="M723.5,470.9 C723.1,470.5 721.4,469.3 721.1,468.4 C720.9,467.4 721.3,465.7 722.0,465.0 C722.7,464.2 724.3,463.7 725.3,463.8 C726.3,464.0 727.6,465.7 728.1,466.0" stroke-width="1.69"/><path d="M677.5,485.9 C676.9,485.8 675.0,485.8 674.0,485.3 C673.0,484.8 672.0,483.9 671.5,482.9 C670.9,481.9 670.7,480.6 670.8,479.5 C670.9,478.4 671.9,476.8 672.1,476.3" stroke-width="0.82"/><path d="M700.4,489.6 C699.9,489.3 698.0,488.7 697.4,487.9 C696.7,487.0 696.5,485.4 696.7,484.4 C697.0,483.4 698.1,482.2 699.0,481.8 C700.0,481.3 701.9,481.9 702.5,481.9" stroke-width="1.48"/><path d="M637.2,449.5 C636.7,449.5 634.5,449.9 633.8,449.3 C633.0,448.7 632.3,447.0 632.5,446.0 C632.7,445.1 633.9,443.7 634.9,443.5 C635.8,443.2 637.7,444.4 638.2,444.6" stroke-width="1.46"/><path d="M700.8,485.6 C700.9,486.1 700.9,488.1 701.5,489.0 C702.2,489.8 703.5,490.6 704.6,490.7 C705.6,490.7 707.1,490.2 707.9,489.5 C708.6,488.7 708.9,486.7 709.2,486.2" stroke-width="1.25"/><path d="M734.9,453.6 C734.4,453.9 732.7,454.6 731.9,455.4 C731.1,456.2 730.4,457.3 730.1,458.4 C729.8,459.5 729.7,460.8 730.0,461.9 C730.2,463.0 731.2,464.5 731.5,465.1" stroke-width="1.16"/><path d="M645.2,487.7 C644.8,488.2 643.8,489.8 642.8,490.3 C641.9,490.9 640.4,491.1 639.4,490.9 C638.3,490.6 637.1,489.9 636.4,489.0 C635.7,488.2 635.4,486.3 635.2,485.7" stroke-width="0.97"/><path d="M681.9,447.1 C681.4,446.8 679.9,445.9 679.0,445.2 C678.0,444.6 677.0,443.9 676.1,443.2 C675.1,442.6 674.2,441.9 673.2,441.2 C672.3,440.5 670.9,439.4 670.5,439.1" stroke-width="1.23"/><path d="M657.0,475.4 C657.2,475.9 658.3,477.7 658.1,478.7 C657.9,479.7 656.7,481.0 655.8,481.3 C654.8,481.6 653.1,481.3 652.3,480.6 C651.6,479.9 651.4,477.8 651.2,477.3" stroke-width="1.28"/><path d="M702.2,465.5 C702.5,465.0 704.1,463.6 704.1,462.6 C704.1,461.6 703.2,460.0 702.3,459.6 C701.4,459.2 699.6,459.4 698.8,460.0 C698.0,460.6 697.9,462.7 697.7,463.3" stroke-width="1.53"/><path d="M688.5,458.8 C688.3,458.3 687.0,456.7 687.0,455.6 C687.0,454.6 687.7,453.1 688.5,452.5 C689.3,451.8 690.9,451.4 691.9,451.7 C693.0,451.9 694.2,453.4 694.7,453.8" stroke-width="1.31"/><path d="M692.0,472.9 C691.8,472.3 691.6,470.2 690.8,469.6 C690.0,469.0 688.2,468.8 687.3,469.3 C686.4,469.7 685.5,471.3 685.5,472.3 C685.5,473.2 687.1,474.7 687.4,475.2" stroke-width="1.46"/><path d="M698.4,478.9 C698.3,479.5 698.2,481.5 697.5,482.3 C696.9,483.2 695.6,484.0 694.5,484.1 C693.4,484.2 692.0,483.9 691.1,483.2 C690.3,482.5 689.7,480.7 689.4,480.2" stroke-width="1.59"/><path d="M665.5,489.6 C666.0,489.9 667.7,490.5 668.7,491.1 C669.7,491.7 670.7,492.3 671.7,492.9 C672.6,493.6 673.6,494.3 674.4,495.1 C675.3,495.8 676.5,497.1 677.0,497.5" stroke-width="0.89"/><path d="M655.7,475.4 C655.6,474.8 655.0,473.2 654.6,472.1 C654.2,471.0 653.8,469.9 653.3,468.8 C652.8,467.7 652.3,466.7 651.8,465.6 C651.3,464.6 650.5,463.0 650.2,462.5" stroke-width="1.05"/><path d="M695.0,466.6 C694.6,467.1 693.5,468.5 692.9,469.5 C692.3,470.5 691.9,471.6 691.5,472.7 C691.2,473.8 690.9,475.0 690.9,476.1 C690.8,477.3 690.9,479.0 690.9,479.6" stroke-width="1.26"/><path d="M675.7,451.6 C675.2,451.9 673.5,452.6 672.7,453.4 C671.9,454.2 671.2,455.4 671.0,456.5 C670.7,457.6 670.7,458.9 671.0,460.0 C671.3,461.1 672.4,462.5 672.7,463.0" stroke-width="1.59"/><path d="M740.1,480.3 C739.9,480.8 739.1,482.4 738.6,483.4 C738.1,484.5 737.7,485.6 737.3,486.7 C736.9,487.8 736.5,488.9 736.1,490.0 C735.8,491.1 735.3,492.8 735.2,493.4" stroke-width="1.54"/><path d="M660.2,482.8 C660.3,483.3 661.2,485.3 660.8,486.2 C660.4,487.1 658.9,488.2 657.9,488.3 C657.0,488.3 655.4,487.4 654.9,486.6 C654.4,485.7 655.0,483.7 655.1,483.1" stroke-width="1.36"/><path d="M720.1,473.6 C720.3,473.1 721.2,471.5 721.6,470.4 C721.9,469.4 722.2,468.2 722.4,467.1 C722.6,465.9 722.7,464.7 722.7,463.6 C722.6,462.4 722.3,460.7 722.2,460.1" stroke-width="0.89"/><path d="M657.7,480.3 C658.1,479.9 659.7,478.9 660.2,477.9 C660.7,476.9 660.9,475.5 660.8,474.5 C660.6,473.4 659.9,472.1 659.1,471.4 C658.3,470.6 656.4,470.2 655.9,469.9" stroke-width="1.29"/><path d="M720.9,460.0 C720.6,460.5 719.9,462.3 719.1,463.0 C718.2,463.7 717.0,464.3 715.9,464.4 C714.7,464.5 713.4,464.1 712.5,463.5 C711.5,462.9 710.6,461.3 710.2,460.9" stroke-width="0.92"/><path d="M671.7,473.4 C671.4,472.8 669.9,471.3 670.0,470.3 C670.0,469.3 670.9,467.8 671.8,467.3 C672.7,466.9 674.5,467.0 675.3,467.6 C676.1,468.2 676.5,470.2 676.8,470.8" stroke-width="1.28"/><path d="M680.0,454.6 C679.6,454.2 678.8,452.2 677.8,451.9 C676.9,451.5 675.2,451.8 674.4,452.5 C673.6,453.1 673.1,454.8 673.3,455.8 C673.5,456.8 675.3,457.9 675.7,458.3" stroke-width="0.82"/><path d="M675.2,483.0 C675.2,483.6 675.3,485.4 675.4,486.5 C675.5,487.7 675.6,488.8 675.8,490.0 C676.0,491.1 676.2,492.3 676.5,493.4 C676.8,494.6 677.3,496.2 677.5,496.8" stroke-width="0.89"/><path d="M665.8,489.2 C665.6,488.7 665.5,486.6 664.8,485.9 C664.1,485.1 662.5,484.6 661.5,484.8 C660.5,484.9 659.1,486.0 658.7,486.9 C658.3,487.8 658.8,489.8 658.9,490.4" stroke-width="1.76"/><path d="M686.5,452.2 C686.0,452.1 683.8,452.0 683.2,451.3 C682.5,450.6 682.2,448.8 682.5,447.9 C682.9,446.9 684.3,445.8 685.3,445.7 C686.3,445.6 687.9,447.0 688.4,447.3" stroke-width="0.98"/><path d="M718.8,489.1 C719.4,489.1 721.3,488.9 722.3,489.3 C723.4,489.8 724.4,490.6 725.0,491.6 C725.6,492.5 726.0,493.8 725.9,494.9 C725.9,496.1 725.0,497.7 724.8,498.2" stroke-width="1.72"/><path d="M647.6,478.0 C648.2,477.9 649.9,477.5 651.1,477.3 C652.2,477.1 653.4,477.0 654.5,476.8 C655.7,476.7 656.8,476.6 658.0,476.6 C659.2,476.5 660.9,476.5 661.5,476.4" stroke-width="0.82"/><path d="M666.9,466.3 C666.3,466.3 664.5,466.7 663.4,466.4 C662.3,466.1 661.2,465.4 660.4,464.6 C659.6,463.8 658.9,462.6 658.7,461.6 C658.4,460.5 658.8,458.6 658.8,458.1" stroke-width="0.97"/><path d="M635.7,476.3 C636.3,476.2 638.0,476.0 639.2,475.9 C640.4,475.7 641.5,475.5 642.7,475.3 C643.8,475.1 645.0,474.9 646.1,474.6 C647.2,474.4 648.9,473.9 649.5,473.8" stroke-width="1.48"/><path d="M713.1,476.9 C712.7,476.5 711.4,474.7 710.5,474.6 C709.5,474.4 707.8,475.1 707.3,476.0 C706.7,476.8 706.6,478.6 707.1,479.5 C707.6,480.3 709.7,480.8 710.3,481.1" stroke-width="1.50"/><path d="M682.9,463.8 C682.6,463.3 682.0,461.4 681.1,460.8 C680.2,460.2 678.6,460.0 677.6,460.4 C676.6,460.7 675.4,461.8 675.1,462.8 C674.7,463.8 675.3,465.7 675.4,466.3" stroke-width="1.72"/><path d="M724.3,484.4 C724.5,483.8 725.6,482.2 725.6,481.1 C725.7,480.0 725.3,478.7 724.6,477.8 C724.0,476.9 722.8,476.1 721.7,475.8 C720.7,475.5 718.8,476.0 718.2,476.1" stroke-width="1.39"/><path d="M734.5,471.0 C733.9,470.9 732.1,470.1 731.1,470.3 C730.1,470.6 728.9,471.8 728.5,472.8 C728.2,473.7 728.4,475.4 729.0,476.2 C729.6,477.1 731.6,477.6 732.1,477.8" stroke-width="1.47"/><path d="M637.8,469.6 C638.4,469.4 640.2,469.1 641.2,468.6 C642.2,468.0 643.1,467.1 643.8,466.2 C644.4,465.3 644.8,464.1 645.0,462.9 C645.1,461.8 644.7,460.0 644.6,459.4" stroke-width="0.91"/><path d="M665.3,451.9 C665.0,451.4 664.4,449.8 664.0,448.7 C663.6,447.6 663.3,446.4 663.0,445.3 C662.7,444.2 662.4,443.1 662.2,441.9 C661.9,440.8 661.7,439.0 661.6,438.5" stroke-width="1.57"/><path d="M724.2,478.6 C723.7,478.3 722.4,477.2 721.5,476.4 C720.6,475.6 719.8,474.8 719.0,474.0 C718.1,473.2 717.3,472.3 716.5,471.5 C715.8,470.6 714.6,469.3 714.3,468.8" stroke-width="1.57"/><path d="M682.5,463.5 C682.6,464.1 682.5,466.2 683.2,466.9 C683.9,467.6 685.7,468.0 686.7,467.7 C687.6,467.3 688.7,465.8 688.8,464.9 C688.8,463.9 687.4,462.3 687.1,461.8" stroke-width="1.01"/></g><g filter="url(#blur2)"><path d="M739.9,626.5 C739.5,629.7 737.1,639.4 737.3,645.8 C737.6,652.2 740.1,659.7 741.2,665.1 C742.3,670.5 743.3,675.8 743.8,678.0" stroke="#bbb" stroke-width="7.1" stroke-linecap="round" fill="none"/><path d="M640.9,613.7 C640.4,615.8 638.9,622.9 638.3,626.5 C637.6,630.2 637.2,634.0 637.0,635.5" stroke="#777" stroke-width="5.1" stroke-linecap="round" fill="none"/><path d="M738.6,519.8 C739.3,520.6 741.8,524.0 742.5,524.9" stroke="#666" stroke-width="5.1" stroke-linecap="round" fill="none"/><path d="M675.6,905.8 C675.4,907.9 674.5,916.5 674.3,918.7" stroke="#666" stroke-width="5.1" stroke-linecap="round" fill="none"/><path d="M725.8,886.5 C726.2,889.7 727.9,902.6 728.3,905.8" stroke="#777" stroke-width="4.4" stroke-linecap="round" fill="none"/></g><circle cx="723.8" cy="482.4" r="6.1" fill="url(#halo)" stroke="none"/><circle cx="723.6" cy="482.9" r="1.3" fill="#ddd" stroke="none"/><circle cx="724.3" cy="481.4" r="1.0" fill="#ddd" stroke="none"/><circle cx="724.9" cy="481.0" r="1.3" fill="#ddd" stroke="none"/><circle cx="724.9" cy="482.4" r="1.3" fill="#ddd" stroke="none"/><circle cx="724.0" cy="482.9" r="0.9" fill="#ddd" stroke="none"/><circle cx="723.8" cy="482.5" r="0.9" fill="#ddd" stroke="none"/><circle cx="725.6" cy="484.3" r="1.0" fill="#ddd" stroke="none"/><circle cx="723.7" cy="481.5" r="0.9" fill="#ddd" stroke="none"/><circle cx="724.2" cy="480.5" r="1.0" fill="#ddd" stroke="none"/><circle cx="658.9" cy="638.7" r="5.2" fill="url(#halo)" stroke="none"/><circle cx="659.2" cy="639.9" r="1.3" fill="#ddd" stroke="none"/><circle cx="660.9" cy="638.6" r="0.9" fill="#ddd" stroke="none"/><circle cx="659.4" cy="636.8" r="1.0" fill="#ddd" stroke="none"/><circle cx="659.1" cy="639.6" r="1.2" fill="#ddd" stroke="none"/><circle cx="656.9" cy="639.2" r="0.9" fill="#ddd" stroke="none"/><circle cx="658.3" cy="639.0" r="1.2" fill="#ddd" stroke="none"/><circle cx="658.5" cy="638.2" r="1.1" fill="#ddd" stroke="none"/><circle cx="658.3" cy="638.9" r="1.1" fill="#ddd" stroke="none"/><circle cx="657.2" cy="637.4" r="1.0" fill="#ddd" stroke="none"/><circle cx="647.3" cy="956.0" r="2.1" fill="#ddd" stroke="none"/>
<g fill="none" stroke="#f0f0f0" stroke-linecap="round" stroke-linejoin="round"><path d="M667.9,491.5 C668.3,495.7 669.2,507.5 670.4,517.2 C671.7,526.8 673.9,539.7 675.6,549.3 C677.3,559.0 679.2,566.5 680.7,575.1 C682.2,583.6 683.3,592.2 684.6,600.8 C685.9,609.4 687.2,617.9 688.5,626.5 C689.7,635.1 690.8,643.7 692.3,652.2 C693.8,660.8 695.7,669.4 697.5,678.0 C699.2,686.5 701.1,695.1 702.6,703.7 C704.1,712.3 705.6,721.7 706.5,729.4 C707.3,737.1 707.5,746.6 707.8,750.0" stroke-width="2.06"/><path d="M660.2,494.0 C659.3,495.3 656.1,497.9 655.0,501.7 C653.9,505.6 653.5,512.0 653.7,517.2 C653.9,522.3 654.8,527.7 656.3,532.6 C657.8,537.5 662.3,541.8 662.7,546.8 C663.2,551.7 660.4,556.8 658.9,562.2 C657.4,567.6 655.4,573.6 653.7,578.9 C652.0,584.3 650.1,589.6 648.6,594.4 C647.1,599.1 645.4,605.1 644.7,607.2" stroke-width="2.06"/><path d="M674.3,491.5 C676.2,491.7 682.0,493.2 685.9,492.7 C689.7,492.3 694.5,491.2 697.5,488.9 C700.5,486.5 702.8,481.8 703.9,478.6 C705.0,475.4 703.9,471.1 703.9,469.6" stroke-width="2.06"/><path d="M696.2,500.5 C698.7,499.8 706.7,497.7 711.6,496.6 C716.5,495.5 721.9,495.3 725.8,494.0 C729.6,492.7 732.6,491.5 734.8,488.9 C736.9,486.3 738.4,481.8 738.6,478.6 C738.8,475.4 736.5,471.1 736.1,469.6" stroke-width="1.93"/><path d="M694.9,496.6 C694.0,498.3 691.7,503.0 689.7,506.9 C687.8,510.7 685.0,515.9 683.3,519.8 C681.6,523.6 680.1,528.3 679.5,530.0" stroke-width="1.67"/><path d="M712.9,500.5 C711.8,501.5 708.0,504.1 706.5,506.9 C705.0,509.7 704.8,513.3 703.9,517.2 C703.0,521.0 702.6,526.2 701.3,530.0 C700.0,533.9 698.1,537.1 696.2,540.3 C694.2,543.6 692.1,547.2 689.7,549.3 C687.4,551.5 683.3,552.6 682.0,553.2" stroke-width="2.06"/><path d="M730.9,518.5 C729.6,518.3 725.3,517.0 723.2,517.2 C721.0,517.4 718.9,518.0 718.0,519.8 C717.2,521.5 717.2,524.5 718.0,527.5 C718.9,530.5 722.1,534.8 723.2,537.8 C724.3,540.8 725.3,542.9 724.5,545.5 C723.6,548.1 720.8,551.3 718.0,553.2 C715.3,555.1 711.2,556.6 707.8,557.1 C704.3,557.5 700.2,556.2 697.5,555.8 C694.7,555.3 692.1,554.7 691.0,554.5" stroke-width="2.32"/><path d="M635.7,560.9 C637.6,561.3 643.2,563.3 647.3,563.5 C651.4,563.7 656.1,563.1 660.2,562.2 C664.2,561.3 668.1,558.8 671.7,558.3 C675.4,557.9 678.2,559.0 682.0,559.6 C685.9,560.3 690.0,561.6 694.9,562.2 C699.8,562.8 706.0,563.5 711.6,563.5 C717.2,563.5 724.0,562.2 728.3,562.2 C732.6,562.2 734.8,562.4 737.3,563.5 C739.9,564.6 742.7,567.8 743.8,568.6" stroke-width="2.06"/><path d="M725.8,553.2 C727.0,553.2 731.8,554.1 733.5,553.2 C735.2,552.3 736.3,549.8 736.1,548.1 C735.8,546.3 732.8,543.8 732.2,542.9" stroke-width="1.80"/><path d="M670.4,563.5 C670.0,565.4 667.9,571.8 667.9,575.1 C667.9,578.3 671.1,580.0 670.4,582.8 C669.8,585.6 667.0,588.8 664.0,591.8 C661.0,594.8 654.4,599.3 652.4,600.8" stroke-width="2.06"/><path d="M635.7,605.9 C637.6,606.6 642.6,608.5 647.3,609.8 C652.0,611.1 658.7,613.2 664.0,613.7 C669.4,614.1 675.0,612.8 679.5,612.4 C684.0,611.9 689.1,611.3 691.0,611.1" stroke-width="2.32"/><path d="M702.6,582.8 C704.1,582.1 709.0,579.1 711.6,578.9 C714.2,578.7 716.5,578.9 718.0,581.5 C719.5,584.1 720.2,589.4 720.6,594.4 C721.0,599.3 720.0,605.7 720.6,611.1 C721.3,616.4 724.0,621.6 724.5,626.5 C724.9,631.5 724.3,636.4 723.2,640.7 C722.1,645.0 720.0,648.8 718.0,652.2 C716.1,655.7 714.0,660.2 711.6,661.3 C709.3,662.3 706.3,660.4 703.9,658.7 C701.5,657.0 699.0,654.4 697.5,651.0 C696.0,647.5 695.3,643.2 694.9,638.1 C694.5,633.0 694.5,626.3 694.9,620.1 C695.3,613.9 696.6,606.2 697.5,600.8 C698.3,595.4 699.2,590.9 700.0,587.9 C700.9,584.9 702.2,583.6 702.6,582.8" stroke-width="2.06"/><path d="M743.8,585.4 C741.6,585.4 734.3,584.5 730.9,585.4 C727.5,586.2 724.9,588.4 723.2,590.5 C721.5,592.6 721.0,596.9 720.6,598.2" stroke-width="1.93"/><path d="M701.3,607.2 C702.8,606.4 707.3,603.8 710.3,602.1 C713.3,600.4 717.8,597.8 719.3,596.9" stroke-width="1.67"/><path d="M700.0,626.5 C701.3,626.1 705.0,624.2 707.8,623.9 C710.5,623.7 715.3,625.0 716.8,625.2" stroke-width="1.54"/><path d="M703.9,642.0 C705.0,641.5 708.0,640.2 710.3,639.4 C712.7,638.5 716.8,637.2 718.0,636.8" stroke-width="1.54"/><path d="M675.6,621.4 C676.2,621.6 676.7,622.6 679.5,622.7 C682.2,622.8 690.2,622.1 692.3,622.0" stroke-width="1.67"/><path d="M684.6,617.5 C685.2,620.1 687.4,627.8 688.5,633.0 C689.5,638.1 690.6,645.8 691.0,648.4" stroke-width="1.67"/><path d="M648.6,661.3 C650.5,659.7 656.7,655.7 660.2,652.2 C663.6,648.8 666.4,643.9 669.2,640.7 C671.9,637.5 674.3,634.7 676.9,633.0 C679.5,631.2 683.3,630.8 684.6,630.4" stroke-width="2.06"/><path d="M635.7,658.7 C636.8,660.0 640.0,663.6 642.1,666.4 C644.3,669.2 646.0,671.3 648.6,675.4 C651.2,679.5 654.6,685.5 657.6,690.8 C660.6,696.2 663.8,702.2 666.6,707.6 C669.4,712.9 671.7,717.6 674.3,723.0 C676.9,728.4 680.1,735.2 682.0,739.7 C684.0,744.2 685.2,748.3 685.9,750.0" stroke-width="2.32"/><path d="M635.7,674.1 C637.6,673.9 643.0,673.5 647.3,672.8 C651.6,672.2 659.1,670.7 661.4,670.3" stroke-width="2.57"/><path d="M669.2,672.8 C670.9,673.5 676.0,675.0 679.5,676.7 C682.9,678.4 688.0,682.0 689.7,683.1" stroke-width="1.80"/><path d="M635.7,685.7 C637.2,685.9 642.1,685.9 644.7,687.0 C647.3,688.0 650.3,690.0 651.2,692.1 C652.0,694.3 651.2,697.7 649.9,699.8 C648.6,702.0 645.8,704.3 643.4,705.0 C641.1,705.6 637.0,703.9 635.7,703.7" stroke-width="1.67"/><path d="M635.7,712.7 C638.7,712.3 647.5,710.8 653.7,710.1 C659.9,709.5 666.6,709.3 673.0,708.8 C679.5,708.4 687.0,707.9 692.3,707.6 C697.7,707.2 703.0,707.0 705.2,706.9" stroke-width="1.41"/><path d="M710.3,699.8 C712.0,700.9 717.2,704.8 720.6,706.3 C724.0,707.8 727.0,708.4 730.9,708.8 C734.8,709.3 741.6,708.8 743.8,708.8" stroke-width="1.80"/><path d="M674.3,684.4 C675.2,686.5 677.7,693.0 679.5,697.3 C681.2,701.6 682.9,705.8 684.6,710.1 C686.3,714.4 688.5,719.1 689.7,723.0 C691.0,726.9 691.9,731.6 692.3,733.3" stroke-width="1.54"/><path d="M646.0,733.3 C648.4,733.9 655.7,736.5 660.2,737.1 C664.7,737.8 669.2,737.8 673.0,737.1 C676.9,736.5 679.7,735.0 683.3,733.3 C687.0,731.6 690.8,728.4 694.9,726.9 C699.0,725.4 703.5,724.6 707.8,724.3 C712.0,724.0 718.5,724.8 720.6,724.9" stroke-width="1.80"/><path d="M635.7,739.7 C636.8,738.6 640.4,735.2 642.1,733.3 C643.9,731.4 645.4,729.0 646.0,728.1" stroke-width="1.67"/><path d="M647.3,729.4 C650.5,728.4 660.2,724.5 666.6,723.0 C673.0,721.5 682.7,720.9 685.9,720.4" stroke-width="1.29"/><path d="M720.6,716.6 C722.3,717.6 727.7,720.6 730.9,723.0 C734.1,725.4 738.4,729.4 739.9,730.7" stroke-width="1.29"/><path d="M743.8,720.4 C743.3,723.0 742.1,730.9 741.2,735.9 C740.3,740.8 739.1,747.6 738.6,750.0" stroke-width="1.67"/><path d="M730.9,600.8 C732.0,600.6 735.2,599.1 737.3,599.5 C739.5,599.9 742.7,602.7 743.8,603.4" stroke-width="2.32"/><path d="M715.5,670.3 C717.0,670.5 721.3,671.5 724.5,671.5 C727.7,671.5 733.1,670.5 734.8,670.3" stroke-width="1.80"/><path d="M638.3,512.0 C639.4,511.4 643.7,508.8 644.7,508.2" stroke-width="1.54"/><path d="M635.7,519.8 C637.2,521.5 641.7,526.8 644.7,530.0 C647.7,533.3 652.2,537.5 653.7,539.0" stroke-width="1.16"/><path d="M674.3,505.6 C675.2,505.4 678.6,504.5 679.5,504.3" stroke-width="1.80"/><path d="M693.6,521.0 C694.2,521.3 696.8,522.1 697.5,522.3" stroke-width="1.29"/><path d="M694.9,510.7 C695.7,511.2 699.2,512.9 700.0,513.3" stroke-width="1.29"/><path d="M733.5,503.0 C734.6,502.8 738.2,501.5 739.9,501.7 C741.6,502.0 743.1,503.9 743.8,504.3" stroke-width="1.54"/><path d="M710.3,478.6 C712.0,481.2 717.2,488.9 720.6,494.0 C724.0,499.2 728.1,505.6 730.9,509.5 C733.7,513.3 736.3,515.9 737.3,517.2" stroke-width="0.90"/><path d="M676.9,537.8 C678.6,537.3 683.7,536.0 687.2,535.2 C690.6,534.3 695.7,533.0 697.5,532.6" stroke-width="1.54"/><path d="M666.6,540.3 C668.1,540.1 674.1,539.3 675.6,539.0" stroke-width="1.29"/><path d="M698.7,542.9 C700.2,543.3 705.0,544.4 707.8,545.5 C710.5,546.6 714.2,548.7 715.5,549.3" stroke-width="1.29"/><path d="M651.2,644.5 C652.2,644.7 656.5,645.6 657.6,645.8" stroke-width="1.54"/><path d="M643.4,640.7 C644.1,642.4 646.7,649.2 647.3,651.0" stroke-width="1.54"/><path d="M635.7,575.1 C636.6,574.9 640.0,574.0 640.9,573.8" stroke-width="1.29"/><path d="M635.7,584.1 C636.8,583.6 641.1,581.9 642.1,581.5" stroke-width="1.29"/><path d="M721.9,578.9 C723.4,578.1 729.4,574.6 730.9,573.8" stroke-width="1.16"/><path d="M705.2,684.4 C707.3,685.5 714.2,688.7 718.0,690.8 C721.9,693.0 726.6,696.2 728.3,697.3" stroke-width="1.16"/><path d="M710.3,676.7 C712.0,676.9 717.2,676.7 720.6,678.0 C724.0,679.3 729.2,683.3 730.9,684.4" stroke-width="1.03"/><path d="M653.7,720.4 C654.8,721.5 659.1,725.8 660.2,726.9" stroke-width="1.54"/><path d="M710.3,714.0 C711.2,714.2 714.6,715.1 715.5,715.3" stroke-width="1.29"/><path d="M718.0,739.7 C719.3,740.8 724.5,745.1 725.8,746.1" stroke-width="1.29"/><path d="M635.7,726.9 C637.6,725.6 645.4,720.4 647.3,719.1" stroke-width="1.16"/><path d="M644.7,715.3 C645.6,715.7 648.8,718.1 649.9,717.8 C650.9,717.6 650.9,714.6 651.2,714.0" stroke-width="1.03"/><path d="M684.6,692.1 C687.2,690.6 696.2,685.9 700.0,683.1 C703.9,680.3 706.9,677.5 707.8,675.4 C708.6,673.3 707.3,671.3 705.2,670.3 C703.0,669.2 698.1,668.3 694.9,669.0 C691.7,669.6 687.6,672.0 685.9,674.1 C684.2,676.3 684.8,680.5 684.6,681.8" stroke-width="0.77"/><path d="M729.6,768.2 C728.8,771.8 726.4,782.1 724.5,790.0 C722.5,798.0 720.2,807.2 718.0,815.7 C715.9,824.3 713.8,832.9 711.6,841.5 C709.5,850.1 707.3,859.1 705.2,867.2 C703.0,875.3 700.5,885.0 698.7,890.4 C697.0,895.7 695.5,897.9 694.9,899.4" stroke-width="1.80"/><path d="M635.7,759.1 C639.8,760.0 651.8,762.4 660.2,764.3 C668.5,766.2 677.3,768.4 685.9,770.7 C694.5,773.1 702.0,775.4 711.6,778.4 C721.3,781.4 738.4,787.0 743.8,788.7" stroke-width="0.90"/><path d="M635.7,754.0 C637.6,753.8 643.7,753.6 647.3,752.7 C650.9,751.9 654.4,750.1 657.6,748.9 C660.8,747.6 665.1,745.6 666.6,745.0" stroke-width="1.67"/><path d="M643.4,757.9 C643.9,760.0 644.3,767.1 646.0,770.7 C647.7,774.4 650.3,776.9 653.7,779.7 C657.2,782.5 662.7,784.2 666.6,787.4 C670.4,790.7 674.7,796.0 676.9,799.0 C679.0,802.0 679.0,804.4 679.5,805.5" stroke-width="1.54"/><path d="M635.7,811.9 C637.2,810.8 641.7,806.5 644.7,805.5 C647.7,804.4 650.9,804.8 653.7,805.5 C656.5,806.1 658.4,808.7 661.4,809.3 C664.4,810.0 668.7,810.2 671.7,809.3 C674.7,808.5 678.0,806.7 679.5,804.2 C681.0,801.6 679.9,797.7 680.7,793.9 C681.6,790.0 682.2,784.9 684.6,781.0 C687.0,777.2 691.0,773.1 694.9,770.7 C698.7,768.4 702.6,767.5 707.8,766.9 C712.9,766.2 720.8,767.5 725.8,766.9 C730.7,766.2 734.3,764.3 737.3,763.0 C740.3,761.7 742.7,759.8 743.8,759.1" stroke-width="1.80"/><path d="M674.3,756.6 C675.6,755.9 679.2,752.9 682.0,752.7 C684.8,752.5 688.9,753.1 691.0,755.3 C693.2,757.4 694.2,763.9 694.9,765.6" stroke-width="1.54"/><path d="M666.6,768.2 C666.6,769.9 665.5,775.9 666.6,778.4 C667.7,781.0 670.0,781.7 673.0,783.6 C676.0,785.5 680.1,788.3 684.6,790.0 C689.1,791.7 696.6,792.4 700.0,793.9 C703.5,795.4 703.5,796.5 705.2,799.0 C706.9,801.6 709.5,807.6 710.3,809.3" stroke-width="1.54"/><path d="M725.8,745.0 C726.2,746.7 727.5,752.7 728.3,755.3 C729.2,757.9 729.8,760.9 730.9,760.4 C732.0,760.0 733.7,755.3 734.8,752.7 C735.8,750.1 736.9,746.3 737.3,745.0" stroke-width="1.67"/><path d="M635.7,827.3 C637.6,826.5 642.1,823.9 647.3,822.2 C652.4,820.5 660.8,818.3 666.6,817.0 C672.4,815.7 677.7,814.5 682.0,814.5 C686.3,814.5 689.3,815.3 692.3,817.0 C695.3,818.8 698.3,822.0 700.0,824.8 C701.8,827.5 702.2,832.3 702.6,833.8" stroke-width="1.54"/><path d="M657.6,859.5 C659.7,857.6 666.2,852.0 670.4,847.9 C674.7,843.8 679.9,838.7 683.3,835.0 C686.7,831.4 689.7,827.5 691.0,826.0" stroke-width="1.80"/><path d="M666.6,856.9 C668.3,856.1 673.7,852.8 676.9,851.8 C680.1,850.7 683.7,849.8 685.9,850.5 C688.0,851.1 689.5,853.9 689.7,855.6 C690.0,857.3 688.5,859.7 687.2,860.8 C685.9,861.8 682.5,860.8 682.0,862.1 C681.6,863.3 684.2,867.4 684.6,868.5" stroke-width="1.54"/><path d="M639.6,860.8 C639.8,862.5 639.1,868.1 640.9,871.1 C642.6,874.1 646.9,877.1 649.9,878.8 C652.9,880.5 657.4,880.9 658.9,881.4" stroke-width="1.54"/><path d="M715.5,833.8 C717.2,834.0 722.8,833.5 725.8,835.0 C728.8,836.5 732.2,839.5 733.5,842.8 C734.8,846.0 734.3,850.9 733.5,854.3 C732.6,857.8 730.0,860.6 728.3,863.3 C726.6,866.1 724.0,869.8 723.2,871.1" stroke-width="1.80"/><path d="M718.0,837.6 C718.7,840.4 720.6,849.4 721.9,854.3 C723.2,859.3 724.7,861.8 725.8,867.2 C726.8,872.6 727.7,879.0 728.3,886.5 C729.0,894.0 729.2,904.7 729.6,912.2 C730.0,919.7 730.7,928.3 730.9,931.5" stroke-width="2.57"/><path d="M635.7,820.9 C636.6,823.3 638.9,829.9 640.9,835.0 C642.8,840.2 644.7,846.2 647.3,851.8 C649.9,857.3 653.3,863.3 656.3,868.5 C659.3,873.6 663.8,880.3 665.3,882.6" stroke-width="1.54"/><path d="M671.7,907.1 C671.9,910.1 673.2,919.9 673.0,925.1 C672.8,930.2 671.7,934.1 670.4,938.0 C669.2,941.8 667.4,945.2 665.3,948.2 C663.2,951.2 660.2,954.0 657.6,956.0 C655.0,957.9 652.0,959.6 649.9,959.8 C647.7,960.0 645.6,957.7 644.7,957.2" stroke-width="2.83"/><path d="M679.5,905.8 C681.0,907.3 685.7,911.6 688.5,914.8 C691.2,918.0 693.6,921.2 696.2,925.1 C698.7,928.9 701.3,933.7 703.9,938.0 C706.5,942.2 709.3,946.5 711.6,950.8 C714.0,955.1 716.1,959.4 718.0,963.7 C720.0,968.0 721.7,972.3 723.2,976.5 C724.7,980.8 725.8,985.1 727.0,989.4 C728.3,993.7 730.3,1000.1 730.9,1002.3" stroke-width="1.54"/><path d="M684.6,912.2 C684.8,915.4 685.9,925.1 685.9,931.5 C685.9,938.0 684.8,947.6 684.6,950.8" stroke-width="1.41"/><path d="M692.3,930.2 C693.6,931.5 696.8,936.2 700.0,938.0 C703.3,939.7 707.8,941.2 711.6,940.5 C715.5,939.9 721.3,935.2 723.2,934.1" stroke-width="1.41"/><path d="M635.7,922.5 C637.2,921.7 641.3,919.1 644.7,917.4 C648.2,915.7 652.4,913.7 656.3,912.2 C660.2,910.7 665.9,909.0 667.9,908.4" stroke-width="2.57"/><path d="M635.7,943.1 C637.6,942.7 644.3,939.9 647.3,940.5 C650.3,941.2 652.7,945.9 653.7,947.0" stroke-width="1.54"/><path d="M736.1,899.4 C735.6,901.1 733.1,906.6 733.5,909.7 C733.9,912.7 736.9,916.1 738.6,917.4 C740.3,918.7 742.9,917.4 743.8,917.4" stroke-width="1.54"/><path d="M705.2,896.8 C706.3,896.1 709.0,894.0 711.6,892.9 C714.2,891.9 719.1,890.8 720.6,890.4" stroke-width="1.41"/><path d="M705.2,904.5 C706.9,904.1 713.8,902.4 715.5,901.9" stroke-width="1.41"/><path d="M707.8,912.2 C709.5,912.2 716.3,912.2 718.0,912.2" stroke-width="1.41"/><path d="M684.6,983.0 C684.8,981.5 684.6,976.3 685.9,974.0 C687.2,971.6 690.4,968.6 692.3,968.8 C694.2,969.0 697.0,972.9 697.5,975.3 C697.9,977.6 696.4,981.0 694.9,983.0 C693.4,984.9 689.5,986.2 688.5,986.8" stroke-width="1.54"/><path d="M679.5,963.7 C679.5,966.9 679.9,976.5 679.5,983.0 C679.0,989.4 677.7,994.8 676.9,1002.3 C676.0,1009.8 675.2,1019.8 674.3,1028.0 C673.5,1036.1 672.2,1047.3 671.7,1051.1" stroke-width="1.16"/><path d="M648.6,992.0 C649.4,990.7 650.7,986.8 653.7,984.3 C656.7,981.7 662.5,978.5 666.6,976.5 C670.7,974.6 676.2,973.3 678.2,972.7" stroke-width="1.41"/><path d="M648.6,992.0 C649.0,993.3 649.2,997.8 651.2,999.7 C653.1,1001.6 656.7,1003.1 660.2,1003.6 C663.6,1004.0 669.8,1002.5 671.7,1002.3" stroke-width="1.41"/><path d="M688.5,1004.8 C690.4,1005.9 695.5,1010.2 700.0,1011.3 C704.5,1012.3 710.8,1011.9 715.5,1011.3 C720.2,1010.6 724.7,1007.2 728.3,1007.4 C732.0,1007.6 735.8,1011.7 737.3,1012.6" stroke-width="1.54"/><path d="M635.7,1028.0 C638.7,1027.1 647.9,1024.3 653.7,1022.8 C659.5,1021.3 667.7,1019.6 670.4,1019.0" stroke-width="1.41"/><path d="M679.5,1034.4 C681.6,1035.5 688.0,1040.0 692.3,1040.9 C696.6,1041.7 701.3,1040.9 705.2,1039.6 C709.0,1038.3 712.5,1035.5 715.5,1033.1 C718.5,1030.8 721.9,1026.7 723.2,1025.4" stroke-width="1.41"/><path d="M707.8,1015.1 C709.0,1016.8 712.5,1022.2 715.5,1025.4 C718.5,1028.6 722.3,1031.2 725.8,1034.4 C729.2,1037.6 734.3,1043.0 736.1,1044.7" stroke-width="1.41"/><path d="M640.9,1046.0 C643.0,1045.1 649.4,1041.1 653.7,1040.9 C658.0,1040.6 662.3,1043.2 666.6,1044.7 C670.9,1046.2 677.3,1049.0 679.5,1049.9" stroke-width="1.41"/><path d="M700.0,971.4 C701.8,971.8 707.3,974.0 710.3,974.0 C713.3,974.0 716.8,971.8 718.0,971.4" stroke-width="1.29"/><path d="M705.2,989.4 C706.0,989.8 709.0,992.4 710.3,992.0 C711.6,991.5 712.5,987.7 712.9,986.8" stroke-width="1.29"/><path d="M724.5,958.5 C726.2,957.7 731.6,954.7 734.8,953.4 C738.0,952.1 742.3,951.2 743.8,950.8" stroke-width="1.41"/><path d="M733.5,963.7 C733.7,965.8 733.5,973.3 734.8,976.5 C736.1,979.8 740.1,981.9 741.2,983.0" stroke-width="1.41"/><path d="M692.3,1051.1 C693.4,1050.1 695.7,1045.6 698.7,1044.7 C701.8,1043.9 708.4,1045.8 710.3,1046.0" stroke-width="1.29"/><path d="M728.3,1034.4 C729.8,1033.4 734.8,1028.6 737.3,1028.0 C739.9,1027.4 742.7,1030.1 743.8,1030.6" stroke-width="1.29"/><path d="M635.7,890.4 C637.0,891.4 640.4,895.3 643.4,896.8 C646.4,898.3 650.3,899.8 653.7,899.4 C657.2,898.9 662.3,895.1 664.0,894.2" stroke-width="1.41"/><path d="M635.7,909.7 C636.6,910.1 639.8,910.7 640.9,912.2 C641.9,913.7 643.0,917.2 642.1,918.7 C641.3,920.2 636.8,920.8 635.7,921.2" stroke-width="1.41"/><path d="M741.2,858.2 C740.8,859.7 738.4,864.2 738.6,867.2 C738.8,870.2 741.8,874.7 742.5,876.2" stroke-width="1.41"/><path d="M741.2,835.0 C741.6,836.1 743.3,840.4 743.8,841.5" stroke-width="1.41"/><path d="M700.0,817.0 C699.6,818.3 697.0,822.2 697.5,824.8 C697.9,827.3 701.8,831.2 702.6,832.5" stroke-width="1.41"/><path d="M705.2,750.1 C705.6,751.9 707.3,758.7 707.8,760.4" stroke-width="1.54"/><path d="M707.8,770.7 C708.4,773.5 710.8,783.6 711.6,787.4 C712.5,791.3 712.7,792.8 712.9,793.9" stroke-width="1.16"/><path d="M725.8,793.9 C727.5,793.0 734.3,789.6 736.1,788.7" stroke-width="1.29"/><path d="M644.7,842.8 C646.0,844.9 651.2,853.5 652.4,855.6" stroke-width="1.16"/><path d="M664.0,827.3 C664.4,829.0 666.2,835.9 666.6,837.6" stroke-width="1.16"/><path d="M700.0,873.6 C703.0,873.4 715.0,872.6 718.0,872.3" stroke-width="1.03"/><path d="M707.8,881.4 C709.0,882.0 714.2,884.6 715.5,885.2" stroke-width="1.03"/><path d="M738.6,881.4 C739.5,880.9 742.9,879.2 743.8,878.8" stroke-width="1.29"/><path d="M738.6,927.7 C739.5,928.5 742.9,931.9 743.8,932.8" stroke-width="1.29"/><path d="M661.4,918.7 C661.9,917.6 663.6,913.3 664.0,912.2" stroke-width="1.29"/><path d="M733.5,1015.1 C734.3,1016.8 737.8,1023.7 738.6,1025.4" stroke-width="1.29"/><path d="M720.6,1012.6 C721.5,1013.8 724.9,1019.0 725.8,1020.3" stroke-width="1.16"/><path d="M635.7,1013.8 C637.0,1013.2 642.1,1010.6 643.4,1010.0" stroke-width="1.16"/><path d="M660.2,1033.1 C661.9,1033.8 668.7,1036.4 670.4,1037.0" stroke-width="1.16"/><path d="M685.9,1021.6 C687.4,1022.2 693.4,1024.8 694.9,1025.4" stroke-width="1.16"/><path d="M638.5,1032.8 C638.3,1033.5 638.1,1035.6 637.4,1036.7 C636.7,1037.7 635.4,1038.7 634.3,1039.1 C633.1,1039.6 631.5,1039.6 630.3,1039.3 C629.1,1039.0 627.5,1037.5 627.0,1037.1" stroke-width="0.88"/><path d="M691.8,719.1 C691.2,719.1 689.5,719.6 688.4,719.4 C687.4,719.3 686.2,718.9 685.3,718.3 C684.4,717.7 683.5,716.8 683.0,715.8 C682.4,714.9 682.1,713.1 681.9,712.6" stroke-width="0.88"/><path d="M694.8,877.3 C694.6,877.2 694.0,876.9 693.6,876.7 C693.2,876.6 692.7,876.4 692.3,876.3 C691.8,876.2 691.4,876.2 690.9,876.2 C690.5,876.1 689.8,876.2 689.6,876.2" stroke-width="1.05"/><path d="M736.7,952.3 C736.7,952.0 736.7,951.0 736.9,950.5 C737.2,950.0 737.7,949.5 738.2,949.2 C738.7,948.9 739.4,948.7 740.0,948.8 C740.6,948.9 741.4,949.4 741.7,949.5" stroke-width="0.86"/><path d="M672.2,586.3 C671.8,585.9 670.5,584.7 669.9,583.8 C669.3,582.9 668.8,581.8 668.4,580.8 C668.1,579.7 667.9,578.5 667.9,577.4 C667.9,576.3 668.2,574.6 668.3,574.0" stroke-width="1.28"/><path d="M712.3,859.2 C711.9,859.7 710.8,861.6 709.8,862.2 C708.7,862.8 707.2,863.1 706.0,862.9 C704.8,862.7 703.4,862.0 702.6,861.1 C701.8,860.2 701.4,858.1 701.1,857.5" stroke-width="1.21"/><path d="M744.7,986.0 C745.2,985.8 746.7,985.0 747.8,984.9 C748.8,984.8 750.0,984.9 751.0,985.2 C752.0,985.5 753.0,986.2 753.8,986.9 C754.6,987.6 755.3,989.1 755.7,989.6" stroke-width="1.18"/><path d="M649.0,960.5 C648.6,960.7 647.2,961.5 646.3,961.6 C645.4,961.7 644.3,961.4 643.4,961.0 C642.6,960.6 641.8,959.8 641.3,959.0 C640.8,958.2 640.7,956.7 640.5,956.2" stroke-width="1.05"/><path d="M664.7,804.3 C665.3,804.3 667.2,803.7 668.3,804.0 C669.3,804.3 670.5,805.1 671.2,806.0 C671.8,806.9 672.2,808.3 672.1,809.4 C672.0,810.5 670.9,812.1 670.7,812.6" stroke-width="1.34"/><path d="M723.5,766.7 C724.1,767.0 725.7,768.3 726.9,768.5 C728.0,768.7 729.6,768.5 730.6,767.9 C731.7,767.4 732.8,766.3 733.3,765.2 C733.8,764.2 733.7,762.1 733.8,761.5" stroke-width="1.36"/><path d="M705.3,629.8 C705.8,630.0 707.2,631.0 708.2,631.2 C709.2,631.3 710.4,631.1 711.3,630.7 C712.2,630.2 713.1,629.4 713.6,628.5 C714.1,627.7 714.1,626.0 714.3,625.5" stroke-width="1.00"/><path d="M646.7,574.2 C647.0,574.6 647.8,576.0 648.5,576.5 C649.3,577.0 650.5,577.3 651.4,577.3 C652.3,577.2 653.4,576.7 654.1,576.1 C654.8,575.5 655.3,573.9 655.5,573.5" stroke-width="1.30"/><path d="M704.3,642.1 C704.2,641.9 703.9,641.4 703.7,641.1 C703.4,640.8 703.1,640.5 702.7,640.4 C702.4,640.2 702.0,640.0 701.6,640.0 C701.2,639.9 700.6,640.0 700.4,640.0" stroke-width="1.05"/><path d="M729.0,871.4 C729.6,871.2 731.6,871.0 732.7,870.5 C733.9,869.9 734.9,868.9 735.7,867.9 C736.4,866.9 736.9,865.5 737.0,864.3 C737.2,863.1 736.7,861.1 736.6,860.4" stroke-width="0.83"/><path d="M698.6,538.7 C698.3,538.9 697.7,539.3 697.2,539.7 C696.8,540.0 696.4,540.4 696.0,540.7 C695.6,541.1 695.2,541.5 694.8,541.9 C694.4,542.3 693.9,542.9 693.7,543.1" stroke-width="0.94"/><path d="M681.3,687.0 C680.8,687.1 679.4,687.4 678.4,687.7 C677.5,688.0 676.5,688.3 675.6,688.7 C674.7,689.1 673.8,689.6 673.0,690.0 C672.1,690.5 670.9,691.4 670.5,691.7" stroke-width="1.07"/><path d="M667.6,718.5 C668.0,718.7 669.0,719.3 669.7,719.7 C670.4,720.1 671.1,720.4 671.8,720.8 C672.5,721.2 673.2,721.6 673.9,722.0 C674.6,722.4 675.6,722.9 675.9,723.1" stroke-width="0.81"/><path d="M669.9,806.0 C669.5,806.2 668.1,806.7 667.3,807.2 C666.5,807.7 665.8,808.5 665.2,809.2 C664.6,810.0 664.2,810.9 663.9,811.8 C663.7,812.7 663.6,814.2 663.6,814.7" stroke-width="1.27"/><path d="M651.4,1005.7 C651.3,1005.9 650.9,1006.8 650.8,1007.4 C650.6,1007.9 650.6,1008.6 650.6,1009.2 C650.6,1009.8 650.7,1010.4 650.8,1011.0 C650.9,1011.5 651.3,1012.4 651.4,1012.7" stroke-width="1.36"/><path d="M711.3,1019.0 C711.7,1019.1 712.9,1019.4 713.6,1019.8 C714.2,1020.3 714.8,1020.9 715.2,1021.6 C715.7,1022.2 716.0,1023.0 716.1,1023.8 C716.2,1024.6 715.9,1025.8 715.9,1026.2" stroke-width="0.73"/><path d="M724.4,640.8 C724.1,641.2 723.4,642.5 722.9,643.4 C722.3,644.2 721.8,645.1 721.3,646.0 C720.7,646.8 720.2,647.6 719.7,648.5 C719.1,649.3 718.3,650.6 718.0,651.0" stroke-width="1.09"/><path d="M670.2,716.1 C670.3,716.0 670.6,715.5 670.7,715.1 C670.7,714.8 670.6,714.4 670.4,714.1 C670.2,713.8 669.8,713.6 669.5,713.5 C669.2,713.4 668.6,713.5 668.4,713.5" stroke-width="1.15"/><path d="M644.1,641.0 C644.1,641.2 644.1,641.7 644.1,642.0 C644.1,642.4 644.2,642.8 644.3,643.1 C644.4,643.5 644.5,643.8 644.6,644.1 C644.8,644.5 645.0,644.9 645.1,645.1" stroke-width="1.38"/><path d="M729.6,523.1 C730.2,523.3 732.1,523.9 733.0,524.6 C733.9,525.4 734.7,526.5 735.2,527.6 C735.6,528.7 735.8,530.1 735.7,531.3 C735.5,532.5 734.6,534.2 734.3,534.7" stroke-width="0.82"/><path d="M669.9,588.2 C669.7,587.8 669.3,586.2 668.7,585.3 C668.2,584.4 667.5,583.6 666.7,582.9 C665.9,582.2 665.0,581.7 664.0,581.3 C663.1,580.9 661.5,580.6 660.9,580.5" stroke-width="1.37"/><path d="M715.0,892.8 C714.5,893.0 712.8,893.8 711.7,894.2 C710.6,894.6 709.5,895.0 708.4,895.4 C707.2,895.8 706.1,896.1 704.9,896.4 C703.8,896.6 702.0,897.0 701.4,897.1" stroke-width="1.25"/><path d="M735.6,539.0 C735.7,539.2 736.4,539.8 736.6,540.3 C736.8,540.8 736.9,541.5 736.8,542.0 C736.7,542.5 736.4,543.1 736.0,543.5 C735.6,543.9 734.7,544.1 734.4,544.3" stroke-width="0.93"/><path d="M676.5,805.7 C676.2,805.4 675.2,804.7 674.8,804.1 C674.4,803.4 674.0,802.6 673.9,801.9 C673.8,801.1 673.9,800.3 674.1,799.5 C674.3,798.8 675.1,797.8 675.2,797.5" stroke-width="1.02"/><path d="M719.2,574.7 C719.2,574.3 719.2,573.1 719.2,572.3 C719.2,571.5 719.2,570.7 719.3,569.9 C719.3,569.1 719.3,568.3 719.3,567.5 C719.4,566.7 719.4,565.6 719.4,565.2" stroke-width="0.79"/><path d="M730.7,578.5 C730.5,578.2 729.9,576.9 729.3,576.4 C728.6,575.9 727.6,575.6 726.8,575.7 C726.0,575.7 725.0,576.1 724.4,576.6 C723.8,577.2 723.4,578.5 723.2,578.9" stroke-width="1.37"/><path d="M717.3,555.7 C717.7,556.2 718.6,557.9 719.2,559.0 C719.9,560.1 720.6,561.1 721.3,562.2 C722.0,563.2 722.8,564.2 723.6,565.2 C724.4,566.2 725.7,567.6 726.1,568.1" stroke-width="1.10"/><path d="M681.1,503.0 C681.4,503.0 682.4,503.1 682.9,502.9 C683.5,502.7 684.0,502.4 684.4,501.9 C684.8,501.5 685.1,500.9 685.3,500.3 C685.4,499.8 685.2,498.8 685.2,498.5" stroke-width="0.98"/><path d="M678.1,919.7 C678.6,919.6 680.1,919.5 681.0,919.2 C682.0,918.9 682.9,918.4 683.6,917.7 C684.4,917.1 685.1,916.3 685.6,915.5 C686.1,914.6 686.5,913.1 686.6,912.7" stroke-width="1.14"/><path d="M672.5,540.7 C672.6,540.5 672.7,539.9 672.8,539.6 C673.0,539.2 673.3,538.9 673.6,538.6 C673.9,538.4 674.3,538.2 674.7,538.1 C675.1,538.1 675.7,538.2 675.9,538.2" stroke-width="0.93"/><path d="M647.5,825.1 C647.0,824.6 645.5,823.2 644.4,822.6 C643.3,821.9 641.9,821.5 640.6,821.4 C639.3,821.3 637.9,821.5 636.7,821.9 C635.4,822.3 633.8,823.5 633.2,823.8" stroke-width="0.77"/><path d="M736.7,648.5 C736.7,648.1 736.2,646.7 736.4,645.8 C736.6,645.0 737.2,644.1 737.8,643.6 C738.5,643.0 739.5,642.7 740.4,642.7 C741.2,642.7 742.5,643.4 742.9,643.6" stroke-width="1.12"/><path d="M724.3,602.2 C724.5,601.9 725.1,600.8 725.7,600.3 C726.3,599.7 727.1,599.3 727.8,599.0 C728.6,598.7 729.4,598.5 730.2,598.6 C731.0,598.6 732.2,598.9 732.6,599.0" stroke-width="1.15"/><path d="M650.2,721.6 C650.0,721.5 649.3,721.1 648.8,720.9 C648.3,720.8 647.8,720.7 647.3,720.6 C646.8,720.6 646.2,720.6 645.7,720.6 C645.2,720.7 644.4,721.0 644.2,721.1" stroke-width="0.90"/><path d="M685.6,983.0 C686.1,982.9 687.5,982.6 688.5,982.6 C689.4,982.6 690.4,982.7 691.4,983.0 C692.3,983.2 693.3,983.6 694.1,984.0 C695.0,984.5 696.1,985.4 696.5,985.7" stroke-width="1.36"/><path d="M729.8,816.4 C730.1,816.4 731.2,816.4 731.8,816.2 C732.5,816.0 733.1,815.7 733.7,815.4 C734.2,815.0 734.8,814.5 735.2,814.0 C735.6,813.5 736.0,812.5 736.2,812.2" stroke-width="1.13"/><path d="M678.8,570.6 C678.6,570.3 677.9,569.4 677.5,568.8 C677.0,568.2 676.5,567.6 676.1,567.0 C675.6,566.4 675.1,565.8 674.6,565.2 C674.1,564.7 673.4,563.8 673.1,563.5" stroke-width="1.32"/><path d="M724.6,572.7 C724.1,572.9 722.6,573.3 721.7,573.8 C720.9,574.3 720.1,575.1 719.5,575.9 C719.0,576.7 718.5,577.8 718.3,578.7 C718.2,579.7 718.4,581.3 718.4,581.8" stroke-width="0.93"/><path d="M722.2,1024.1 C722.2,1023.7 722.0,1022.6 722.1,1021.8 C722.2,1021.1 722.3,1020.3 722.6,1019.6 C722.8,1018.9 723.2,1018.2 723.6,1017.6 C724.0,1016.9 724.8,1016.1 725.0,1015.8" stroke-width="1.33"/><path d="M644.9,537.9 C644.7,537.3 643.8,535.4 643.8,534.2 C643.7,533.0 644.2,531.6 644.8,530.6 C645.5,529.5 646.6,528.6 647.8,528.1 C648.9,527.6 650.9,527.8 651.6,527.7" stroke-width="0.86"/><path d="M673.7,914.5 C673.4,914.6 672.8,915.0 672.4,915.3 C672.0,915.6 671.6,915.9 671.2,916.2 C670.8,916.5 670.4,916.9 670.0,917.2 C669.6,917.5 669.1,918.0 668.9,918.1" stroke-width="1.12"/><path d="M666.5,903.1 C666.1,903.0 664.9,902.7 664.1,902.7 C663.4,902.7 662.5,902.9 661.8,903.1 C661.0,903.4 660.3,903.7 659.7,904.2 C659.0,904.7 658.3,905.6 658.0,905.9" stroke-width="1.38"/><path d="M641.6,673.6 C641.4,674.0 640.7,675.0 640.5,675.7 C640.2,676.5 640.1,677.3 640.1,678.1 C640.1,678.9 640.3,679.7 640.5,680.4 C640.8,681.2 641.5,682.1 641.7,682.5" stroke-width="1.33"/><path d="M665.3,944.4 C664.9,944.0 663.6,942.9 663.2,942.0 C662.7,941.0 662.5,939.9 662.5,938.8 C662.6,937.8 662.9,936.7 663.4,935.8 C663.9,934.9 665.3,933.9 665.7,933.5" stroke-width="1.00"/><path d="M639.1,730.2 C639.2,730.1 639.8,730.0 640.0,729.7 C640.2,729.5 640.4,729.2 640.5,728.8 C640.6,728.5 640.5,728.1 640.4,727.8 C640.3,727.5 639.9,727.1 639.7,727.0" stroke-width="0.78"/><path d="M732.0,913.8 C732.1,914.0 732.4,914.6 732.7,914.8 C733.1,915.0 733.6,915.2 733.9,915.1 C734.3,915.1 734.8,914.9 735.1,914.7 C735.4,914.4 735.6,913.8 735.7,913.6" stroke-width="1.00"/><path d="M684.5,996.5 C684.1,996.8 683.0,997.6 682.2,998.0 C681.5,998.4 680.6,998.8 679.8,999.1 C679.0,999.5 678.1,999.7 677.2,999.9 C676.4,1000.2 675.0,1000.3 674.6,1000.4" stroke-width="0.85"/><path d="M661.9,617.8 C661.6,618.2 660.8,619.5 660.4,620.3 C660.0,621.1 659.6,622.0 659.2,622.9 C658.9,623.8 658.6,624.7 658.3,625.6 C658.1,626.6 657.9,628.0 657.8,628.4" stroke-width="1.31"/><path d="M702.2,620.5 C702.3,621.2 702.2,623.2 702.7,624.2 C703.2,625.2 704.3,626.3 705.4,626.7 C706.5,627.2 707.9,627.3 709.1,627.0 C710.2,626.7 711.6,625.3 712.1,625.0" stroke-width="0.98"/><path d="M686.6,590.2 C686.5,589.6 686.4,587.7 686.0,586.4 C685.6,585.2 685.1,584.0 684.4,582.9 C683.7,581.9 682.8,580.9 681.9,580.0 C680.9,579.2 679.2,578.3 678.6,577.9" stroke-width="0.96"/><path d="M663.3,886.1 C663.6,885.9 664.8,885.5 665.4,884.9 C665.9,884.3 666.3,883.5 666.4,882.7 C666.5,882.0 666.4,881.0 666.1,880.3 C665.8,879.6 664.8,878.8 664.5,878.5" stroke-width="1.19"/><path d="M699.9,805.2 C699.9,805.0 700.0,804.2 700.2,803.8 C700.4,803.4 700.8,803.0 701.2,802.8 C701.7,802.6 702.2,802.5 702.7,802.6 C703.1,802.6 703.8,803.1 704.0,803.2" stroke-width="1.31"/><path d="M664.1,813.5 C663.5,813.2 661.8,812.6 660.7,812.0 C659.6,811.4 658.5,810.7 657.5,810.0 C656.6,809.2 655.6,808.3 654.8,807.4 C654.0,806.5 653.0,804.9 652.6,804.4" stroke-width="1.04"/><path d="M655.9,663.2 C655.7,663.2 655.2,663.2 654.9,663.3 C654.6,663.4 654.3,663.5 654.0,663.6 C653.6,663.7 653.3,663.9 653.1,664.1 C652.8,664.3 652.4,664.7 652.3,664.8" stroke-width="0.94"/><path d="M707.4,862.3 C707.5,862.5 708.1,863.3 708.3,863.9 C708.4,864.5 708.5,865.2 708.3,865.8 C708.2,866.4 707.9,867.0 707.5,867.5 C707.2,868.0 706.3,868.4 706.1,868.6" stroke-width="0.74"/><path d="M675.2,553.9 C675.2,554.5 675.0,556.5 675.0,557.8 C675.0,559.1 675.1,560.4 675.2,561.7 C675.3,563.0 675.4,564.3 675.6,565.6 C675.8,566.9 676.2,568.8 676.3,569.5" stroke-width="1.33"/><path d="M642.8,836.9 C642.6,836.8 641.8,836.4 641.3,836.0 C640.9,835.6 640.6,835.1 640.3,834.6 C640.0,834.1 639.9,833.5 639.8,832.9 C639.8,832.4 640.0,831.5 640.0,831.2" stroke-width="0.81"/><path d="M705.0,859.3 C705.4,859.5 706.8,859.9 707.7,860.0 C708.6,860.1 709.5,860.1 710.4,859.9 C711.3,859.7 712.2,859.4 713.0,858.9 C713.8,858.5 714.8,857.5 715.2,857.2" stroke-width="1.34"/><path d="M737.1,663.2 C737.4,663.0 738.3,662.5 738.9,662.1 C739.5,661.6 740.1,661.2 740.6,660.8 C741.2,660.3 741.7,659.8 742.3,659.4 C742.8,658.9 743.6,658.1 743.8,657.8" stroke-width="1.09"/><path d="M711.5,832.8 C711.8,832.9 712.8,833.0 713.4,833.4 C713.9,833.7 714.4,834.2 714.8,834.7 C715.1,835.2 715.3,835.9 715.3,836.6 C715.3,837.2 715.0,838.1 714.9,838.4" stroke-width="0.77"/><path d="M686.2,557.7 C686.7,558.2 687.9,559.7 689.0,560.3 C690.1,561.0 691.4,561.4 692.6,561.6 C693.8,561.7 695.2,561.6 696.4,561.2 C697.6,560.9 699.2,559.7 699.8,559.4" stroke-width="1.33"/><path d="M708.4,732.7 C707.9,732.8 706.6,733.0 705.8,733.3 C705.0,733.6 704.2,734.0 703.5,734.5 C702.8,735.0 702.1,735.7 701.6,736.4 C701.0,737.0 700.5,738.3 700.2,738.6" stroke-width="0.95"/><path d="M710.8,856.7 C711.1,857.0 711.7,857.8 712.1,858.3 C712.5,858.8 712.9,859.4 713.3,859.9 C713.7,860.5 714.0,861.0 714.4,861.6 C714.8,862.1 715.3,863.0 715.5,863.3" stroke-width="1.30"/><path d="M647.0,950.3 C646.7,950.0 646.0,948.8 645.3,948.3 C644.6,947.9 643.6,947.6 642.7,947.6 C641.9,947.7 640.9,948.0 640.2,948.5 C639.5,948.9 638.8,950.2 638.5,950.5" stroke-width="0.87"/><path d="M720.6,851.2 C720.9,851.5 721.8,852.5 722.5,853.1 C723.2,853.7 724.0,854.2 724.8,854.6 C725.6,855.0 726.5,855.4 727.3,855.6 C728.2,855.9 729.6,856.0 730.0,856.1" stroke-width="1.25"/><path d="M643.1,659.0 C643.1,659.6 643.3,661.1 643.0,662.1 C642.7,663.0 642.2,664.0 641.5,664.8 C640.9,665.5 640.0,666.2 639.1,666.5 C638.1,666.9 636.6,667.0 636.1,667.0" stroke-width="1.37"/><path d="M683.6,796.2 C684.2,796.0 686.0,795.3 687.3,795.1 C688.5,794.8 689.8,794.7 691.1,794.6 C692.3,794.6 693.6,794.7 694.9,794.8 C696.2,795.0 698.0,795.5 698.7,795.6" stroke-width="0.84"/><path d="M693.3,845.9 C693.5,845.7 693.9,845.1 694.3,844.7 C694.7,844.4 695.1,844.1 695.6,843.9 C696.0,843.7 696.6,843.6 697.1,843.5 C697.6,843.5 698.3,843.6 698.6,843.7" stroke-width="1.18"/><path d="M664.9,622.8 C665.3,622.7 666.3,622.6 667.0,622.6 C667.6,622.5 668.3,622.4 669.0,622.3 C669.7,622.2 670.3,622.1 671.0,622.0 C671.7,621.9 672.7,621.7 673.0,621.6" stroke-width="0.86"/><path d="M635.1,786.3 C634.9,786.0 634.4,785.2 634.0,784.8 C633.6,784.3 633.2,783.9 632.8,783.5 C632.3,783.1 631.8,782.7 631.3,782.4 C630.8,782.1 629.9,781.8 629.6,781.7" stroke-width="1.26"/><path d="M681.5,707.8 C681.1,708.1 680.0,709.1 679.2,709.3 C678.4,709.5 677.3,709.4 676.5,709.0 C675.8,708.6 675.0,707.8 674.7,707.1 C674.3,706.3 674.5,704.8 674.5,704.4" stroke-width="0.87"/><path d="M686.3,626.3 C686.5,626.6 687.0,627.5 687.4,628.1 C687.7,628.6 688.1,629.2 688.4,629.8 C688.8,630.4 689.1,630.9 689.4,631.5 C689.8,632.1 690.2,633.0 690.4,633.3" stroke-width="1.11"/><path d="M700.8,873.2 C701.0,873.3 701.5,873.8 702.0,874.0 C702.4,874.2 702.9,874.3 703.4,874.4 C703.9,874.4 704.4,874.3 704.9,874.1 C705.3,874.0 705.9,873.5 706.1,873.4" stroke-width="0.78"/><path d="M657.0,582.1 C657.3,581.8 658.1,580.8 658.8,580.3 C659.5,579.9 660.3,579.6 661.1,579.4 C661.9,579.3 662.8,579.4 663.5,579.5 C664.3,579.7 665.4,580.4 665.7,580.6" stroke-width="1.23"/><path d="M691.9,1027.9 C691.6,1027.7 690.6,1027.3 690.2,1026.9 C689.7,1026.5 689.3,1025.9 689.0,1025.3 C688.8,1024.8 688.6,1024.1 688.7,1023.4 C688.7,1022.8 689.1,1021.9 689.1,1021.6" stroke-width="0.91"/><path d="M681.6,867.3 C681.4,867.3 680.6,867.1 680.1,867.2 C679.6,867.3 679.1,867.5 678.6,867.8 C678.2,868.1 677.8,868.4 677.5,868.8 C677.2,869.3 677.0,870.0 676.9,870.3" stroke-width="1.37"/><path d="M707.4,1005.8 C707.6,1005.9 708.2,1006.1 708.5,1006.3 C708.9,1006.5 709.2,1006.7 709.5,1007.0 C709.8,1007.3 710.1,1007.7 710.3,1008.0 C710.5,1008.4 710.7,1009.0 710.8,1009.2" stroke-width="1.24"/><path d="M725.0,617.7 C725.2,617.6 725.7,617.0 725.9,616.6 C726.2,616.2 726.3,615.7 726.4,615.2 C726.5,614.7 726.6,614.2 726.5,613.7 C726.5,613.3 726.2,612.6 726.1,612.3" stroke-width="1.04"/><path d="M680.6,754.8 C680.7,755.1 680.8,756.2 680.8,756.9 C680.7,757.6 680.6,758.3 680.4,759.0 C680.2,759.7 679.9,760.3 679.6,760.9 C679.3,761.6 678.6,762.4 678.4,762.7" stroke-width="1.39"/><path d="M664.0,801.1 C664.3,801.5 665.6,802.6 666.1,803.6 C666.6,804.5 667.0,805.6 667.1,806.7 C667.2,807.7 667.2,808.9 666.9,809.9 C666.6,811.0 665.6,812.3 665.4,812.8" stroke-width="0.97"/><path d="M733.7,662.2 C733.2,662.3 731.7,662.9 730.7,662.9 C729.8,662.8 728.7,662.4 727.9,661.8 C727.1,661.2 726.4,660.3 726.1,659.4 C725.7,658.5 725.9,656.9 725.9,656.4" stroke-width="1.02"/><path d="M646.1,1034.7 C646.1,1035.1 645.9,1036.1 645.6,1036.8 C645.4,1037.4 645.1,1038.1 644.7,1038.7 C644.3,1039.3 643.9,1039.9 643.4,1040.4 C642.9,1040.9 642.1,1041.6 641.8,1041.8" stroke-width="0.94"/><path d="M711.0,668.3 C711.2,668.6 711.6,669.8 712.1,670.3 C712.6,670.8 713.3,671.3 714.0,671.5 C714.7,671.8 715.6,671.8 716.3,671.7 C717.1,671.5 718.0,670.8 718.4,670.6" stroke-width="0.74"/><path d="M713.1,629.3 C712.8,629.0 712.2,628.1 711.7,627.6 C711.1,627.2 710.5,626.8 709.8,626.6 C709.1,626.4 708.4,626.3 707.7,626.3 C707.0,626.3 705.9,626.7 705.6,626.7" stroke-width="0.86"/><path d="M681.9,1030.8 C681.8,1030.6 681.7,1029.8 681.6,1029.3 C681.6,1028.8 681.6,1028.3 681.7,1027.7 C681.7,1027.2 681.8,1026.7 681.9,1026.2 C682.1,1025.7 682.4,1025.0 682.4,1024.7" stroke-width="1.16"/><path d="M653.9,884.3 C653.2,884.5 651.3,885.0 650.0,885.1 C648.7,885.1 647.3,885.0 646.1,884.6 C644.8,884.3 643.6,883.7 642.5,883.0 C641.4,882.3 640.0,880.9 639.5,880.4" stroke-width="0.85"/><path d="M697.1,1033.7 C696.0,1034.8 692.4,1037.7 690.6,1040.1 C688.7,1042.5 687.2,1045.3 686.2,1048.1 C685.2,1050.9 684.6,1054.0 684.5,1057.0 C684.4,1060.0 685.4,1064.6 685.6,1066.1" stroke-width="1.31"/><path d="M673.3,530.4 C672.4,530.7 669.6,531.5 667.7,531.9 C665.8,532.3 663.9,532.6 662.0,532.9 C660.0,533.1 658.1,533.3 656.2,533.4 C654.2,533.5 651.3,533.5 650.3,533.5" stroke-width="1.92"/><path d="M649.2,638.0 C648.0,638.3 644.3,639.1 642.1,640.1 C639.9,641.1 637.7,642.6 635.9,644.2 C634.1,645.9 632.5,647.9 631.3,650.0 C630.1,652.1 629.1,655.8 628.6,656.9" stroke-width="1.62"/><path d="M659.1,698.7 C659.4,699.5 660.4,701.8 661.0,703.3 C661.7,704.9 662.3,706.4 663.0,708.0 C663.6,709.5 664.3,711.0 664.9,712.6 C665.6,714.1 666.6,716.4 666.9,717.1" stroke-width="1.80"/><path d="M717.2,993.5 C717.8,993.5 719.6,993.6 720.8,993.6 C721.9,993.6 723.1,993.6 724.3,993.6 C725.5,993.6 726.7,993.5 727.9,993.5 C729.0,993.5 730.8,993.5 731.4,993.5" stroke-width="1.38"/><path d="M744.5,792.5 C746.0,792.6 750.5,792.2 753.3,792.9 C756.1,793.5 759.0,794.8 761.4,796.4 C763.8,798.1 766.0,800.3 767.6,802.7 C769.2,805.1 770.5,809.5 771.1,810.9" stroke-width="1.23"/><path d="M730.3,925.3 C731.7,925.1 736.1,925.1 738.7,924.0 C741.2,923.0 743.8,921.2 745.6,919.1 C747.4,917.0 748.8,914.3 749.5,911.6 C750.2,908.9 749.7,904.5 749.7,903.1" stroke-width="1.85"/><path d="M702.1,827.2 C703.4,827.9 707.4,829.7 710.1,830.9 C712.8,832.1 715.6,833.3 718.3,834.5 C721.0,835.7 723.7,836.9 726.4,838.0 C729.2,839.2 733.3,840.8 734.6,841.4" stroke-width="1.93"/><path d="M654.0,743.8 C653.1,744.4 650.0,745.7 648.5,747.2 C646.9,748.7 645.6,750.6 644.8,752.6 C644.0,754.5 643.5,756.9 643.6,759.0 C643.7,761.1 644.9,764.3 645.1,765.3" stroke-width="1.22"/><path d="M655.6,923.2 C656.1,923.1 657.8,922.8 658.9,922.7 C660.0,922.6 661.1,922.5 662.2,922.6 C663.2,922.6 664.4,922.7 665.4,922.9 C666.5,923.0 668.1,923.4 668.7,923.5" stroke-width="1.65"/><path d="M703.4,873.7 C703.2,872.3 702.2,867.8 701.7,864.9 C701.3,861.9 701.0,858.9 700.9,855.9 C700.7,852.9 700.8,849.8 700.9,846.8 C701.0,843.8 701.6,839.3 701.8,837.8" stroke-width="1.55"/><path d="M697.9,854.9 C699.0,856.1 702.6,859.5 704.8,862.0 C707.0,864.4 709.1,866.9 711.2,869.5 C713.2,872.1 715.2,874.7 717.1,877.4 C718.9,880.1 721.5,884.3 722.4,885.7" stroke-width="1.62"/><path d="M734.8,901.8 C734.4,902.9 732.7,906.2 732.2,908.5 C731.6,910.8 731.4,913.3 731.6,915.7 C731.8,918.0 732.3,920.5 733.2,922.7 C734.0,924.9 736.2,927.9 736.8,928.9" stroke-width="1.40"/><path d="M675.7,804.7 C674.4,805.2 670.3,806.2 667.8,807.2 C665.3,808.3 662.8,809.7 660.6,811.3 C658.4,812.9 656.3,814.8 654.4,816.8 C652.5,818.8 650.3,822.3 649.5,823.4" stroke-width="1.93"/><path d="M678.4,563.4 C677.7,564.8 676.1,569.6 674.1,572.0 C672.1,574.5 669.3,576.7 666.5,578.0 C663.6,579.4 660.2,580.2 657.0,580.2 C653.8,580.2 649.1,578.5 647.5,578.2" stroke-width="1.42"/><path d="M731.3,1043.9 C731.1,1044.3 730.4,1045.7 730.1,1046.6 C729.7,1047.6 729.5,1048.6 729.4,1049.6 C729.3,1050.6 729.2,1051.6 729.3,1052.6 C729.4,1053.6 729.7,1055.1 729.8,1055.6" stroke-width="1.59"/><path d="M669.1,955.2 C669.8,956.7 672.4,961.0 673.4,964.1 C674.4,967.3 675.1,970.6 675.2,973.9 C675.4,977.2 675.1,980.6 674.4,983.9 C673.7,987.1 671.6,991.7 671.0,993.2" stroke-width="1.40"/><path d="M635.3,549.1 C634.5,549.2 631.8,549.7 630.0,550.0 C628.3,550.3 626.5,550.6 624.8,551.0 C623.0,551.3 621.3,551.7 619.5,552.1 C617.8,552.4 615.1,553.0 614.3,553.2" stroke-width="1.57"/><path d="M644.9,759.9 C644.1,760.6 642.0,762.9 640.3,763.9 C638.5,765.0 636.5,765.8 634.5,766.2 C632.5,766.6 630.4,766.6 628.4,766.3 C626.4,766.0 623.5,764.7 622.5,764.3" stroke-width="1.38"/><path d="M645.1,950.8 C646.5,951.1 651.0,951.7 653.5,953.0 C656.1,954.3 658.5,956.4 660.2,958.6 C662.0,960.8 663.3,963.7 664.0,966.5 C664.6,969.2 664.1,973.7 664.1,975.2" stroke-width="1.94"/><path d="M723.9,559.4 C724.6,559.9 726.8,561.4 728.2,562.4 C729.7,563.4 731.1,564.4 732.5,565.4 C733.9,566.5 735.4,567.5 736.8,568.5 C738.2,569.6 740.3,571.2 741.0,571.7" stroke-width="2.00"/><path d="M705.1,612.5 C704.9,613.6 704.0,617.2 704.0,619.5 C703.9,621.9 704.2,624.3 704.7,626.6 C705.3,628.9 706.2,631.2 707.3,633.3 C708.4,635.4 710.7,638.2 711.4,639.1" stroke-width="1.92"/><path d="M712.8,837.8 C712.4,836.7 711.4,833.4 710.8,831.1 C710.2,828.9 709.5,826.7 708.9,824.4 C708.3,822.2 707.7,820.0 707.2,817.7 C706.6,815.5 705.8,812.1 705.5,811.0" stroke-width="1.71"/><path d="M691.6,800.0 C690.5,800.4 687.1,801.4 685.0,802.4 C682.9,803.4 680.9,804.7 679.1,806.2 C677.4,807.7 675.7,809.4 674.3,811.2 C672.9,813.0 671.3,816.2 670.7,817.2" stroke-width="1.59"/><path d="M664.3,858.1 C663.8,856.7 662.5,852.3 661.6,849.5 C660.6,846.6 659.7,843.7 658.8,840.8 C657.8,838.0 656.9,835.1 655.9,832.3 C655.0,829.4 653.5,825.1 653.0,823.7" stroke-width="1.55"/><path d="M736.0,916.7 C735.8,917.2 735.2,918.8 734.8,919.9 C734.4,921.0 734.0,922.1 733.6,923.2 C733.2,924.3 732.8,925.4 732.4,926.5 C732.0,927.6 731.4,929.2 731.2,929.8" stroke-width="1.58"/><path d="M689.9,788.5 C688.7,789.3 685.0,791.7 682.9,793.6 C680.8,795.5 678.8,797.6 677.0,799.9 C675.3,802.2 673.7,804.7 672.5,807.3 C671.2,809.9 669.9,814.0 669.4,815.4" stroke-width="1.26"/><path d="M696.6,962.2 C695.8,961.7 693.3,960.4 692.0,959.1 C690.8,957.9 689.7,956.2 688.9,954.6 C688.2,952.9 687.8,951.0 687.8,949.2 C687.7,947.4 688.5,944.7 688.7,943.8" stroke-width="1.40"/><path d="M720.3,1040.3 C719.9,1039.2 718.8,1035.4 717.5,1033.2 C716.2,1031.1 714.5,1029.1 712.6,1027.5 C710.6,1025.9 708.3,1024.5 705.9,1023.7 C703.6,1022.8 699.7,1022.5 698.4,1022.3" stroke-width="1.62"/><path d="M744.5,870.1 C744.0,870.7 742.7,873.0 741.5,874.0 C740.3,875.0 738.6,875.8 737.1,876.1 C735.5,876.4 733.7,876.3 732.2,875.8 C730.7,875.4 728.7,873.7 728.0,873.3" stroke-width="1.81"/><path d="M639.4,702.9 C640.1,702.9 642.2,702.9 643.4,703.3 C644.7,703.7 645.9,704.4 646.9,705.3 C647.8,706.2 648.7,707.4 649.1,708.7 C649.6,709.9 649.6,712.0 649.7,712.6" stroke-width="1.41"/><path d="M663.0,667.6 C662.3,667.6 660.2,667.9 659.0,667.6 C657.7,667.3 656.4,666.6 655.4,665.8 C654.4,664.9 653.5,663.7 653.0,662.5 C652.5,661.3 652.5,659.1 652.4,658.5" stroke-width="1.89"/><path d="M672.6,797.9 C672.3,799.4 671.8,804.3 670.6,807.2 C669.4,810.1 667.5,812.9 665.4,815.1 C663.2,817.3 660.4,819.3 657.6,820.6 C654.8,821.8 649.9,822.4 648.4,822.8" stroke-width="1.32"/><path d="M735.2,907.4 C735.3,908.8 735.5,913.0 736.1,915.8 C736.8,918.5 737.7,921.2 738.9,923.7 C740.1,926.2 741.6,928.7 743.3,930.9 C745.0,933.1 748.1,936.0 749.1,937.0" stroke-width="1.79"/><path d="M646.0,630.4 C647.4,630.2 651.9,628.9 654.8,629.1 C657.7,629.2 660.9,630.1 663.5,631.5 C666.0,632.9 668.5,635.0 670.3,637.3 C672.1,639.6 673.5,644.1 674.1,645.4" stroke-width="1.53"/><path d="M656.8,720.9 C657.8,720.4 660.7,719.0 662.8,718.2 C664.8,717.4 666.9,716.6 668.9,716.0 C671.0,715.3 673.1,714.7 675.3,714.2 C677.4,713.7 680.6,713.2 681.7,712.9" stroke-width="1.25"/><path d="M720.3,951.5 C720.2,952.3 719.5,954.9 719.6,956.5 C719.8,958.2 720.3,959.9 721.1,961.4 C721.9,962.9 723.1,964.3 724.4,965.3 C725.7,966.3 728.1,967.2 728.9,967.5" stroke-width="1.47"/><path d="M666.1,725.8 C666.3,725.1 667.4,723.0 667.8,721.6 C668.2,720.1 668.3,718.5 668.3,717.0 C668.3,715.4 668.1,713.9 667.7,712.4 C667.3,710.9 666.2,708.9 665.9,708.2" stroke-width="1.75"/><path d="M641.4,953.2 C642.5,953.8 646.0,955.6 648.1,957.1 C650.2,958.5 652.3,960.1 654.1,961.9 C656.0,963.7 657.8,965.6 659.3,967.6 C660.9,969.6 662.9,973.0 663.6,974.1" stroke-width="1.80"/><path d="M733.1,783.9 C732.6,783.2 731.3,780.8 730.1,779.5 C728.8,778.3 727.3,777.2 725.7,776.5 C724.1,775.7 722.3,775.2 720.6,775.0 C718.9,774.9 716.2,775.4 715.3,775.4" stroke-width="1.50"/><path d="M700.5,816.6 C699.2,817.1 695.5,819.2 692.9,819.8 C690.2,820.4 687.3,820.6 684.6,820.3 C681.9,820.0 679.1,819.3 676.7,818.2 C674.2,817.1 671.0,814.4 669.8,813.6" stroke-width="1.65"/><path d="M727.6,707.0 C727.8,706.0 728.4,703.3 728.8,701.4 C729.2,699.5 729.6,697.7 730.0,695.8 C730.4,694.0 730.8,692.1 731.1,690.2 C731.4,688.4 731.9,685.5 732.1,684.6" stroke-width="1.81"/><path d="M702.5,952.2 C703.0,952.2 704.9,952.3 706.0,951.9 C707.1,951.6 708.2,951.0 709.1,950.2 C709.9,949.4 710.7,948.4 711.1,947.3 C711.6,946.3 711.7,944.4 711.8,943.9" stroke-width="1.47"/><path d="M638.1,819.7 C637.8,818.8 636.7,816.3 636.4,814.6 C636.0,812.9 635.9,811.1 636.0,809.3 C636.1,807.6 636.4,805.8 636.9,804.1 C637.4,802.4 638.7,800.0 639.1,799.2" stroke-width="1.36"/><path d="M686.4,815.7 C685.5,815.9 682.4,816.1 680.6,816.8 C678.9,817.6 677.1,818.8 675.8,820.2 C674.5,821.6 673.4,823.4 672.7,825.2 C672.1,827.0 672.1,830.1 672.0,831.1" stroke-width="1.56"/><path d="M685.3,1000.8 C686.0,1000.1 688.2,998.1 689.7,996.9 C691.3,995.7 692.9,994.6 694.5,993.5 C696.2,992.5 698.0,991.5 699.7,990.7 C701.5,989.9 704.3,988.8 705.2,988.5" stroke-width="1.31"/><path d="M659.2,997.9 C659.9,999.4 662.3,1003.9 663.0,1007.1 C663.8,1010.3 664.1,1013.8 663.8,1017.1 C663.5,1020.4 662.7,1023.8 661.5,1026.8 C660.2,1029.8 657.2,1033.9 656.3,1035.3" stroke-width="1.71"/><path d="M660.4,1000.4 C660.9,1000.6 662.5,1001.2 663.5,1001.8 C664.4,1002.5 665.3,1003.3 666.0,1004.2 C666.7,1005.1 667.3,1006.1 667.6,1007.2 C668.0,1008.3 668.2,1010.0 668.3,1010.6" stroke-width="1.77"/><path d="M738.8,541.1 C739.3,541.3 740.7,541.9 741.6,542.4 C742.5,542.9 743.4,543.5 744.2,544.1 C745.0,544.7 745.8,545.5 746.4,546.2 C747.1,547.0 748.0,548.3 748.3,548.7" stroke-width="1.33"/><path d="M700.0,698.8 C700.8,699.5 703.1,702.1 705.0,703.1 C706.9,704.1 709.3,704.7 711.4,704.7 C713.5,704.8 715.9,704.3 717.9,703.4 C719.8,702.5 722.2,700.1 723.1,699.4" stroke-width="1.23"/><path d="M668.6,788.9 C667.8,787.8 665.5,783.9 663.4,781.9 C661.4,779.9 658.9,778.1 656.4,776.7 C653.8,775.4 650.9,774.5 648.1,774.0 C645.2,773.5 640.8,773.8 639.3,773.8" stroke-width="1.57"/><path d="M656.4,787.6 C656.4,788.4 656.6,790.7 656.5,792.3 C656.5,793.9 656.3,795.5 656.1,797.0 C655.9,798.6 655.6,800.2 655.3,801.7 C654.9,803.2 654.2,805.5 654.0,806.3" stroke-width="1.99"/><path d="M693.3,799.1 C694.0,800.2 696.0,803.7 697.4,806.0 C698.9,808.2 700.3,810.5 701.7,812.8 C703.2,815.0 704.7,817.3 706.2,819.5 C707.6,821.7 709.9,825.1 710.7,826.2" stroke-width="1.75"/><path d="M723.5,984.8 C723.3,983.4 722.8,979.1 722.2,976.3 C721.7,973.5 721.1,970.7 720.4,967.9 C719.6,965.2 718.8,962.4 717.9,959.7 C716.9,957.0 715.3,953.0 714.7,951.7" stroke-width="1.73"/><path d="M662.0,846.5 C662.4,847.1 663.5,848.9 664.1,850.1 C664.8,851.4 665.3,852.7 665.8,854.0 C666.3,855.3 666.8,856.7 667.1,858.0 C667.5,859.4 667.9,861.5 668.0,862.1" stroke-width="1.50"/><path d="M692.8,855.3 C693.2,856.2 694.0,858.9 695.0,860.6 C695.9,862.2 697.2,863.7 698.5,865.0 C699.9,866.3 701.5,867.4 703.2,868.3 C704.9,869.1 707.7,869.8 708.5,870.1" stroke-width="1.38"/><path d="M690.6,648.4 C692.2,648.8 697.1,649.6 700.0,650.9 C703.0,652.2 705.8,654.1 708.1,656.3 C710.5,658.5 712.5,661.2 714.0,664.1 C715.5,666.9 716.6,671.8 717.1,673.3" stroke-width="1.81"/><path d="M683.2,577.0 C683.1,575.9 682.5,572.3 682.7,570.0 C683.0,567.8 683.8,565.4 684.9,563.4 C686.0,561.3 687.5,559.4 689.3,557.9 C691.0,556.4 694.3,555.0 695.3,554.4" stroke-width="1.78"/><path d="M704.6,690.5 C704.1,690.1 702.6,688.9 701.5,688.4 C700.4,687.9 699.1,687.6 697.8,687.6 C696.6,687.5 695.3,687.8 694.1,688.2 C693.0,688.6 691.4,689.8 690.9,690.1" stroke-width="1.81"/><path d="M714.1,861.8 C714.9,862.1 717.0,863.5 718.6,863.7 C720.2,864.0 722.0,863.9 723.5,863.4 C725.0,862.9 726.5,861.9 727.6,860.7 C728.7,859.6 729.6,857.1 730.0,856.4" stroke-width="1.34"/><path d="M721.4,612.5 C722.8,612.5 726.9,612.3 729.6,612.3 C732.3,612.4 735.1,612.5 737.8,612.7 C740.5,612.9 743.2,613.2 745.9,613.6 C748.6,614.0 752.6,614.9 753.9,615.1" stroke-width="1.33"/><path d="M684.2,747.7 C684.4,746.9 684.8,744.2 685.7,742.8 C686.5,741.3 687.8,739.9 689.2,739.0 C690.6,738.1 692.3,737.4 694.0,737.2 C695.6,737.0 698.3,737.6 699.1,737.7" stroke-width="1.30"/><path d="M722.5,739.4 C722.7,740.2 723.1,742.9 723.9,744.4 C724.6,745.9 725.8,747.3 727.1,748.4 C728.4,749.4 730.0,750.3 731.6,750.8 C733.3,751.2 735.9,751.1 736.8,751.1" stroke-width="1.63"/><path d="M676.3,901.9 C675.5,902.6 673.0,904.3 671.6,905.7 C670.2,907.2 669.0,908.9 668.1,910.7 C667.1,912.5 666.4,914.5 666.1,916.5 C665.7,918.5 665.8,921.6 665.7,922.6" stroke-width="1.55"/><path d="M713.1,969.7 C714.0,969.1 716.6,966.7 718.6,965.6 C720.6,964.6 722.9,963.9 725.1,963.6 C727.3,963.3 729.8,963.4 732.0,963.8 C734.2,964.3 737.3,965.9 738.3,966.3" stroke-width="1.59"/><path d="M683.7,845.3 C682.5,844.5 678.9,842.2 676.4,840.8 C674.0,839.4 671.4,838.1 668.9,837.0 C666.3,835.8 663.6,834.7 661.0,833.7 C658.3,832.8 654.2,831.6 652.8,831.2" stroke-width="1.83"/><path d="M697.4,596.4 C696.5,596.3 693.7,596.3 691.9,596.2 C690.1,596.1 688.2,595.9 686.4,595.7 C684.6,595.5 682.8,595.3 681.0,594.9 C679.2,594.6 676.5,594.1 675.6,593.9" stroke-width="1.64"/><path d="M729.4,714.0 C730.4,715.1 733.3,718.4 735.4,720.4 C737.5,722.4 739.8,724.2 742.2,725.9 C744.6,727.5 747.2,729.0 749.8,730.3 C752.4,731.6 756.5,733.1 757.9,733.7" stroke-width="1.44"/><path d="M697.7,589.2 C698.8,589.0 701.9,587.9 704.0,587.8 C706.2,587.7 708.4,588.0 710.4,588.7 C712.5,589.3 714.5,590.4 716.2,591.7 C717.8,593.0 719.8,595.7 720.5,596.5" stroke-width="1.72"/><path d="M677.6,779.7 C677.2,781.0 676.3,785.1 675.1,787.6 C674.0,790.1 672.4,792.4 670.6,794.5 C668.8,796.5 666.7,798.4 664.4,799.9 C662.1,801.4 658.1,802.8 656.9,803.3" stroke-width="1.88"/><path d="M696.0,997.8 C696.8,998.6 698.8,1001.0 700.5,1002.4 C702.1,1003.8 703.9,1005.0 705.7,1006.0 C707.6,1007.0 709.6,1007.8 711.6,1008.4 C713.6,1009.0 716.8,1009.4 717.9,1009.6" stroke-width="1.87"/><path d="M683.4,941.2 C683.5,941.9 683.7,943.8 683.8,945.1 C683.9,946.4 683.9,947.6 684.0,948.9 C684.0,950.2 684.0,951.5 684.0,952.8 C684.0,954.0 683.9,956.0 683.9,956.6" stroke-width="1.59"/><path d="M739.7,1046.4 C740.4,1046.9 742.1,1048.7 743.5,1049.5 C744.9,1050.3 746.6,1050.8 748.2,1051.1 C749.7,1051.4 751.5,1051.4 753.1,1051.1 C754.6,1050.8 756.9,1049.7 757.7,1049.4" stroke-width="1.85"/><path d="M707.1,983.2 C707.0,982.3 706.5,979.5 706.5,977.6 C706.4,975.7 706.6,973.8 707.0,971.9 C707.3,970.1 707.9,968.2 708.6,966.5 C709.3,964.8 710.9,962.3 711.3,961.5" stroke-width="1.84"/><path d="M653.7,735.3 C653.7,736.5 654.1,739.9 653.9,742.1 C653.8,744.4 653.3,746.7 652.7,748.8 C652.0,751.0 651.1,753.1 650.0,755.1 C648.9,757.0 646.7,759.7 646.1,760.6" stroke-width="1.80"/><path d="M673.2,933.8 C673.1,932.4 672.7,928.3 672.7,925.5 C672.7,922.7 672.9,920.0 673.2,917.2 C673.5,914.5 673.9,911.7 674.5,909.1 C675.1,906.4 676.4,902.4 676.8,901.1" stroke-width="1.66"/><path d="M670.2,899.2 C669.9,897.7 670.0,892.8 668.8,890.1 C667.7,887.3 665.6,884.6 663.3,882.7 C661.0,880.8 657.9,879.3 655.0,878.8 C652.1,878.2 647.3,879.2 645.8,879.3" stroke-width="1.63"/><path d="M669.7,541.4 C669.4,542.5 668.6,545.8 667.7,548.0 C666.9,550.1 665.9,552.1 664.7,554.1 C663.6,556.1 662.2,557.9 660.7,559.7 C659.3,561.4 656.7,563.7 655.9,564.5" stroke-width="1.90"/><path d="M682.8,540.2 C682.0,539.5 679.3,537.5 677.7,535.9 C676.2,534.4 674.7,532.7 673.4,530.9 C672.1,529.1 671.0,527.2 670.0,525.2 C669.0,523.3 667.9,520.1 667.5,519.1" stroke-width="1.42"/><path d="M678.5,831.2 C677.9,830.3 676.5,827.4 675.0,826.0 C673.5,824.5 671.6,823.3 669.7,822.6 C667.8,821.9 665.5,821.5 663.5,821.7 C661.5,821.8 658.4,823.0 657.4,823.2" stroke-width="1.27"/></g>
</g>
<rect x="212" y="993.8" width="58.4" height="5.7" fill="#ff0000"/>
<rect x="362.1" y="997.4" width="58.8" height="5.5" fill="#ff0000"/>
<rect x="512.5" y="996.5" width="60.2" height="5.5" fill="#ff0000"/>
<rect x="680.5" y="997.1" width="59.4" height="5.6" fill="#ff0000"/>
<text x="0.6" y="1137" class="b" font-size="34.5">B</text>
<rect x="152.3" y="1658.6" width="69.5" height="23.4" rx="1" fill="#b2b2b2" stroke="#2e2e2e" stroke-width="1.2"/>
<rect x="221.8" y="1489" width="69.8" height="193" rx="1" fill="#b2b2b2" stroke="#2e2e2e" stroke-width="1.2"/>
<rect x="291.6" y="1260" width="69.6" height="422" rx="1" fill="#b2b2b2" stroke="#2e2e2e" stroke-width="1.2"/>
<rect x="361.2" y="1302" width="69.6" height="380" rx="1" fill="#b2b2b2" stroke="#2e2e2e" stroke-width="1.2"/>
<rect x="430.8" y="1417" width="69.6" height="265" rx="1" fill="#b2b2b2" stroke="#2e2e2e" stroke-width="1.2"/>
<rect x="500.4" y="1531" width="69.6" height="151" rx="1" fill="#b2b2b2" stroke="#2e2e2e" stroke-width="1.2"/>
<rect x="570" y="1592" width="69.6" height="90" rx="1" fill="#b2b2b2" stroke="#2e2e2e" stroke-width="1.2"/>
<rect x="639.6" y="1646.3" width="69.6" height="35.7" rx="1" fill="#b2b2b2" stroke="#2e2e2e" stroke-width="1.2"/>
<rect x="709.2" y="1646.3" width="69.7" height="35.7" rx="1" fill="#b2b2b2" stroke="#2e2e2e" stroke-width="1.2"/>
<rect x="778.9" y="1676.2" width="69.5" height="5.8" rx="1" fill="#b2b2b2" stroke="#2e2e2e" stroke-width="1.2"/>
<rect x="848.4" y="1664.2" width="69.7" height="17.8" rx="1" fill="#b2b2b2" stroke="#2e2e2e" stroke-width="1.2"/>
<path d="M148.2,1681.2 L152.3,1680.6 L166.3,1676.0 L180.2,1664.7 L194.1,1643.5 L208.0,1611.2 L222.0,1568.9 L235.9,1519.4 L249.8,1466.7 L263.8,1415.1 L277.7,1367.9 L291.6,1327.9 L305.5,1296.7 L319.5,1275.0 L333.4,1262.4 L347.3,1258.5 L361.2,1262.1 L375.2,1271.9 L389.1,1286.7 L403.0,1305.3 L416.9,1326.5 L430.9,1349.3 L444.8,1373.0 L458.7,1396.9 L472.7,1420.4 L486.6,1443.2 L500.5,1465.0 L514.4,1485.5 L528.4,1504.7 L542.3,1522.5 L556.2,1538.9 L570.1,1553.9 L584.1,1567.6 L598.0,1580.0 L611.9,1591.2 L625.9,1601.3 L639.8,1610.3 L653.7,1618.4 L667.6,1625.6 L681.6,1632.1 L695.5,1637.8 L709.4,1642.9 L723.3,1647.4 L737.3,1651.4 L751.2,1655.0 L765.1,1658.1 L779.1,1660.9 L793.0,1663.4 L806.9,1665.6 L820.8,1667.5 L834.8,1669.2 L848.7,1670.7 L862.6,1672.0 L876.5,1673.1 L890.5,1674.2 L904.4,1675.1 L918.3,1675.9" fill="none" stroke="#0000ff" stroke-width="2.5" stroke-linejoin="round" stroke-linecap="round"/>
<rect x="85.3" y="1180" width="7.6" height="509.4" fill="#000"/>
<path d="M88.9,1160.3 L77.9,1182.4 L100.3,1182.4 Z" fill="#000"/>
<rect x="85.3" y="1680.6" width="856" height="7.6" fill="#000"/>
<path d="M962.8,1684.3 L940.3,1673.5 L940.3,1695.1 Z" fill="#000"/>
<text transform="translate(58,1199.4) scale(1,1.055)" text-anchor="middle" font-size="31.3">80</text>
<text transform="translate(57.1,1322.8) scale(1,1.055)" text-anchor="middle" font-size="31.3">60</text>
<text transform="translate(55.7,1446.2) scale(1,1.055)" text-anchor="middle" font-size="31.3">40</text>
<text transform="translate(56.4,1569.3) scale(1,1.055)" text-anchor="middle" font-size="31.3">20</text>
<text transform="translate(57.5,1691.2) scale(1,1.055)" text-anchor="middle" font-size="31.3">0</text>
<text transform="translate(88.2,1723.8) scale(1,1.045)" text-anchor="middle" font-size="31.3">0</text>
<text transform="translate(224,1727.6) scale(1,1.045)" text-anchor="middle" font-size="31.3">1</text>
<text transform="translate(360.3,1728.6) scale(1,1.045)" text-anchor="middle" font-size="31.3">2</text>
<text transform="translate(496.6,1726) scale(1,1.045)" text-anchor="middle" font-size="31.3">3</text>
<text transform="translate(636.8,1730) scale(1,1.045)" text-anchor="middle" font-size="31.3">4</text>
<text transform="translate(775.2,1729.8) scale(1,1.045)" text-anchor="middle" font-size="31.3">5</text>
<text transform="translate(915.4,1729.8) scale(1,1.045)" text-anchor="middle" font-size="31.3">6</text>
<text transform="translate(23.3,1453.5) rotate(-90)" text-anchor="middle" class="b" font-size="30.5">Frequency</text>
<text x="525.5" y="1762" text-anchor="middle" class="b" font-size="31.8">Fiber Diameter (μm)</text>
<rect x="170.9" y="1164.3" width="56.6" height="41" fill="#b2b2b2" stroke="#111" stroke-width="1.3"/>
<text transform="translate(234.3,1193.4) scale(1.092,1)" font-size="22.3">Histogram</text>
<path d="M365,1186.5 L445,1186.5" stroke="#0000ff" stroke-width="2.8"/>
<text transform="translate(459.3,1193.8) scale(1.092,1)" font-size="22.3">Log-Normal Distribution</text>
<rect x="220" y="1207" width="1.2" height="2" fill="#b5b5b5"/>
<rect x="361" y="1207" width="1.2" height="2" fill="#b5b5b5"/>
<rect x="500" y="1207" width="1.2" height="2" fill="#b5b5b5"/>
<rect x="640" y="1207" width="1.2" height="2" fill="#b5b5b5"/>
<rect x="779" y="1207" width="1.2" height="2" fill="#b5b5b5"/>
<text x="1.2" y="1829" class="b" font-size="33.5">C</text>
<defs><pattern id="dots" width="4" height="4" patternUnits="userSpaceOnUse"><rect width="4" height="4" fill="#dcdcdc"/><rect x="0" y="0" width="1" height="1" fill="#cfcfcf"/><rect x="2" y="2" width="1" height="1" fill="#cfcfcf"/><rect x="2" y="0" width="1" height="1" fill="#e6e6e6"/><rect x="0" y="2" width="1" height="1" fill="#e6e6e6"/></pattern></defs>
<rect x="281.3" y="2172.5" width="101.3" height="201.5" fill="url(#dots)" stroke="#000" stroke-width="4" rx="0.8"/>
<rect x="530.7" y="2131" width="100.4" height="243" fill="url(#dots)" stroke="#000" stroke-width="4" rx="0.8"/>
<rect x="779.7" y="1928.5" width="100.9" height="445.5" fill="url(#dots)" stroke="#000" stroke-width="4" rx="0.8"/>
<path d="M331.8,2138.5 L331.8,2205.5 M324.3,2138.5 L339.3,2138.5 M324.3,2205.5 L339.3,2205.5" stroke="#000" stroke-width="3.8" fill="none"/>
<path d="M581,2113 L581,2148 M573.5,2113 L588.5,2113 M573.5,2148 L588.5,2148" stroke="#000" stroke-width="3.8" fill="none"/>
<path d="M830.3,1857 L830.3,1997 M822.8,1857 L837.8,1857 M822.8,1997 L837.8,1997" stroke="#000" stroke-width="3.8" fill="none"/>
<rect x="201.5" y="1846" width="9" height="531" fill="#000"/>
<rect x="201.5" y="2367.4" width="758" height="9.1" fill="#000"/>
<rect x="205.8" y="1841.5" width="9.9" height="9" fill="#000"/>
<rect x="207" y="1973.15" width="8.7" height="9.3" fill="#000"/>
<rect x="207" y="2104.35" width="8.7" height="9.3" fill="#000"/>
<rect x="207" y="2237.35" width="8.7" height="9.3" fill="#000"/>
<rect x="452" y="2364.4" width="8.6" height="6" fill="#000"/>
<rect x="700.8" y="2364.4" width="8.6" height="6" fill="#000"/>
<rect x="951.9" y="2364.4" width="8.6" height="6" fill="#000"/>
<text transform="translate(180.9,1855) scale(0.88,1)" text-anchor="end" class="b" font-size="33.4">1,000</text>
<text transform="translate(180.9,1987.4) scale(0.88,1)" text-anchor="end" class="b" font-size="33.4">750</text>
<text transform="translate(180.9,2118.8) scale(0.88,1)" text-anchor="end" class="b" font-size="33.4">500</text>
<text transform="translate(180.9,2250.6) scale(0.88,1)" text-anchor="end" class="b" font-size="33.4">250</text>
<text transform="translate(180.9,2382) scale(0.88,1)" text-anchor="end" class="b" font-size="33.4">0</text>
<text transform="translate(332.7,2418.4) scale(0.947,1)" text-anchor="middle" class="b" font-size="33">2.5</text>
<text transform="translate(582.2,2418.4) scale(0.947,1)" text-anchor="middle" class="b" font-size="33">5</text>
<text transform="translate(832.4,2418.4) scale(0.947,1)" text-anchor="middle" class="b" font-size="33">10</text>
<text transform="translate(580.5,2465.3) scale(0.976,1)" text-anchor="middle" class="b" font-size="33.7">Nominal Fiber Concentration (%)</text>
<text transform="translate(71.3,2108.8) rotate(-90)" text-anchor="middle" class="b" font-size="33">Fiber Number Density</text>
<text transform="translate(110.4,2109.3) rotate(-90)" text-anchor="middle" class="b" font-size="33">(Fibers per sq. mm)</text>
</svg>
</body></html>
